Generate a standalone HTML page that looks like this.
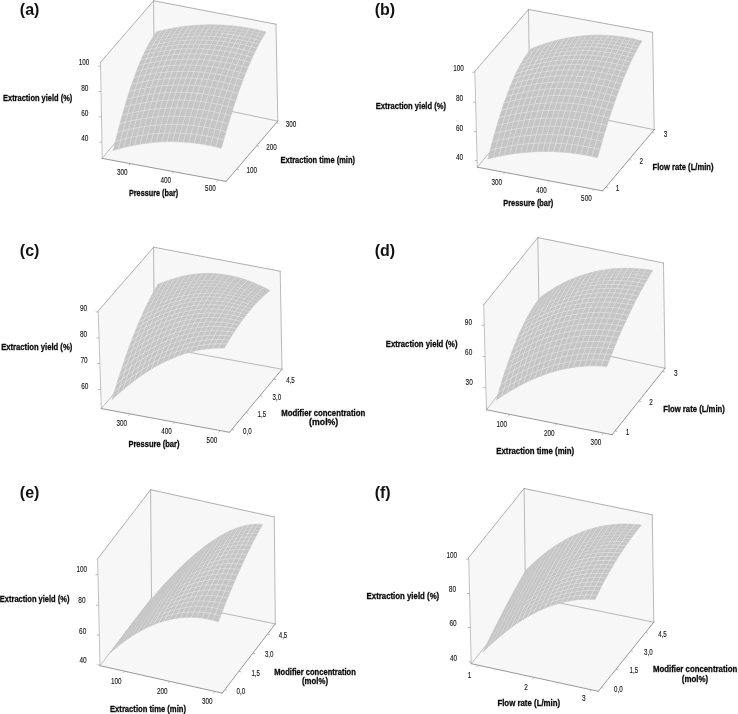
<!DOCTYPE html>
<html lang="en">
<head>
<meta charset="utf-8">
<title>Response surface plots of extraction yield</title>
<style>
html,body{margin:0;padding:0;background:#fff;}
body{width:738px;height:714px;overflow:hidden;}
svg{display:block;}
text{font-family:"Liberation Sans",sans-serif;fill:#222;}
.n{font-size:8.8px;fill:#111;stroke:#111;stroke-width:.12px;}
.t{font-size:9.2px;font-weight:bold;fill:#0a0a0a;stroke:#0a0a0a;stroke-width:.3px;}
.pl{font-size:16px;font-weight:bold;fill:#111;}
</style>
</head>
<body>
<svg width="738" height="714" viewBox="0 0 738 714">
<rect width="738" height="714" fill="#fff"/>
<polygon points="100.5,62.4 153.6,0.8 154.5,95.3 102.2,158.4" fill="#f7f7f7"/>
<polygon points="153.6,0.8 276,24.2 277.8,121.1 154.5,95.3" fill="#f7f7f7"/>
<polygon points="102.2,158.4 154.5,95.3 277.8,121.1 226.1,181.4" fill="#f7f7f7"/>
<path d="M102.2,158.4L154.5,95.3" stroke="#adadad" stroke-width="0.8" fill="none" stroke-linecap="round"/>
<path d="M154.5,95.3L277.8,121.1" stroke="#a6a6a6" stroke-width="0.8" fill="none" stroke-linecap="round"/>
<path d="M153.6,0.8L154.5,95.3" stroke="#a8a8a8" stroke-width="0.8" fill="none" stroke-linecap="round"/>
<path d="M100.5,62.4L153.6,0.8" stroke="#9c9c9c" stroke-width="0.8" fill="none" stroke-linecap="round"/>
<path d="M153.6,0.8L276,24.2" stroke="#9c9c9c" stroke-width="0.8" fill="none" stroke-linecap="round"/>
<path d="M100.5,62.4L102.2,158.4" stroke="#b2b2b2" stroke-width="0.8" fill="none" stroke-linecap="round"/>
<path d="M276,24.2L277.8,121.1" stroke="#a8a8a8" stroke-width="0.8" fill="none" stroke-linecap="round"/>
<polygon points="113.2,150.4 118.6,148.8 124,147.4 129.4,146.1 134.8,145 140.2,144.1 145.6,143.3 151,142.6 156.4,142.1 161.8,141.8 167.2,141.6 172.7,141.6 178.1,141.7 183.5,142 188.9,142.4 194.3,143 199.7,143.7 205.1,144.6 210.5,145.6 215.9,146.8 221.3,148.2 223.6,140 225.9,131.8 228.3,123.8 230.7,115.9 233.1,108.2 235.6,100.7 238,93.5 240.5,86.6 242.9,80 245.3,73.8 247.7,67.9 250.1,62.4 252.3,57.3 254.6,52.6 256.7,48.2 258.8,44.3 260.7,40.7 262.6,37.4 264.4,34.6 266,32 260.5,30.6 255.1,29.4 249.6,28.3 244.1,27.4 238.7,26.6 233.2,26 227.7,25.5 222.2,25.1 216.8,24.9 211.3,24.8 205.8,24.9 200.4,25.1 194.9,25.4 189.4,25.9 183.9,26.5 178.5,27.3 173,28.2 167.5,29.3 162.1,30.5 156.6,31.8 155,33.9 153.3,36.4 151.5,39.3 149.6,42.6 147.6,46.2 145.5,50.3 143.3,54.9 141.1,59.9 138.8,65.3 136.5,71.2 134.2,77.6 131.8,84.4 129.4,91.5 127,99.1 124.7,107 122.3,115.3 120,123.8 117.7,132.5 115.4,141.4" fill="#c5c5c5" stroke="#c5c5c5" stroke-width="0.6"/>
<path d="M151.5,39.3L157,38M153.3,36.4L158.8,35.1L164.2,34L169.7,32.9L175.2,32.1L180.6,31.3L186.1,30.7M155,33.9L160.5,32.6L166,31.4L171.4,30.4L176.9,29.5L182.4,28.8L187.8,28.1L193.3,27.7L198.8,27.4L204.2,27.2L209.7,27.1L215.2,27.2L220.6,27.5" fill="none" stroke="#bdbdbd" stroke-width="0.2" transform="translate(0.55,0.45)"/>
<path d="M151.5,39.3L157,38M153.3,36.4L158.8,35.1L164.2,34L169.7,32.9L175.2,32.1L180.6,31.3L186.1,30.7M155,33.9L160.5,32.6L166,31.4L171.4,30.4L176.9,29.5L182.4,28.8L187.8,28.1L193.3,27.7L198.8,27.4L204.2,27.2L209.7,27.1L215.2,27.2L220.6,27.5" fill="none" stroke="#e9e9e9" stroke-width="0.22" stroke-linecap="round"/>
<path d="M147.6,46.2L153,45M149.6,42.6L155,41.3L160.5,40.1L166,39.2L171.4,38.3L176.9,37.6L182.3,37L187.8,36.6M157,38L162.4,36.9L167.9,35.9L173.4,35L178.8,34.3L184.3,33.7L189.7,33.3L195.2,33L200.7,32.8L206.1,32.8L211.6,33L217,33.2L222.5,33.7M186.1,30.7L191.6,30.3L197,30L202.5,29.8L208,29.8L213.4,29.9L218.9,30.2L224.4,30.6L229.8,31.1L235.3,31.8L240.8,32.7L246.2,33.6L251.7,34.8L257.2,36M220.6,27.5L226.1,27.9L231.6,28.4L237,29.1L242.5,29.9L248,30.8L253.4,31.9L258.9,33.2L264.4,34.6" fill="none" stroke="#bdbdbd" stroke-width="0.3" transform="translate(0.55,0.45)"/>
<path d="M147.6,46.2L153,45M149.6,42.6L155,41.3L160.5,40.1L166,39.2L171.4,38.3L176.9,37.6L182.3,37L187.8,36.6M157,38L162.4,36.9L167.9,35.9L173.4,35L178.8,34.3L184.3,33.7L189.7,33.3L195.2,33L200.7,32.8L206.1,32.8L211.6,33L217,33.2L222.5,33.7M186.1,30.7L191.6,30.3L197,30L202.5,29.8L208,29.8L213.4,29.9L218.9,30.2L224.4,30.6L229.8,31.1L235.3,31.8L240.8,32.7L246.2,33.6L251.7,34.8L257.2,36M220.6,27.5L226.1,27.9L231.6,28.4L237,29.1L242.5,29.9L248,30.8L253.4,31.9L258.9,33.2L264.4,34.6" fill="none" stroke="#e9e9e9" stroke-width="0.4" stroke-linecap="round"/>
<path d="M118.6,148.8L120.8,139.9L123.1,131L125.4,122.3L127.7,113.9L130.1,105.7L132.5,97.8L134.9,90.2L137.2,83.1L139.6,76.3L142,70L144.3,64.1L146.6,58.6L148.8,53.6L150.9,49.1L153,45L155,41.3L157,38L158.8,35.1L160.5,32.6L162.1,30.5M124,147.4L126.2,138.5L128.5,129.7L130.8,121L133.1,112.6L135.5,104.4L137.9,96.6L140.3,89L142.7,81.9L145.1,75.2L147.4,68.8L149.7,63L152,57.5L154.2,52.5L156.4,48L158.5,43.8L160.5,40.1L162.4,36.9L164.2,34L166,31.4L167.5,29.3M129.4,146.1L131.6,137.3L133.9,128.5L136.2,119.9L138.6,111.5L140.9,103.4L143.3,95.5L145.7,88L148.1,80.9L150.5,74.2L152.8,67.9L155.2,62L157.5,56.5L159.7,51.5L161.9,47L164,42.9L166,39.2L167.9,35.9L169.7,32.9L171.4,30.4L173,28.2M134.8,145L137,136.2L139.3,127.5L141.6,118.9L144,110.5L146.3,102.4L148.7,94.6L151.1,87.2L153.5,80L155.9,73.3L158.3,67L160.6,61.2L162.9,55.7L165.1,50.7L167.3,46.2L169.4,42L171.4,38.3L173.4,35L175.2,32.1L176.9,29.5L178.5,27.3M140.2,144.1L142.4,135.3L144.7,126.6L147,118.1L149.4,109.7L151.8,101.7L154.2,93.9L156.6,86.4L159,79.3L161.4,72.6L163.7,66.3L166.1,60.5L168.3,55L170.6,50L172.8,45.5L174.9,41.3L176.9,37.6L178.8,34.3L180.6,31.3L182.4,28.8L183.9,26.5M145.6,143.3L147.9,134.5L150.1,125.9L152.4,117.4L154.8,109.1L157.2,101L159.6,93.3L162,85.9L164.4,78.8L166.8,72.1L169.2,65.8L171.5,59.9L173.8,54.5L176,49.5L178.2,44.9L180.3,40.8L182.3,37L184.3,33.7L186.1,30.7L187.8,28.1L189.4,25.9M151,142.6L153.3,133.9L155.5,125.3L157.9,116.9L160.2,108.6L162.6,100.6L165,92.8L167.4,85.4L169.8,78.4L172.2,71.7L174.6,65.4L176.9,59.6L179.2,54.1L181.5,49.1L183.7,44.5L185.8,40.4L187.8,36.6L189.7,33.3L191.6,30.3L193.3,27.7L194.9,25.4M156.4,142.1L158.7,133.5L161,124.9L163.3,116.5L165.6,108.2L168,100.3L170.4,92.5L172.9,85.2L175.3,78.1L177.7,71.5L180,65.2L182.4,59.3L184.7,53.9L186.9,48.9L189.1,44.3L191.2,40.1L193.3,36.3L195.2,33L197,30L198.8,27.4L200.4,25.1M161.8,141.8L164.1,133.2L166.4,124.6L168.7,116.3L171.1,108.1L173.5,100.1L175.9,92.4L178.3,85L180.7,78L183.1,71.4L185.5,65.1L187.8,59.2L190.1,53.8L192.4,48.8L194.6,44.2L196.7,40L198.7,36.2L200.7,32.8L202.5,29.8L204.2,27.2L205.8,24.9M167.2,141.6L169.5,133L171.8,124.5L174.1,116.2L176.5,108L178.9,100.1L181.3,92.4L183.7,85.1L186.1,78L188.5,71.4L190.9,65.1L193.3,59.3L195.6,53.9L197.8,48.8L200,44.2L202.1,40L204.2,36.2L206.1,32.8L208,29.8L209.7,27.1L211.3,24.8M172.7,141.6L174.9,133L177.2,124.6L179.5,116.3L181.9,108.1L184.3,100.2L186.7,92.6L189.1,85.2L191.6,78.2L194,71.6L196.4,65.3L198.7,59.5L201,54.1L203.3,49L205.5,44.4L207.6,40.2L209.6,36.4L211.6,33L213.4,29.9L215.2,27.2L216.8,24.9M178.1,141.7L180.3,133.2L182.6,124.8L184.9,116.5L187.3,108.4L189.7,100.5L192.1,92.9L194.6,85.6L197,78.6L199.4,71.9L201.8,65.7L204.2,59.8L206.5,54.4L208.7,49.4L210.9,44.7L213.1,40.5L215.1,36.7L217,33.2L218.9,30.2L220.6,27.5L222.2,25.1M183.5,142L185.7,133.5L188,125.1L190.4,116.9L192.7,108.8L195.1,100.9L197.6,93.3L200,86L202.4,79.1L204.9,72.4L207.2,66.2L209.6,60.3L211.9,54.9L214.2,49.8L216.4,45.2L218.5,41L220.6,37.1L222.5,33.7L224.4,30.6L226.1,27.9L227.7,25.5M188.9,142.4L191.1,134L193.4,125.6L195.8,117.4L198.2,109.3L200.6,101.5L203,93.9L205.4,86.6L207.9,79.7L210.3,73.1L212.7,66.8L215.1,61L217.4,55.5L219.6,50.5L221.8,45.8L224,41.6L226,37.7L228,34.2L229.8,31.1L231.6,28.4L233.2,26M194.3,143L196.5,134.6L198.8,126.3L201.2,118.1L203.6,110.1L206,102.2L208.4,94.7L210.9,87.4L213.3,80.5L215.7,73.9L218.1,67.6L220.5,61.8L222.8,56.3L225.1,51.3L227.3,46.6L229.4,42.3L231.5,38.4L233.4,35L235.3,31.8L237,29.1L238.7,26.6M199.7,143.7L201.9,135.4L204.2,127.1L206.6,118.9L209,110.9L211.4,103.1L213.9,95.6L216.3,88.3L218.7,81.4L221.2,74.8L223.6,68.6L225.9,62.7L228.3,57.3L230.5,52.2L232.7,47.5L234.9,43.2L236.9,39.3L238.9,35.8L240.8,32.7L242.5,29.9L244.1,27.4M205.1,144.6L207.3,136.3L209.7,128L212,119.9L214.4,111.9L216.8,104.2L219.3,96.6L221.7,89.4L224.2,82.5L226.6,75.9L229,69.7L231.4,63.8L233.7,58.3L236,53.2L238.2,48.6L240.3,44.3L242.4,40.3L244.4,36.8L246.2,33.6L248,30.8L249.6,28.3M210.5,145.6L212.8,137.4L215.1,129.2L217.4,121.1L219.8,113.1L222.3,105.4L224.7,97.9L227.2,90.6L229.6,83.7L232,77.1L234.4,70.9L236.8,65L239.2,59.6L241.4,54.5L243.7,49.8L245.8,45.4L247.9,41.5L249.8,38L251.7,34.8L253.4,31.9L255.1,29.4M215.9,146.8L218.2,138.6L220.5,130.4L222.8,122.3L225.3,114.4L227.7,106.7L230.1,99.2L232.6,92L235,85.1L237.5,78.5L239.9,72.3L242.3,66.4L244.6,60.9L246.9,55.8L249.1,51.1L251.3,46.8L253.3,42.8L255.3,39.2L257.2,36L258.9,33.2L260.5,30.6M115.4,141.4L120.8,139.9L126.2,138.5L131.6,137.3L137,136.2L142.4,135.3L147.9,134.5L153.3,133.9L158.7,133.5L164.1,133.2L169.5,133L174.9,133L180.3,133.2L185.7,133.5L191.1,134L196.5,134.6L201.9,135.4L207.3,136.3L212.8,137.4L218.2,138.6L223.6,140M117.7,132.5L123.1,131L128.5,129.7L133.9,128.5L139.3,127.5L144.7,126.6L150.1,125.9L155.5,125.3L161,124.9L166.4,124.6L171.8,124.5L177.2,124.6L182.6,124.8L188,125.1L193.4,125.6L198.8,126.3L204.2,127.1L209.7,128L215.1,129.2L220.5,130.4L225.9,131.8M120,123.8L125.4,122.3L130.8,121L136.2,119.9L141.6,118.9L147,118.1L152.4,117.4L157.9,116.9L163.3,116.5L168.7,116.3L174.1,116.2L179.5,116.3L184.9,116.5L190.4,116.9L195.8,117.4L201.2,118.1L206.6,118.9L212,119.9L217.4,121.1L222.8,122.3L228.3,123.8M122.3,115.3L127.7,113.9L133.1,112.6L138.6,111.5L144,110.5L149.4,109.7L154.8,109.1L160.2,108.6L165.6,108.2L171.1,108.1L176.5,108L181.9,108.1L187.3,108.4L192.7,108.8L198.2,109.3L203.6,110.1L209,110.9L214.4,111.9L219.8,113.1L225.3,114.4L230.7,115.9M124.7,107L130.1,105.7L135.5,104.4L140.9,103.4L146.3,102.4L151.8,101.7L157.2,101L162.6,100.6L168,100.3L173.5,100.1L178.9,100.1L184.3,100.2L189.7,100.5L195.1,100.9L200.6,101.5L206,102.2L211.4,103.1L216.8,104.2L222.3,105.4L227.7,106.7L233.1,108.2M127,99.1L132.5,97.8L137.9,96.6L143.3,95.5L148.7,94.6L154.2,93.9L159.6,93.3L165,92.8L170.4,92.5L175.9,92.4L181.3,92.4L186.7,92.6L192.1,92.9L197.6,93.3L203,93.9L208.4,94.7L213.9,95.6L219.3,96.6L224.7,97.9L230.1,99.2L235.6,100.7M129.4,91.5L134.9,90.2L140.3,89L145.7,88L151.1,87.2L156.6,86.4L162,85.9L167.4,85.4L172.9,85.2L178.3,85L183.7,85.1L189.1,85.2L194.6,85.6L200,86L205.4,86.6L210.9,87.4L216.3,88.3L221.7,89.4L227.2,90.6L232.6,92L238,93.5M131.8,84.4L137.2,83.1L142.7,81.9L148.1,80.9L153.5,80L159,79.3L164.4,78.8L169.8,78.4L175.3,78.1L180.7,78L186.1,78L191.6,78.2L197,78.6L202.4,79.1L207.9,79.7L213.3,80.5L218.7,81.4L224.2,82.5L229.6,83.7L235,85.1L240.5,86.6M134.2,77.6L139.6,76.3L145.1,75.2L150.5,74.2L155.9,73.3L161.4,72.6L166.8,72.1L172.2,71.7L177.7,71.5L183.1,71.4L188.5,71.4L194,71.6L199.4,71.9L204.9,72.4L210.3,73.1L215.7,73.9L221.2,74.8L226.6,75.9L232,77.1L237.5,78.5L242.9,80M136.5,71.2L142,70L147.4,68.8L152.8,67.9L158.3,67L163.7,66.3L169.2,65.8L174.6,65.4L180,65.2L185.5,65.1L190.9,65.1L196.4,65.3L201.8,65.7L207.2,66.2L212.7,66.8L218.1,67.6L223.6,68.6L229,69.7L234.4,70.9L239.9,72.3L245.3,73.8M138.8,65.3L144.3,64.1L149.7,63L155.2,62L160.6,61.2L166.1,60.5L171.5,59.9L176.9,59.6L182.4,59.3L187.8,59.2L193.3,59.3L198.7,59.5L204.2,59.8L209.6,60.3L215.1,61L220.5,61.8L225.9,62.7L231.4,63.8L236.8,65L242.3,66.4L247.7,67.9M141.1,59.9L146.6,58.6L152,57.5L157.5,56.5L162.9,55.7L168.3,55L173.8,54.5L179.2,54.1L184.7,53.9L190.1,53.8L195.6,53.9L201,54.1L206.5,54.4L211.9,54.9L217.4,55.5L222.8,56.3L228.3,57.3L233.7,58.3L239.2,59.6L244.6,60.9L250.1,62.4M143.3,54.9L148.8,53.6L154.2,52.5L159.7,51.5L165.1,50.7L170.6,50L176,49.5L181.5,49.1L186.9,48.9L192.4,48.8L197.8,48.8L203.3,49L208.7,49.4L214.2,49.8L219.6,50.5L225.1,51.3L230.5,52.2L236,53.2L241.4,54.5L246.9,55.8L252.3,57.3M145.5,50.3L150.9,49.1L156.4,48L161.9,47L167.3,46.2L172.8,45.5L178.2,44.9L183.7,44.5L189.1,44.3L194.6,44.2L200,44.2L205.5,44.4L210.9,44.7L216.4,45.2L221.8,45.8L227.3,46.6L232.7,47.5L238.2,48.6L243.7,49.8L249.1,51.1L254.6,52.6M153,45L158.5,43.8L164,42.9L169.4,42L174.9,41.3L180.3,40.8L185.8,40.4L191.2,40.1L196.7,40L202.1,40L207.6,40.2L213.1,40.5L218.5,41L224,41.6L229.4,42.3L234.9,43.2L240.3,44.3L245.8,45.4L251.3,46.8L256.7,48.2M187.8,36.6L193.3,36.3L198.7,36.2L204.2,36.2L209.6,36.4L215.1,36.7L220.6,37.1L226,37.7L231.5,38.4L236.9,39.3L242.4,40.3L247.9,41.5L253.3,42.8L258.8,44.3M222.5,33.7L228,34.2L233.4,35L238.9,35.8L244.4,36.8L249.8,38L255.3,39.2L260.7,40.7M257.2,36L262.6,37.4" fill="none" stroke="#bdbdbd" stroke-width="0.5" transform="translate(0.55,0.45)"/>
<path d="M118.6,148.8L120.8,139.9L123.1,131L125.4,122.3L127.7,113.9L130.1,105.7L132.5,97.8L134.9,90.2L137.2,83.1L139.6,76.3L142,70L144.3,64.1L146.6,58.6L148.8,53.6L150.9,49.1L153,45L155,41.3L157,38L158.8,35.1L160.5,32.6L162.1,30.5M124,147.4L126.2,138.5L128.5,129.7L130.8,121L133.1,112.6L135.5,104.4L137.9,96.6L140.3,89L142.7,81.9L145.1,75.2L147.4,68.8L149.7,63L152,57.5L154.2,52.5L156.4,48L158.5,43.8L160.5,40.1L162.4,36.9L164.2,34L166,31.4L167.5,29.3M129.4,146.1L131.6,137.3L133.9,128.5L136.2,119.9L138.6,111.5L140.9,103.4L143.3,95.5L145.7,88L148.1,80.9L150.5,74.2L152.8,67.9L155.2,62L157.5,56.5L159.7,51.5L161.9,47L164,42.9L166,39.2L167.9,35.9L169.7,32.9L171.4,30.4L173,28.2M134.8,145L137,136.2L139.3,127.5L141.6,118.9L144,110.5L146.3,102.4L148.7,94.6L151.1,87.2L153.5,80L155.9,73.3L158.3,67L160.6,61.2L162.9,55.7L165.1,50.7L167.3,46.2L169.4,42L171.4,38.3L173.4,35L175.2,32.1L176.9,29.5L178.5,27.3M140.2,144.1L142.4,135.3L144.7,126.6L147,118.1L149.4,109.7L151.8,101.7L154.2,93.9L156.6,86.4L159,79.3L161.4,72.6L163.7,66.3L166.1,60.5L168.3,55L170.6,50L172.8,45.5L174.9,41.3L176.9,37.6L178.8,34.3L180.6,31.3L182.4,28.8L183.9,26.5M145.6,143.3L147.9,134.5L150.1,125.9L152.4,117.4L154.8,109.1L157.2,101L159.6,93.3L162,85.9L164.4,78.8L166.8,72.1L169.2,65.8L171.5,59.9L173.8,54.5L176,49.5L178.2,44.9L180.3,40.8L182.3,37L184.3,33.7L186.1,30.7L187.8,28.1L189.4,25.9M151,142.6L153.3,133.9L155.5,125.3L157.9,116.9L160.2,108.6L162.6,100.6L165,92.8L167.4,85.4L169.8,78.4L172.2,71.7L174.6,65.4L176.9,59.6L179.2,54.1L181.5,49.1L183.7,44.5L185.8,40.4L187.8,36.6L189.7,33.3L191.6,30.3L193.3,27.7L194.9,25.4M156.4,142.1L158.7,133.5L161,124.9L163.3,116.5L165.6,108.2L168,100.3L170.4,92.5L172.9,85.2L175.3,78.1L177.7,71.5L180,65.2L182.4,59.3L184.7,53.9L186.9,48.9L189.1,44.3L191.2,40.1L193.3,36.3L195.2,33L197,30L198.8,27.4L200.4,25.1M161.8,141.8L164.1,133.2L166.4,124.6L168.7,116.3L171.1,108.1L173.5,100.1L175.9,92.4L178.3,85L180.7,78L183.1,71.4L185.5,65.1L187.8,59.2L190.1,53.8L192.4,48.8L194.6,44.2L196.7,40L198.7,36.2L200.7,32.8L202.5,29.8L204.2,27.2L205.8,24.9M167.2,141.6L169.5,133L171.8,124.5L174.1,116.2L176.5,108L178.9,100.1L181.3,92.4L183.7,85.1L186.1,78L188.5,71.4L190.9,65.1L193.3,59.3L195.6,53.9L197.8,48.8L200,44.2L202.1,40L204.2,36.2L206.1,32.8L208,29.8L209.7,27.1L211.3,24.8M172.7,141.6L174.9,133L177.2,124.6L179.5,116.3L181.9,108.1L184.3,100.2L186.7,92.6L189.1,85.2L191.6,78.2L194,71.6L196.4,65.3L198.7,59.5L201,54.1L203.3,49L205.5,44.4L207.6,40.2L209.6,36.4L211.6,33L213.4,29.9L215.2,27.2L216.8,24.9M178.1,141.7L180.3,133.2L182.6,124.8L184.9,116.5L187.3,108.4L189.7,100.5L192.1,92.9L194.6,85.6L197,78.6L199.4,71.9L201.8,65.7L204.2,59.8L206.5,54.4L208.7,49.4L210.9,44.7L213.1,40.5L215.1,36.7L217,33.2L218.9,30.2L220.6,27.5L222.2,25.1M183.5,142L185.7,133.5L188,125.1L190.4,116.9L192.7,108.8L195.1,100.9L197.6,93.3L200,86L202.4,79.1L204.9,72.4L207.2,66.2L209.6,60.3L211.9,54.9L214.2,49.8L216.4,45.2L218.5,41L220.6,37.1L222.5,33.7L224.4,30.6L226.1,27.9L227.7,25.5M188.9,142.4L191.1,134L193.4,125.6L195.8,117.4L198.2,109.3L200.6,101.5L203,93.9L205.4,86.6L207.9,79.7L210.3,73.1L212.7,66.8L215.1,61L217.4,55.5L219.6,50.5L221.8,45.8L224,41.6L226,37.7L228,34.2L229.8,31.1L231.6,28.4L233.2,26M194.3,143L196.5,134.6L198.8,126.3L201.2,118.1L203.6,110.1L206,102.2L208.4,94.7L210.9,87.4L213.3,80.5L215.7,73.9L218.1,67.6L220.5,61.8L222.8,56.3L225.1,51.3L227.3,46.6L229.4,42.3L231.5,38.4L233.4,35L235.3,31.8L237,29.1L238.7,26.6M199.7,143.7L201.9,135.4L204.2,127.1L206.6,118.9L209,110.9L211.4,103.1L213.9,95.6L216.3,88.3L218.7,81.4L221.2,74.8L223.6,68.6L225.9,62.7L228.3,57.3L230.5,52.2L232.7,47.5L234.9,43.2L236.9,39.3L238.9,35.8L240.8,32.7L242.5,29.9L244.1,27.4M205.1,144.6L207.3,136.3L209.7,128L212,119.9L214.4,111.9L216.8,104.2L219.3,96.6L221.7,89.4L224.2,82.5L226.6,75.9L229,69.7L231.4,63.8L233.7,58.3L236,53.2L238.2,48.6L240.3,44.3L242.4,40.3L244.4,36.8L246.2,33.6L248,30.8L249.6,28.3M210.5,145.6L212.8,137.4L215.1,129.2L217.4,121.1L219.8,113.1L222.3,105.4L224.7,97.9L227.2,90.6L229.6,83.7L232,77.1L234.4,70.9L236.8,65L239.2,59.6L241.4,54.5L243.7,49.8L245.8,45.4L247.9,41.5L249.8,38L251.7,34.8L253.4,31.9L255.1,29.4M215.9,146.8L218.2,138.6L220.5,130.4L222.8,122.3L225.3,114.4L227.7,106.7L230.1,99.2L232.6,92L235,85.1L237.5,78.5L239.9,72.3L242.3,66.4L244.6,60.9L246.9,55.8L249.1,51.1L251.3,46.8L253.3,42.8L255.3,39.2L257.2,36L258.9,33.2L260.5,30.6M115.4,141.4L120.8,139.9L126.2,138.5L131.6,137.3L137,136.2L142.4,135.3L147.9,134.5L153.3,133.9L158.7,133.5L164.1,133.2L169.5,133L174.9,133L180.3,133.2L185.7,133.5L191.1,134L196.5,134.6L201.9,135.4L207.3,136.3L212.8,137.4L218.2,138.6L223.6,140M117.7,132.5L123.1,131L128.5,129.7L133.9,128.5L139.3,127.5L144.7,126.6L150.1,125.9L155.5,125.3L161,124.9L166.4,124.6L171.8,124.5L177.2,124.6L182.6,124.8L188,125.1L193.4,125.6L198.8,126.3L204.2,127.1L209.7,128L215.1,129.2L220.5,130.4L225.9,131.8M120,123.8L125.4,122.3L130.8,121L136.2,119.9L141.6,118.9L147,118.1L152.4,117.4L157.9,116.9L163.3,116.5L168.7,116.3L174.1,116.2L179.5,116.3L184.9,116.5L190.4,116.9L195.8,117.4L201.2,118.1L206.6,118.9L212,119.9L217.4,121.1L222.8,122.3L228.3,123.8M122.3,115.3L127.7,113.9L133.1,112.6L138.6,111.5L144,110.5L149.4,109.7L154.8,109.1L160.2,108.6L165.6,108.2L171.1,108.1L176.5,108L181.9,108.1L187.3,108.4L192.7,108.8L198.2,109.3L203.6,110.1L209,110.9L214.4,111.9L219.8,113.1L225.3,114.4L230.7,115.9M124.7,107L130.1,105.7L135.5,104.4L140.9,103.4L146.3,102.4L151.8,101.7L157.2,101L162.6,100.6L168,100.3L173.5,100.1L178.9,100.1L184.3,100.2L189.7,100.5L195.1,100.9L200.6,101.5L206,102.2L211.4,103.1L216.8,104.2L222.3,105.4L227.7,106.7L233.1,108.2M127,99.1L132.5,97.8L137.9,96.6L143.3,95.5L148.7,94.6L154.2,93.9L159.6,93.3L165,92.8L170.4,92.5L175.9,92.4L181.3,92.4L186.7,92.6L192.1,92.9L197.6,93.3L203,93.9L208.4,94.7L213.9,95.6L219.3,96.6L224.7,97.9L230.1,99.2L235.6,100.7M129.4,91.5L134.9,90.2L140.3,89L145.7,88L151.1,87.2L156.6,86.4L162,85.9L167.4,85.4L172.9,85.2L178.3,85L183.7,85.1L189.1,85.2L194.6,85.6L200,86L205.4,86.6L210.9,87.4L216.3,88.3L221.7,89.4L227.2,90.6L232.6,92L238,93.5M131.8,84.4L137.2,83.1L142.7,81.9L148.1,80.9L153.5,80L159,79.3L164.4,78.8L169.8,78.4L175.3,78.1L180.7,78L186.1,78L191.6,78.2L197,78.6L202.4,79.1L207.9,79.7L213.3,80.5L218.7,81.4L224.2,82.5L229.6,83.7L235,85.1L240.5,86.6M134.2,77.6L139.6,76.3L145.1,75.2L150.5,74.2L155.9,73.3L161.4,72.6L166.8,72.1L172.2,71.7L177.7,71.5L183.1,71.4L188.5,71.4L194,71.6L199.4,71.9L204.9,72.4L210.3,73.1L215.7,73.9L221.2,74.8L226.6,75.9L232,77.1L237.5,78.5L242.9,80M136.5,71.2L142,70L147.4,68.8L152.8,67.9L158.3,67L163.7,66.3L169.2,65.8L174.6,65.4L180,65.2L185.5,65.1L190.9,65.1L196.4,65.3L201.8,65.7L207.2,66.2L212.7,66.8L218.1,67.6L223.6,68.6L229,69.7L234.4,70.9L239.9,72.3L245.3,73.8M138.8,65.3L144.3,64.1L149.7,63L155.2,62L160.6,61.2L166.1,60.5L171.5,59.9L176.9,59.6L182.4,59.3L187.8,59.2L193.3,59.3L198.7,59.5L204.2,59.8L209.6,60.3L215.1,61L220.5,61.8L225.9,62.7L231.4,63.8L236.8,65L242.3,66.4L247.7,67.9M141.1,59.9L146.6,58.6L152,57.5L157.5,56.5L162.9,55.7L168.3,55L173.8,54.5L179.2,54.1L184.7,53.9L190.1,53.8L195.6,53.9L201,54.1L206.5,54.4L211.9,54.9L217.4,55.5L222.8,56.3L228.3,57.3L233.7,58.3L239.2,59.6L244.6,60.9L250.1,62.4M143.3,54.9L148.8,53.6L154.2,52.5L159.7,51.5L165.1,50.7L170.6,50L176,49.5L181.5,49.1L186.9,48.9L192.4,48.8L197.8,48.8L203.3,49L208.7,49.4L214.2,49.8L219.6,50.5L225.1,51.3L230.5,52.2L236,53.2L241.4,54.5L246.9,55.8L252.3,57.3M145.5,50.3L150.9,49.1L156.4,48L161.9,47L167.3,46.2L172.8,45.5L178.2,44.9L183.7,44.5L189.1,44.3L194.6,44.2L200,44.2L205.5,44.4L210.9,44.7L216.4,45.2L221.8,45.8L227.3,46.6L232.7,47.5L238.2,48.6L243.7,49.8L249.1,51.1L254.6,52.6M153,45L158.5,43.8L164,42.9L169.4,42L174.9,41.3L180.3,40.8L185.8,40.4L191.2,40.1L196.7,40L202.1,40L207.6,40.2L213.1,40.5L218.5,41L224,41.6L229.4,42.3L234.9,43.2L240.3,44.3L245.8,45.4L251.3,46.8L256.7,48.2M187.8,36.6L193.3,36.3L198.7,36.2L204.2,36.2L209.6,36.4L215.1,36.7L220.6,37.1L226,37.7L231.5,38.4L236.9,39.3L242.4,40.3L247.9,41.5L253.3,42.8L258.8,44.3M222.5,33.7L228,34.2L233.4,35L238.9,35.8L244.4,36.8L249.8,38L255.3,39.2L260.7,40.7M257.2,36L262.6,37.4" fill="none" stroke="#e9e9e9" stroke-width="0.6" stroke-linecap="round"/>
<path d="M102.2,158.4L226.1,181.4" stroke="#8c8c8c" stroke-width="0.9" fill="none" stroke-linecap="round"/>
<path d="M226.1,181.4L277.8,121.1" stroke="#8c8c8c" stroke-width="0.9" fill="none" stroke-linecap="round"/>
<text x="78.7" y="64.7" class="n" textLength="10.6" lengthAdjust="spacingAndGlyphs">100</text>
<text x="81.2" y="90.7" class="n" textLength="7.2" lengthAdjust="spacingAndGlyphs">80</text>
<text x="81.2" y="115.8" class="n" textLength="7.2" lengthAdjust="spacingAndGlyphs">60</text>
<text x="81.2" y="141.3" class="n" textLength="7.2" lengthAdjust="spacingAndGlyphs">40</text>
<text x="116.9" y="175.4" class="n" textLength="10.6" lengthAdjust="spacingAndGlyphs">300</text>
<text x="160.5" y="183.2" class="n" textLength="10.6" lengthAdjust="spacingAndGlyphs">400</text>
<text x="205.1" y="191.2" class="n" textLength="10.6" lengthAdjust="spacingAndGlyphs">500</text>
<text x="246.5" y="173.3" class="n" textLength="10.6" lengthAdjust="spacingAndGlyphs">100</text>
<text x="266.2" y="150.1" class="n" textLength="10.6" lengthAdjust="spacingAndGlyphs">200</text>
<text x="285.7" y="127.1" class="n" textLength="10.6" lengthAdjust="spacingAndGlyphs">300</text>
<path d="M100.6,66.2h-2.6M101,91.6h-2.6M101.5,116.8h-2.6M101.9,142.2h-2.6M130.3,163.6l-1.6,1.8M173.7,171.7l-1.6,1.8M218.1,179.9l-1.6,1.8M236.6,169.2l2.4,0.4M256.5,146l2.4,0.4M276.2,123l2.4,0.4" fill="none" stroke="#a8a8a8" stroke-width="0.8"/>
<text x="3" y="100.5" class="t" textLength="69.3" lengthAdjust="spacingAndGlyphs">Extraction yield (%)</text>
<text x="128.9" y="196" class="t" textLength="49.4" lengthAdjust="spacingAndGlyphs">Pressure (bar)</text>
<text x="280.5" y="163" class="t" textLength="74.5" lengthAdjust="spacingAndGlyphs">Extraction time (min)</text>
<text x="19.8" y="15.4" class="pl">(a)</text>
<polygon points="474.8,71.3 528.5,9.5 529.8,104.3 477.3,167.2" fill="#f7f7f7"/>
<polygon points="528.5,9.5 652.6,32.3 654.2,129.7 529.8,104.3" fill="#f7f7f7"/>
<polygon points="477.3,167.2 529.8,104.3 654.2,129.7 602.7,190.9" fill="#f7f7f7"/>
<path d="M477.3,167.2L529.8,104.3" stroke="#adadad" stroke-width="0.8" fill="none" stroke-linecap="round"/>
<path d="M529.8,104.3L654.2,129.7" stroke="#a6a6a6" stroke-width="0.8" fill="none" stroke-linecap="round"/>
<path d="M528.5,9.5L529.8,104.3" stroke="#a8a8a8" stroke-width="0.8" fill="none" stroke-linecap="round"/>
<path d="M474.8,71.3L528.5,9.5" stroke="#9c9c9c" stroke-width="0.8" fill="none" stroke-linecap="round"/>
<path d="M528.5,9.5L652.6,32.3" stroke="#9c9c9c" stroke-width="0.8" fill="none" stroke-linecap="round"/>
<path d="M474.8,71.3L477.3,167.2" stroke="#b2b2b2" stroke-width="0.8" fill="none" stroke-linecap="round"/>
<path d="M652.6,32.3L654.2,129.7" stroke="#a8a8a8" stroke-width="0.8" fill="none" stroke-linecap="round"/>
<polygon points="487.9,158.9 493.4,157.5 498.9,156.3 504.3,155.2 509.8,154.3 515.3,153.5 520.8,152.8 526.3,152.3 531.7,151.9 537.2,151.6 542.7,151.5 548.2,151.5 553.7,151.6 559.1,151.9 564.6,152.3 570.1,152.8 575.6,153.5 581.1,154.3 586.5,155.3 592,156.4 597.5,157.6 599.8,149.5 602.1,141.5 604.4,133.5 606.8,125.7 609.2,118.1 611.7,110.7 614.1,103.5 616.5,96.6 619,90 621.4,83.7 623.7,77.8 626.1,72.3 628.3,67.1 630.5,62.2 632.7,57.8 634.7,53.7 636.7,50 638.5,46.6 640.3,43.6 641.9,40.9 636.4,39.5 630.8,38.3 625.3,37.3 619.8,36.5 614.2,35.9 608.7,35.4 603.2,35.2 597.7,35.1 592.1,35.2 586.6,35.5 581.1,36 575.5,36.7 570,37.5 564.5,38.5 558.9,39.8 553.4,41.2 547.9,42.8 542.4,44.6 536.8,46.5 531.3,48.7 529.7,50.5 528,52.7 526.2,55.2 524.3,58.1 522.3,61.3 520.2,65 518,69.1 515.8,73.7 513.5,78.7 511.2,84.2 508.9,90 506.5,96.4 504.1,103.1 501.7,110.2 499.4,117.7 497,125.5 494.7,133.5 492.4,141.8 490.1,150.3" fill="#c5c5c5" stroke="#c5c5c5" stroke-width="0.6"/>
<path d="M528,52.7L533.5,50.6L539.1,48.8M529.7,50.5L535.2,48.4L540.8,46.5L546.3,44.8L551.8,43.2L557.4,41.9" fill="none" stroke="#bdbdbd" stroke-width="0.1" transform="translate(0.55,0.45)"/>
<path d="M528,52.7L533.5,50.6L539.1,48.8M529.7,50.5L535.2,48.4L540.8,46.5L546.3,44.8L551.8,43.2L557.4,41.9" fill="none" stroke="#e9e9e9" stroke-width="0.1" stroke-linecap="round"/>
<path d="M524.3,58.1L529.8,56.1L535.3,54.4L540.9,52.9M526.2,55.2L531.7,53.2L537.2,51.4L542.8,49.8L548.3,48.4L553.8,47.1L559.3,46M539.1,48.8L544.6,47.1L550.1,45.6L555.6,44.3L561.2,43.2L566.7,42.3L572.2,41.5L577.8,40.9M557.4,41.9L562.9,40.7L568.4,39.7L573.9,38.9L579.5,38.3L585,37.8L590.5,37.6L596.1,37.5" fill="none" stroke="#bdbdbd" stroke-width="0.2" transform="translate(0.55,0.45)"/>
<path d="M524.3,58.1L529.8,56.1L535.3,54.4L540.9,52.9M526.2,55.2L531.7,53.2L537.2,51.4L542.8,49.8L548.3,48.4L553.8,47.1L559.3,46M539.1,48.8L544.6,47.1L550.1,45.6L555.6,44.3L561.2,43.2L566.7,42.3L572.2,41.5L577.8,40.9M557.4,41.9L562.9,40.7L568.4,39.7L573.9,38.9L579.5,38.3L585,37.8L590.5,37.6L596.1,37.5" fill="none" stroke="#e9e9e9" stroke-width="0.22" stroke-linecap="round"/>
<path d="M533.5,50.6L535.2,48.4L536.8,46.5M539.1,48.8L540.8,46.5L542.4,44.6M546.3,44.8L547.9,42.8M520.2,65L525.7,63.2L531.2,61.6L536.7,60.2M522.3,61.3L527.8,59.5L533.3,57.8L538.8,56.3L544.4,55L549.9,53.9L555.4,52.9M540.9,52.9L546.4,51.5L551.9,50.3L557.4,49.3L562.9,48.4L568.5,47.8L574,47.3M559.3,46L564.9,45.2L570.4,44.4L575.9,43.9L581.4,43.6L587,43.4L592.5,43.4L598,43.6M577.8,40.9L583.3,40.5L588.8,40.3L594.3,40.3L599.9,40.4L605.4,40.8L610.9,41.3L616.4,42L622,42.9M596.1,37.5L601.6,37.6L607.1,37.9L612.6,38.4L618.2,39.1L623.7,39.9L629.2,41L634.8,42.2L640.3,43.6" fill="none" stroke="#bdbdbd" stroke-width="0.3" transform="translate(0.55,0.45)"/>
<path d="M533.5,50.6L535.2,48.4L536.8,46.5M539.1,48.8L540.8,46.5L542.4,44.6M546.3,44.8L547.9,42.8M520.2,65L525.7,63.2L531.2,61.6L536.7,60.2M522.3,61.3L527.8,59.5L533.3,57.8L538.8,56.3L544.4,55L549.9,53.9L555.4,52.9M540.9,52.9L546.4,51.5L551.9,50.3L557.4,49.3L562.9,48.4L568.5,47.8L574,47.3M559.3,46L564.9,45.2L570.4,44.4L575.9,43.9L581.4,43.6L587,43.4L592.5,43.4L598,43.6M577.8,40.9L583.3,40.5L588.8,40.3L594.3,40.3L599.9,40.4L605.4,40.8L610.9,41.3L616.4,42L622,42.9M596.1,37.5L601.6,37.6L607.1,37.9L612.6,38.4L618.2,39.1L623.7,39.9L629.2,41L634.8,42.2L640.3,43.6" fill="none" stroke="#e9e9e9" stroke-width="0.4" stroke-linecap="round"/>
<path d="M493.4,157.5L495.6,149L497.8,140.5L500.1,132.2L502.5,124.1L504.9,116.3L507.2,108.8L509.6,101.6L512,94.9L514.4,88.5L516.7,82.6L519.1,77.1L521.3,72L523.6,67.4L525.7,63.2L527.8,59.5L529.8,56.1L531.7,53.2L533.5,50.6M498.9,156.3L501.1,147.7L503.3,139.3L505.6,130.9L508,122.9L510.3,115L512.7,107.5L515.1,100.3L517.5,93.6L519.9,87.2L522.2,81.2L524.6,75.6L526.8,70.5L529.1,65.9L531.2,61.6L533.3,57.8L535.3,54.4L537.2,51.4L539.1,48.8M504.3,155.2L506.5,146.7L508.8,138.2L511.1,129.9L513.5,121.8L515.8,113.9L518.2,106.4L520.6,99.2L523,92.4L525.4,86L527.7,79.9L530.1,74.4L532.4,69.2L534.6,64.5L536.7,60.2L538.8,56.3L540.9,52.9L542.8,49.8L544.6,47.1L546.3,44.8M509.8,154.3L512,145.7L514.3,137.2L516.6,128.9L519,120.8L521.3,113L523.7,105.4L526.1,98.2L528.5,91.4L530.9,84.9L533.3,78.9L535.6,73.2L537.9,68L540.1,63.3L542.3,58.9L544.4,55L546.4,51.5L548.3,48.4L550.1,45.6L551.8,43.2L553.4,41.2M515.3,153.5L517.5,144.9L519.8,136.5L522.1,128.1L524.4,120L526.8,112.2L529.2,104.6L531.6,97.4L534,90.5L536.4,84L538.8,77.9L541.1,72.3L543.4,67L545.6,62.2L547.8,57.8L549.9,53.9L551.9,50.3L553.8,47.1L555.6,44.3L557.4,41.9L558.9,39.8M520.8,152.8L523,144.3L525.3,135.8L527.6,127.5L529.9,119.4L532.3,111.5L534.7,104L537.1,96.7L539.5,89.8L541.9,83.3L544.3,77.2L546.6,71.5L548.9,66.2L551.1,61.3L553.3,56.9L555.4,52.9L557.4,49.3L559.3,46L561.2,43.2L562.9,40.7L564.5,38.5M526.3,152.3L528.5,143.7L530.8,135.3L533.1,127L535.4,118.9L537.8,111L540.2,103.4L542.6,96.2L545,89.3L547.4,82.7L549.8,76.6L552.1,70.9L554.4,65.5L556.6,60.6L558.8,56.2L560.9,52.1L562.9,48.4L564.9,45.2L566.7,42.3L568.4,39.7L570,37.5M531.7,151.9L534,143.3L536.2,134.9L538.6,126.6L540.9,118.5L543.3,110.7L545.7,103.1L548.1,95.8L550.5,88.9L552.9,82.3L555.3,76.2L557.6,70.4L559.9,65.1L562.2,60.1L564.3,55.6L566.4,51.5L568.5,47.8L570.4,44.4L572.2,41.5L573.9,38.9L575.5,36.7M537.2,151.6L539.4,143.1L541.7,134.7L544,126.4L546.4,118.3L548.8,110.5L551.2,102.9L553.6,95.6L556,88.7L558.4,82.1L560.8,75.9L563.1,70.1L565.4,64.7L567.7,59.8L569.8,55.2L572,51L574,47.3L575.9,43.9L577.8,40.9L579.5,38.3L581.1,36M542.7,151.5L544.9,143L547.2,134.6L549.5,126.3L551.9,118.3L554.3,110.4L556.7,102.8L559.1,95.6L561.5,88.6L563.9,82L566.3,75.8L568.6,70L570.9,64.6L573.2,59.6L575.4,55L577.5,50.8L579.5,47L581.4,43.6L583.3,40.5L585,37.8L586.6,35.5M548.2,151.5L550.4,143L552.7,134.7L555,126.4L557.4,118.4L559.8,110.5L562.2,102.9L564.6,95.6L567,88.7L569.4,82.1L571.8,75.9L574.1,70L576.4,64.6L578.7,59.5L580.9,54.9L583,50.7L585,46.8L587,43.4L588.8,40.3L590.5,37.6L592.1,35.2M553.7,151.6L555.9,143.2L558.2,134.9L560.5,126.6L562.9,118.6L565.3,110.8L567.7,103.2L570.1,95.9L572.5,88.9L574.9,82.3L577.3,76.1L579.7,70.2L582,64.8L584.2,59.7L586.4,55L588.5,50.8L590.5,46.9L592.5,43.4L594.3,40.3L596.1,37.5L597.7,35.1M559.1,151.9L561.4,143.5L563.7,135.2L566,127L568.4,119L570.8,111.1L573.2,103.6L575.6,96.3L578,89.3L580.4,82.7L582.8,76.5L585.2,70.6L587.5,65.1L589.7,60L591.9,55.3L594,51L596.1,47.1L598,43.6L599.9,40.4L601.6,37.6L603.2,35.2M564.6,152.3L566.9,143.9L569.1,135.7L571.5,127.5L573.9,119.5L576.3,111.7L578.7,104.1L581.1,96.9L583.5,89.9L585.9,83.3L588.3,77L590.7,71.1L593,65.6L595.2,60.5L597.4,55.8L599.6,51.5L601.6,47.5L603.5,44L605.4,40.8L607.1,37.9L608.7,35.4M570.1,152.8L572.3,144.5L574.6,136.3L577,128.1L579.4,120.2L581.8,112.4L584.2,104.8L586.6,97.6L589,90.6L591.4,84L593.8,77.7L596.2,71.8L598.5,66.3L600.8,61.2L603,56.4L605.1,52.1L607.1,48.1L609.1,44.5L610.9,41.3L612.6,38.4L614.2,35.9M575.6,153.5L577.8,145.2L580.1,137L582.5,128.9L584.8,121L587.3,113.2L589.7,105.7L592.1,98.5L594.5,91.5L596.9,84.9L599.3,78.6L601.7,72.7L604,67.2L606.3,62L608.5,57.2L610.6,52.9L612.6,48.9L614.6,45.2L616.4,42L618.2,39.1L619.8,36.5M581.1,154.3L583.3,146.1L585.6,137.9L588,129.9L590.3,121.9L592.7,114.2L595.2,106.7L597.6,99.5L600,92.5L602.5,85.9L604.8,79.6L607.2,73.7L609.5,68.2L611.8,63L614,58.2L616.1,53.8L618.2,49.8L620.1,46.2L622,42.9L623.7,39.9L625.3,37.3M586.5,155.3L588.8,147.1L591.1,139L593.4,130.9L595.8,123.1L598.2,115.4L600.7,107.9L603.1,100.7L605.5,93.7L608,87.1L610.4,80.8L612.7,74.9L615,69.4L617.3,64.2L619.5,59.4L621.6,55L623.7,50.9L625.6,47.2L627.5,43.9L629.2,41L630.8,38.3M592,156.4L594.3,148.2L596.6,140.2L598.9,132.2L601.3,124.3L603.7,116.6L606.2,109.2L608.6,102L611,95.1L613.5,88.5L615.9,82.2L618.2,76.3L620.5,70.7L622.8,65.5L625,60.7L627.2,56.3L629.2,52.2L631.2,48.5L633,45.2L634.8,42.2L636.4,39.5M490.1,150.3L495.6,149L501.1,147.7L506.5,146.7L512,145.7L517.5,144.9L523,144.3L528.5,143.7L534,143.3L539.4,143.1L544.9,143L550.4,143L555.9,143.2L561.4,143.5L566.9,143.9L572.3,144.5L577.8,145.2L583.3,146.1L588.8,147.1L594.3,148.2L599.8,149.5M492.4,141.8L497.8,140.5L503.3,139.3L508.8,138.2L514.3,137.2L519.8,136.5L525.3,135.8L530.8,135.3L536.2,134.9L541.7,134.7L547.2,134.6L552.7,134.7L558.2,134.9L563.7,135.2L569.1,135.7L574.6,136.3L580.1,137L585.6,137.9L591.1,139L596.6,140.2L602.1,141.5M494.7,133.5L500.1,132.2L505.6,130.9L511.1,129.9L516.6,128.9L522.1,128.1L527.6,127.5L533.1,127L538.6,126.6L544,126.4L549.5,126.3L555,126.4L560.5,126.6L566,127L571.5,127.5L577,128.1L582.5,128.9L588,129.9L593.4,130.9L598.9,132.2L604.4,133.5M497,125.5L502.5,124.1L508,122.9L513.5,121.8L519,120.8L524.4,120L529.9,119.4L535.4,118.9L540.9,118.5L546.4,118.3L551.9,118.3L557.4,118.4L562.9,118.6L568.4,119L573.9,119.5L579.4,120.2L584.8,121L590.3,121.9L595.8,123.1L601.3,124.3L606.8,125.7M499.4,117.7L504.9,116.3L510.3,115L515.8,113.9L521.3,113L526.8,112.2L532.3,111.5L537.8,111L543.3,110.7L548.8,110.5L554.3,110.4L559.8,110.5L565.3,110.8L570.8,111.1L576.3,111.7L581.8,112.4L587.3,113.2L592.7,114.2L598.2,115.4L603.7,116.6L609.2,118.1M501.7,110.2L507.2,108.8L512.7,107.5L518.2,106.4L523.7,105.4L529.2,104.6L534.7,104L540.2,103.4L545.7,103.1L551.2,102.9L556.7,102.8L562.2,102.9L567.7,103.2L573.2,103.6L578.7,104.1L584.2,104.8L589.7,105.7L595.2,106.7L600.7,107.9L606.2,109.2L611.7,110.7M504.1,103.1L509.6,101.6L515.1,100.3L520.6,99.2L526.1,98.2L531.6,97.4L537.1,96.7L542.6,96.2L548.1,95.8L553.6,95.6L559.1,95.6L564.6,95.6L570.1,95.9L575.6,96.3L581.1,96.9L586.6,97.6L592.1,98.5L597.6,99.5L603.1,100.7L608.6,102L614.1,103.5M506.5,96.4L512,94.9L517.5,93.6L523,92.4L528.5,91.4L534,90.5L539.5,89.8L545,89.3L550.5,88.9L556,88.7L561.5,88.6L567,88.7L572.5,88.9L578,89.3L583.5,89.9L589,90.6L594.5,91.5L600,92.5L605.5,93.7L611,95.1L616.5,96.6M508.9,90L514.4,88.5L519.9,87.2L525.4,86L530.9,84.9L536.4,84L541.9,83.3L547.4,82.7L552.9,82.3L558.4,82.1L563.9,82L569.4,82.1L574.9,82.3L580.4,82.7L585.9,83.3L591.4,84L596.9,84.9L602.5,85.9L608,87.1L613.5,88.5L619,90M511.2,84.2L516.7,82.6L522.2,81.2L527.7,79.9L533.3,78.9L538.8,77.9L544.3,77.2L549.8,76.6L555.3,76.2L560.8,75.9L566.3,75.8L571.8,75.9L577.3,76.1L582.8,76.5L588.3,77L593.8,77.7L599.3,78.6L604.8,79.6L610.4,80.8L615.9,82.2L621.4,83.7M513.5,78.7L519.1,77.1L524.6,75.6L530.1,74.4L535.6,73.2L541.1,72.3L546.6,71.5L552.1,70.9L557.6,70.4L563.1,70.1L568.6,70L574.1,70L579.7,70.2L585.2,70.6L590.7,71.1L596.2,71.8L601.7,72.7L607.2,73.7L612.7,74.9L618.2,76.3L623.7,77.8M515.8,73.7L521.3,72L526.8,70.5L532.4,69.2L537.9,68L543.4,67L548.9,66.2L554.4,65.5L559.9,65.1L565.4,64.7L570.9,64.6L576.4,64.6L582,64.8L587.5,65.1L593,65.6L598.5,66.3L604,67.2L609.5,68.2L615,69.4L620.5,70.7L626.1,72.3M518,69.1L523.6,67.4L529.1,65.9L534.6,64.5L540.1,63.3L545.6,62.2L551.1,61.3L556.6,60.6L562.2,60.1L567.7,59.8L573.2,59.6L578.7,59.5L584.2,59.7L589.7,60L595.2,60.5L600.8,61.2L606.3,62L611.8,63L617.3,64.2L622.8,65.5L628.3,67.1M536.7,60.2L542.3,58.9L547.8,57.8L553.3,56.9L558.8,56.2L564.3,55.6L569.8,55.2L575.4,55L580.9,54.9L586.4,55L591.9,55.3L597.4,55.8L603,56.4L608.5,57.2L614,58.2L619.5,59.4L625,60.7L630.5,62.2M555.4,52.9L560.9,52.1L566.4,51.5L572,51L577.5,50.8L583,50.7L588.5,50.8L594,51L599.6,51.5L605.1,52.1L610.6,52.9L616.1,53.8L621.6,55L627.2,56.3L632.7,57.8M574,47.3L579.5,47L585,46.8L590.5,46.9L596.1,47.1L601.6,47.5L607.1,48.1L612.6,48.9L618.2,49.8L623.7,50.9L629.2,52.2L634.7,53.7M598,43.6L603.5,44L609.1,44.5L614.6,45.2L620.1,46.2L625.6,47.2L631.2,48.5L636.7,50M622,42.9L627.5,43.9L633,45.2L638.5,46.6" fill="none" stroke="#bdbdbd" stroke-width="0.5" transform="translate(0.55,0.45)"/>
<path d="M493.4,157.5L495.6,149L497.8,140.5L500.1,132.2L502.5,124.1L504.9,116.3L507.2,108.8L509.6,101.6L512,94.9L514.4,88.5L516.7,82.6L519.1,77.1L521.3,72L523.6,67.4L525.7,63.2L527.8,59.5L529.8,56.1L531.7,53.2L533.5,50.6M498.9,156.3L501.1,147.7L503.3,139.3L505.6,130.9L508,122.9L510.3,115L512.7,107.5L515.1,100.3L517.5,93.6L519.9,87.2L522.2,81.2L524.6,75.6L526.8,70.5L529.1,65.9L531.2,61.6L533.3,57.8L535.3,54.4L537.2,51.4L539.1,48.8M504.3,155.2L506.5,146.7L508.8,138.2L511.1,129.9L513.5,121.8L515.8,113.9L518.2,106.4L520.6,99.2L523,92.4L525.4,86L527.7,79.9L530.1,74.4L532.4,69.2L534.6,64.5L536.7,60.2L538.8,56.3L540.9,52.9L542.8,49.8L544.6,47.1L546.3,44.8M509.8,154.3L512,145.7L514.3,137.2L516.6,128.9L519,120.8L521.3,113L523.7,105.4L526.1,98.2L528.5,91.4L530.9,84.9L533.3,78.9L535.6,73.2L537.9,68L540.1,63.3L542.3,58.9L544.4,55L546.4,51.5L548.3,48.4L550.1,45.6L551.8,43.2L553.4,41.2M515.3,153.5L517.5,144.9L519.8,136.5L522.1,128.1L524.4,120L526.8,112.2L529.2,104.6L531.6,97.4L534,90.5L536.4,84L538.8,77.9L541.1,72.3L543.4,67L545.6,62.2L547.8,57.8L549.9,53.9L551.9,50.3L553.8,47.1L555.6,44.3L557.4,41.9L558.9,39.8M520.8,152.8L523,144.3L525.3,135.8L527.6,127.5L529.9,119.4L532.3,111.5L534.7,104L537.1,96.7L539.5,89.8L541.9,83.3L544.3,77.2L546.6,71.5L548.9,66.2L551.1,61.3L553.3,56.9L555.4,52.9L557.4,49.3L559.3,46L561.2,43.2L562.9,40.7L564.5,38.5M526.3,152.3L528.5,143.7L530.8,135.3L533.1,127L535.4,118.9L537.8,111L540.2,103.4L542.6,96.2L545,89.3L547.4,82.7L549.8,76.6L552.1,70.9L554.4,65.5L556.6,60.6L558.8,56.2L560.9,52.1L562.9,48.4L564.9,45.2L566.7,42.3L568.4,39.7L570,37.5M531.7,151.9L534,143.3L536.2,134.9L538.6,126.6L540.9,118.5L543.3,110.7L545.7,103.1L548.1,95.8L550.5,88.9L552.9,82.3L555.3,76.2L557.6,70.4L559.9,65.1L562.2,60.1L564.3,55.6L566.4,51.5L568.5,47.8L570.4,44.4L572.2,41.5L573.9,38.9L575.5,36.7M537.2,151.6L539.4,143.1L541.7,134.7L544,126.4L546.4,118.3L548.8,110.5L551.2,102.9L553.6,95.6L556,88.7L558.4,82.1L560.8,75.9L563.1,70.1L565.4,64.7L567.7,59.8L569.8,55.2L572,51L574,47.3L575.9,43.9L577.8,40.9L579.5,38.3L581.1,36M542.7,151.5L544.9,143L547.2,134.6L549.5,126.3L551.9,118.3L554.3,110.4L556.7,102.8L559.1,95.6L561.5,88.6L563.9,82L566.3,75.8L568.6,70L570.9,64.6L573.2,59.6L575.4,55L577.5,50.8L579.5,47L581.4,43.6L583.3,40.5L585,37.8L586.6,35.5M548.2,151.5L550.4,143L552.7,134.7L555,126.4L557.4,118.4L559.8,110.5L562.2,102.9L564.6,95.6L567,88.7L569.4,82.1L571.8,75.9L574.1,70L576.4,64.6L578.7,59.5L580.9,54.9L583,50.7L585,46.8L587,43.4L588.8,40.3L590.5,37.6L592.1,35.2M553.7,151.6L555.9,143.2L558.2,134.9L560.5,126.6L562.9,118.6L565.3,110.8L567.7,103.2L570.1,95.9L572.5,88.9L574.9,82.3L577.3,76.1L579.7,70.2L582,64.8L584.2,59.7L586.4,55L588.5,50.8L590.5,46.9L592.5,43.4L594.3,40.3L596.1,37.5L597.7,35.1M559.1,151.9L561.4,143.5L563.7,135.2L566,127L568.4,119L570.8,111.1L573.2,103.6L575.6,96.3L578,89.3L580.4,82.7L582.8,76.5L585.2,70.6L587.5,65.1L589.7,60L591.9,55.3L594,51L596.1,47.1L598,43.6L599.9,40.4L601.6,37.6L603.2,35.2M564.6,152.3L566.9,143.9L569.1,135.7L571.5,127.5L573.9,119.5L576.3,111.7L578.7,104.1L581.1,96.9L583.5,89.9L585.9,83.3L588.3,77L590.7,71.1L593,65.6L595.2,60.5L597.4,55.8L599.6,51.5L601.6,47.5L603.5,44L605.4,40.8L607.1,37.9L608.7,35.4M570.1,152.8L572.3,144.5L574.6,136.3L577,128.1L579.4,120.2L581.8,112.4L584.2,104.8L586.6,97.6L589,90.6L591.4,84L593.8,77.7L596.2,71.8L598.5,66.3L600.8,61.2L603,56.4L605.1,52.1L607.1,48.1L609.1,44.5L610.9,41.3L612.6,38.4L614.2,35.9M575.6,153.5L577.8,145.2L580.1,137L582.5,128.9L584.8,121L587.3,113.2L589.7,105.7L592.1,98.5L594.5,91.5L596.9,84.9L599.3,78.6L601.7,72.7L604,67.2L606.3,62L608.5,57.2L610.6,52.9L612.6,48.9L614.6,45.2L616.4,42L618.2,39.1L619.8,36.5M581.1,154.3L583.3,146.1L585.6,137.9L588,129.9L590.3,121.9L592.7,114.2L595.2,106.7L597.6,99.5L600,92.5L602.5,85.9L604.8,79.6L607.2,73.7L609.5,68.2L611.8,63L614,58.2L616.1,53.8L618.2,49.8L620.1,46.2L622,42.9L623.7,39.9L625.3,37.3M586.5,155.3L588.8,147.1L591.1,139L593.4,130.9L595.8,123.1L598.2,115.4L600.7,107.9L603.1,100.7L605.5,93.7L608,87.1L610.4,80.8L612.7,74.9L615,69.4L617.3,64.2L619.5,59.4L621.6,55L623.7,50.9L625.6,47.2L627.5,43.9L629.2,41L630.8,38.3M592,156.4L594.3,148.2L596.6,140.2L598.9,132.2L601.3,124.3L603.7,116.6L606.2,109.2L608.6,102L611,95.1L613.5,88.5L615.9,82.2L618.2,76.3L620.5,70.7L622.8,65.5L625,60.7L627.2,56.3L629.2,52.2L631.2,48.5L633,45.2L634.8,42.2L636.4,39.5M490.1,150.3L495.6,149L501.1,147.7L506.5,146.7L512,145.7L517.5,144.9L523,144.3L528.5,143.7L534,143.3L539.4,143.1L544.9,143L550.4,143L555.9,143.2L561.4,143.5L566.9,143.9L572.3,144.5L577.8,145.2L583.3,146.1L588.8,147.1L594.3,148.2L599.8,149.5M492.4,141.8L497.8,140.5L503.3,139.3L508.8,138.2L514.3,137.2L519.8,136.5L525.3,135.8L530.8,135.3L536.2,134.9L541.7,134.7L547.2,134.6L552.7,134.7L558.2,134.9L563.7,135.2L569.1,135.7L574.6,136.3L580.1,137L585.6,137.9L591.1,139L596.6,140.2L602.1,141.5M494.7,133.5L500.1,132.2L505.6,130.9L511.1,129.9L516.6,128.9L522.1,128.1L527.6,127.5L533.1,127L538.6,126.6L544,126.4L549.5,126.3L555,126.4L560.5,126.6L566,127L571.5,127.5L577,128.1L582.5,128.9L588,129.9L593.4,130.9L598.9,132.2L604.4,133.5M497,125.5L502.5,124.1L508,122.9L513.5,121.8L519,120.8L524.4,120L529.9,119.4L535.4,118.9L540.9,118.5L546.4,118.3L551.9,118.3L557.4,118.4L562.9,118.6L568.4,119L573.9,119.5L579.4,120.2L584.8,121L590.3,121.9L595.8,123.1L601.3,124.3L606.8,125.7M499.4,117.7L504.9,116.3L510.3,115L515.8,113.9L521.3,113L526.8,112.2L532.3,111.5L537.8,111L543.3,110.7L548.8,110.5L554.3,110.4L559.8,110.5L565.3,110.8L570.8,111.1L576.3,111.7L581.8,112.4L587.3,113.2L592.7,114.2L598.2,115.4L603.7,116.6L609.2,118.1M501.7,110.2L507.2,108.8L512.7,107.5L518.2,106.4L523.7,105.4L529.2,104.6L534.7,104L540.2,103.4L545.7,103.1L551.2,102.9L556.7,102.8L562.2,102.9L567.7,103.2L573.2,103.6L578.7,104.1L584.2,104.8L589.7,105.7L595.2,106.7L600.7,107.9L606.2,109.2L611.7,110.7M504.1,103.1L509.6,101.6L515.1,100.3L520.6,99.2L526.1,98.2L531.6,97.4L537.1,96.7L542.6,96.2L548.1,95.8L553.6,95.6L559.1,95.6L564.6,95.6L570.1,95.9L575.6,96.3L581.1,96.9L586.6,97.6L592.1,98.5L597.6,99.5L603.1,100.7L608.6,102L614.1,103.5M506.5,96.4L512,94.9L517.5,93.6L523,92.4L528.5,91.4L534,90.5L539.5,89.8L545,89.3L550.5,88.9L556,88.7L561.5,88.6L567,88.7L572.5,88.9L578,89.3L583.5,89.9L589,90.6L594.5,91.5L600,92.5L605.5,93.7L611,95.1L616.5,96.6M508.9,90L514.4,88.5L519.9,87.2L525.4,86L530.9,84.9L536.4,84L541.9,83.3L547.4,82.7L552.9,82.3L558.4,82.1L563.9,82L569.4,82.1L574.9,82.3L580.4,82.7L585.9,83.3L591.4,84L596.9,84.9L602.5,85.9L608,87.1L613.5,88.5L619,90M511.2,84.2L516.7,82.6L522.2,81.2L527.7,79.9L533.3,78.9L538.8,77.9L544.3,77.2L549.8,76.6L555.3,76.2L560.8,75.9L566.3,75.8L571.8,75.9L577.3,76.1L582.8,76.5L588.3,77L593.8,77.7L599.3,78.6L604.8,79.6L610.4,80.8L615.9,82.2L621.4,83.7M513.5,78.7L519.1,77.1L524.6,75.6L530.1,74.4L535.6,73.2L541.1,72.3L546.6,71.5L552.1,70.9L557.6,70.4L563.1,70.1L568.6,70L574.1,70L579.7,70.2L585.2,70.6L590.7,71.1L596.2,71.8L601.7,72.7L607.2,73.7L612.7,74.9L618.2,76.3L623.7,77.8M515.8,73.7L521.3,72L526.8,70.5L532.4,69.2L537.9,68L543.4,67L548.9,66.2L554.4,65.5L559.9,65.1L565.4,64.7L570.9,64.6L576.4,64.6L582,64.8L587.5,65.1L593,65.6L598.5,66.3L604,67.2L609.5,68.2L615,69.4L620.5,70.7L626.1,72.3M518,69.1L523.6,67.4L529.1,65.9L534.6,64.5L540.1,63.3L545.6,62.2L551.1,61.3L556.6,60.6L562.2,60.1L567.7,59.8L573.2,59.6L578.7,59.5L584.2,59.7L589.7,60L595.2,60.5L600.8,61.2L606.3,62L611.8,63L617.3,64.2L622.8,65.5L628.3,67.1M536.7,60.2L542.3,58.9L547.8,57.8L553.3,56.9L558.8,56.2L564.3,55.6L569.8,55.2L575.4,55L580.9,54.9L586.4,55L591.9,55.3L597.4,55.8L603,56.4L608.5,57.2L614,58.2L619.5,59.4L625,60.7L630.5,62.2M555.4,52.9L560.9,52.1L566.4,51.5L572,51L577.5,50.8L583,50.7L588.5,50.8L594,51L599.6,51.5L605.1,52.1L610.6,52.9L616.1,53.8L621.6,55L627.2,56.3L632.7,57.8M574,47.3L579.5,47L585,46.8L590.5,46.9L596.1,47.1L601.6,47.5L607.1,48.1L612.6,48.9L618.2,49.8L623.7,50.9L629.2,52.2L634.7,53.7M598,43.6L603.5,44L609.1,44.5L614.6,45.2L620.1,46.2L625.6,47.2L631.2,48.5L636.7,50M622,42.9L627.5,43.9L633,45.2L638.5,46.6" fill="none" stroke="#e9e9e9" stroke-width="0.6" stroke-linecap="round"/>
<path d="M477.3,167.2L602.7,190.9" stroke="#8c8c8c" stroke-width="0.9" fill="none" stroke-linecap="round"/>
<path d="M602.7,190.9L654.2,129.7" stroke="#8c8c8c" stroke-width="0.9" fill="none" stroke-linecap="round"/>
<text x="453.2" y="71.3" class="n" textLength="10.6" lengthAdjust="spacingAndGlyphs">100</text>
<text x="455.9" y="101.3" class="n" textLength="7.2" lengthAdjust="spacingAndGlyphs">80</text>
<text x="455.9" y="130.8" class="n" textLength="7.2" lengthAdjust="spacingAndGlyphs">60</text>
<text x="455.9" y="159.8" class="n" textLength="7.2" lengthAdjust="spacingAndGlyphs">40</text>
<text x="491.4" y="184.5" class="n" textLength="10.6" lengthAdjust="spacingAndGlyphs">300</text>
<text x="536.3" y="192.5" class="n" textLength="10.6" lengthAdjust="spacingAndGlyphs">400</text>
<text x="581.1" y="200.7" class="n" textLength="10.6" lengthAdjust="spacingAndGlyphs">500</text>
<text x="615.8" y="191.2" class="n" textLength="3.6" lengthAdjust="spacingAndGlyphs">1</text>
<text x="639.5" y="163.8" class="n" textLength="3.6" lengthAdjust="spacingAndGlyphs">2</text>
<text x="663.7" y="136.7" class="n" textLength="3.6" lengthAdjust="spacingAndGlyphs">3</text>
<path d="M474.8,72.3h-2.6M475.6,102.2h-2.6M476.4,131.7h-2.6M477.1,160.8h-2.6M504.9,172.4l-1.5,1.8M549.5,180.8l-1.5,1.8M594.1,189.3l-1.5,1.8M605.9,187.1l2.4,0.4M629,159.7l2.4,0.4M651.8,132.6l2.4,0.4" fill="none" stroke="#a8a8a8" stroke-width="0.8"/>
<text x="375.8" y="109.4" class="t" textLength="70.1" lengthAdjust="spacingAndGlyphs">Extraction yield (%)</text>
<text x="503.3" y="205.8" class="t" textLength="50" lengthAdjust="spacingAndGlyphs">Pressure (bar)</text>
<text x="652.5" y="169.7" class="t" textLength="61" lengthAdjust="spacingAndGlyphs">Flow rate (L/min)</text>
<text x="374.7" y="15.2" class="pl">(b)</text>
<polygon points="98.2,311 153.6,247.2 154.5,346 101.3,408.6" fill="#f7f7f7"/>
<polygon points="153.6,247.2 280.2,271.2 282,369.2 154.5,346" fill="#f7f7f7"/>
<polygon points="101.3,408.6 154.5,346 282,369.2 229.5,432.3" fill="#f7f7f7"/>
<path d="M101.3,408.6L154.5,346" stroke="#adadad" stroke-width="0.8" fill="none" stroke-linecap="round"/>
<path d="M154.5,346L282,369.2" stroke="#a6a6a6" stroke-width="0.8" fill="none" stroke-linecap="round"/>
<path d="M153.6,247.2L154.5,346" stroke="#a8a8a8" stroke-width="0.8" fill="none" stroke-linecap="round"/>
<path d="M98.2,311L153.6,247.2" stroke="#9c9c9c" stroke-width="0.8" fill="none" stroke-linecap="round"/>
<path d="M153.6,247.2L280.2,271.2" stroke="#9c9c9c" stroke-width="0.8" fill="none" stroke-linecap="round"/>
<path d="M98.2,311L101.3,408.6" stroke="#b2b2b2" stroke-width="0.8" fill="none" stroke-linecap="round"/>
<path d="M280.2,271.2L282,369.2" stroke="#a8a8a8" stroke-width="0.8" fill="none" stroke-linecap="round"/>
<polygon points="112,399.6 117.6,394.4 123.2,389.5 128.8,384.9 134.4,380.5 140,376.4 145.7,372.6 151.3,369.1 156.9,365.8 162.5,362.8 168.1,360.1 173.7,357.7 179.3,355.5 184.9,353.6 190.5,352 196.1,350.6 201.8,349.6 207.4,348.8 213,348.2 218.6,348 224.2,348 226.5,344 228.9,340.1 231.3,336.2 233.8,332.3 236.3,328.6 238.8,324.9 241.3,321.4 243.8,318 246.3,314.8 248.8,311.7 251.2,308.8 253.6,306 255.9,303.5 258.2,301.1 260.4,298.9 262.5,296.9 264.5,295.1 266.4,293.4 268.2,291.9 269.9,290.6 264.3,287.6 258.7,285 253.1,282.6 247.5,280.4 241.9,278.6 236.3,277 230.7,275.8 225.1,274.8 219.5,274 213.8,273.6 208.2,273.4 202.6,273.6 197,274 191.4,274.6 185.8,275.6 180.2,276.8 174.6,278.4 169,280.2 163.4,282.2 157.8,284.6 156.1,287.4 154.3,290.5 152.4,294 150.4,297.8 148.3,301.9 146.1,306.4 143.8,311.3 141.5,316.5 139.1,322 136.6,327.8 134.1,334 131.6,340.5 129.1,347.2 126.6,354.2 124.1,361.5 121.6,368.9 119.1,376.4 116.7,384.1 114.3,391.8" fill="#c5c5c5" stroke="#c5c5c5" stroke-width="0.6"/>
<path d="M152.4,294L158,291.4L163.6,289L169.2,287L174.8,285.2M242.1,285.9L247.7,287.8L253.3,289.9L258.9,292.4L264.5,295.1M154.3,290.5L159.9,288L165.5,285.8L171.1,283.8L176.8,282.1L182.4,280.7L188,279.6L193.6,278.8L199.2,278.2L204.8,278L210.4,278L216,278.3L221.6,278.8L227.2,279.7L232.8,280.8L238.4,282.2L244,283.9L249.6,285.8L255.2,288.1L260.8,290.6L266.4,293.4M156.1,287.4L161.7,285L167.3,282.8L172.9,280.9L178.6,279.3L184.2,278L189.8,277L195.4,276.2L201,275.8L206.6,275.6L212.2,275.7L217.8,276L223.4,276.7L229,277.6L234.6,278.8L240.2,280.3L245.8,282.1L251.4,284.1L257,286.4L262.6,289L268.2,291.9" fill="none" stroke="#bdbdbd" stroke-width="0.2" transform="translate(0.55,0.45)"/>
<path d="M152.4,294L158,291.4L163.6,289L169.2,287L174.8,285.2M242.1,285.9L247.7,287.8L253.3,289.9L258.9,292.4L264.5,295.1M154.3,290.5L159.9,288L165.5,285.8L171.1,283.8L176.8,282.1L182.4,280.7L188,279.6L193.6,278.8L199.2,278.2L204.8,278L210.4,278L216,278.3L221.6,278.8L227.2,279.7L232.8,280.8L238.4,282.2L244,283.9L249.6,285.8L255.2,288.1L260.8,290.6L266.4,293.4M156.1,287.4L161.7,285L167.3,282.8L172.9,280.9L178.6,279.3L184.2,278L189.8,277L195.4,276.2L201,275.8L206.6,275.6L212.2,275.7L217.8,276L223.4,276.7L229,277.6L234.6,278.8L240.2,280.3L245.8,282.1L251.4,284.1L257,286.4L262.6,289L268.2,291.9" fill="none" stroke="#e9e9e9" stroke-width="0.22" stroke-linecap="round"/>
<path d="M248,303.9L253.6,306M143.8,311.3L149.4,308.2L155,305.5L160.6,303M233.5,296.1L239.1,297.5L244.7,299.2L250.3,301.2L255.9,303.5M146.1,306.4L151.7,303.5L157.3,300.9L162.9,298.5L168.5,296.4L174.1,294.6L179.7,293.1L185.3,291.9L190.9,290.9L196.5,290.2L202.1,289.8L207.7,289.7L213.4,289.9L219,290.3L224.6,291L230.2,292L235.8,293.3L241.4,294.8L247,296.6L252.6,298.7L258.2,301.1M148.3,301.9L153.9,299.1L159.5,296.6L165.1,294.4L170.7,292.4L176.3,290.7L181.9,289.3L187.5,288.2L193.1,287.3L198.7,286.8L204.3,286.5L209.9,286.5L215.6,286.7L221.2,287.3L226.8,288.1L232.4,289.2L238,290.6L243.6,292.2L249.2,294.2L254.8,296.4L260.4,298.9M150.4,297.8L156,295.1L161.6,292.7L167.2,290.5L172.8,288.7L178.4,287.1L184,285.8L189.6,284.8L195.2,284L200.9,283.6L206.5,283.4L212.1,283.5L217.7,283.8L223.3,284.5L228.9,285.4L234.5,286.6L240.1,288.1L245.7,289.9L251.3,292L256.9,294.3L262.5,296.9M174.8,285.2L180.4,283.8L186.1,282.6L191.7,281.6L197.3,281L202.9,280.6L208.5,280.5L214.1,280.7L219.7,281.2L225.3,282L230.9,283L236.5,284.3L242.1,285.9" fill="none" stroke="#bdbdbd" stroke-width="0.3" transform="translate(0.55,0.45)"/>
<path d="M248,303.9L253.6,306M143.8,311.3L149.4,308.2L155,305.5L160.6,303M233.5,296.1L239.1,297.5L244.7,299.2L250.3,301.2L255.9,303.5M146.1,306.4L151.7,303.5L157.3,300.9L162.9,298.5L168.5,296.4L174.1,294.6L179.7,293.1L185.3,291.9L190.9,290.9L196.5,290.2L202.1,289.8L207.7,289.7L213.4,289.9L219,290.3L224.6,291L230.2,292L235.8,293.3L241.4,294.8L247,296.6L252.6,298.7L258.2,301.1M148.3,301.9L153.9,299.1L159.5,296.6L165.1,294.4L170.7,292.4L176.3,290.7L181.9,289.3L187.5,288.2L193.1,287.3L198.7,286.8L204.3,286.5L209.9,286.5L215.6,286.7L221.2,287.3L226.8,288.1L232.4,289.2L238,290.6L243.6,292.2L249.2,294.2L254.8,296.4L260.4,298.9M150.4,297.8L156,295.1L161.6,292.7L167.2,290.5L172.8,288.7L178.4,287.1L184,285.8L189.6,284.8L195.2,284L200.9,283.6L206.5,283.4L212.1,283.5L217.7,283.8L223.3,284.5L228.9,285.4L234.5,286.6L240.1,288.1L245.7,289.9L251.3,292L256.9,294.3L262.5,296.9M174.8,285.2L180.4,283.8L186.1,282.6L191.7,281.6L197.3,281L202.9,280.6L208.5,280.5L214.1,280.7L219.7,281.2L225.3,282L230.9,283L236.5,284.3L242.1,285.9" fill="none" stroke="#e9e9e9" stroke-width="0.4" stroke-linecap="round"/>
<path d="M117.6,394.4L119.9,386.8L122.3,379.3L124.7,371.8L127.2,364.4L129.7,357.2L132.2,350.2L134.7,343.3L137.2,336.7L139.7,330.4L142.2,324.4L144.7,318.7L147.1,313.3L149.4,308.2L151.7,303.5L153.9,299.1L156,295.1L158,291.4L159.9,288L161.7,285L163.4,282.2M123.2,389.5L125.5,382.1L127.9,374.8L130.4,367.5L132.8,360.3L135.3,353.2L137.8,346.3L140.3,339.7L142.9,333.3L145.4,327.1L147.8,321.2L150.3,315.7L152.7,310.4L155,305.5L157.3,300.9L159.5,296.6L161.6,292.7L163.6,289L165.5,285.8L167.3,282.8L169,280.2M128.8,384.9L131.2,377.7L133.5,370.5L136,363.4L138.4,356.4L140.9,349.5L143.4,342.8L145.9,336.3L148.5,330.1L151,324.1L153.4,318.3L155.9,312.9L158.3,307.8L160.6,303L162.9,298.5L165.1,294.4L167.2,290.5L169.2,287L171.1,283.8L172.9,280.9L174.6,278.4M134.4,380.5L136.8,373.5L139.1,366.5L141.6,359.6L144,352.8L146.5,346.1L149,339.5L151.6,333.2L154.1,327.1L156.6,321.3L159,315.7L161.5,310.5L163.9,305.5L166.2,300.8L168.5,296.4L170.7,292.4L172.8,288.7L174.8,285.2L176.8,282.1L178.6,279.3L180.2,276.8M140,376.4L142.4,369.6L144.8,362.8L147.2,356.1L149.6,349.4L152.1,342.9L154.6,336.6L157.2,330.4L159.7,324.5L162.2,318.8L164.7,313.4L167.1,308.3L169.5,303.4L171.8,298.9L174.1,294.6L176.3,290.7L178.4,287.1L180.4,283.8L182.4,280.7L184.2,278L185.8,275.6M145.7,372.6L148,366L150.4,359.4L152.8,352.8L155.3,346.3L157.7,340L160.3,333.9L162.8,327.9L165.3,322.1L167.8,316.6L170.3,311.4L172.7,306.4L175.1,301.7L177.4,297.2L179.7,293.1L181.9,289.3L184,285.8L186.1,282.6L188,279.6L189.8,277L191.4,274.6M151.3,369.1L153.6,362.6L156,356.2L158.4,349.8L160.9,343.6L163.4,337.4L165.9,331.4L168.4,325.6L170.9,320L173.4,314.7L175.9,309.6L178.3,304.7L180.7,300.2L183,295.9L185.3,291.9L187.5,288.2L189.6,284.8L191.7,281.6L193.6,278.8L195.4,276.2L197,274M156.9,365.8L159.2,359.6L161.6,353.3L164,347.1L166.5,341L169,335.1L171.5,329.3L174,323.6L176.5,318.2L179,313L181.5,308.1L183.9,303.4L186.3,298.9L188.7,294.8L190.9,290.9L193.1,287.3L195.2,284L197.3,281L199.2,278.2L201,275.8L202.6,273.6M162.5,362.8L164.8,356.7L167.2,350.7L169.6,344.7L172.1,338.8L174.6,333L177.1,327.4L179.6,321.9L182.1,316.7L184.6,311.6L187.1,306.8L189.5,302.3L191.9,298L194.3,294L196.5,290.2L198.7,286.8L200.9,283.6L202.9,280.6L204.8,278L206.6,275.6L208.2,273.4M168.1,360.1L170.4,354.2L172.8,348.4L175.2,342.6L177.7,336.8L180.2,331.2L182.7,325.8L185.2,320.5L187.7,315.4L190.2,310.5L192.7,305.9L195.1,301.5L197.5,297.3L199.9,293.5L202.1,289.8L204.3,286.5L206.5,283.4L208.5,280.5L210.4,278L212.2,275.7L213.8,273.6M173.7,357.7L176,352L178.4,346.3L180.8,340.7L183.3,335.1L185.8,329.7L188.3,324.5L190.8,319.3L193.3,314.4L195.8,309.7L198.3,305.2L200.7,301L203.1,297L205.5,293.2L207.7,289.7L209.9,286.5L212.1,283.5L214.1,280.7L216,278.3L217.8,276L219.5,274M179.3,355.5L181.6,350L184,344.5L186.4,339.1L188.9,333.7L191.4,328.5L193.9,323.4L196.4,318.5L198.9,313.7L201.4,309.2L203.9,304.8L206.3,300.7L208.7,296.9L211.1,293.2L213.4,289.9L215.6,286.7L217.7,283.8L219.7,281.2L221.6,278.8L223.4,276.7L225.1,274.8M184.9,353.6L187.2,348.3L189.6,343L192.1,337.8L194.5,332.6L197,327.5L199.5,322.6L202,317.9L204.5,313.3L207,308.9L209.5,304.7L212,300.8L214.3,297L216.7,293.5L219,290.3L221.2,287.3L223.3,284.5L225.3,282L227.2,279.7L229,277.6L230.7,275.8M190.5,352L192.9,346.9L195.2,341.8L197.7,336.7L200.1,331.7L202.6,326.9L205.1,322.1L207.6,317.5L210.1,313.1L212.6,308.9L215.1,304.9L217.6,301.1L220,297.5L222.3,294.1L224.6,291L226.8,288.1L228.9,285.4L230.9,283L232.8,280.8L234.6,278.8L236.3,277M196.1,350.6L198.5,345.7L200.8,340.8L203.3,335.9L205.7,331.1L208.2,326.5L210.7,321.9L213.2,317.5L215.8,313.3L218.3,309.2L220.7,305.3L223.2,301.7L225.6,298.2L227.9,295L230.2,292L232.4,289.2L234.5,286.6L236.5,284.3L238.4,282.2L240.2,280.3L241.9,278.6M201.8,349.6L204.1,344.8L206.5,340.1L208.9,335.4L211.3,330.8L213.8,326.3L216.3,322L218.9,317.7L221.4,313.6L223.9,309.7L226.3,306L228.8,302.5L231.2,299.2L233.5,296.1L235.8,293.3L238,290.6L240.1,288.1L242.1,285.9L244,283.9L245.8,282.1L247.5,280.4M207.4,348.8L209.7,344.2L212.1,339.7L214.5,335.2L217,330.8L219.4,326.5L221.9,322.3L224.5,318.2L227,314.3L229.5,310.6L231.9,307L234.4,303.7L236.8,300.5L239.1,297.5L241.4,294.8L243.6,292.2L245.7,289.9L247.7,287.8L249.6,285.8L251.4,284.1L253.1,282.6M213,348.2L215.3,343.9L217.7,339.5L220.1,335.2L222.6,331L225.1,326.9L227.6,322.9L230.1,319L232.6,315.3L235.1,311.7L237.5,308.3L240,305.1L242.4,302.1L244.7,299.2L247,296.6L249.2,294.2L251.3,292L253.3,289.9L255.2,288.1L257,286.4L258.7,285M218.6,348L220.9,343.8L223.3,339.7L225.7,335.6L228.2,331.5L230.7,327.6L233.2,323.8L235.7,320.1L238.2,316.5L240.7,313.1L243.2,309.9L245.6,306.8L248,303.9L250.3,301.2L252.6,298.7L254.8,296.4L256.9,294.3L258.9,292.4L260.8,290.6L262.6,289L264.3,287.6M114.3,391.8L119.9,386.8L125.5,382.1L131.2,377.7L136.8,373.5L142.4,369.6L148,366L153.6,362.6L159.2,359.6L164.8,356.7L170.4,354.2L176,352L181.6,350L187.2,348.3L192.9,346.9L198.5,345.7L204.1,344.8L209.7,344.2L215.3,343.9L220.9,343.8L226.5,344M116.7,384.1L122.3,379.3L127.9,374.8L133.5,370.5L139.1,366.5L144.8,362.8L150.4,359.4L156,356.2L161.6,353.3L167.2,350.7L172.8,348.4L178.4,346.3L184,344.5L189.6,343L195.2,341.8L200.8,340.8L206.5,340.1L212.1,339.7L217.7,339.5L223.3,339.7L228.9,340.1M119.1,376.4L124.7,371.8L130.4,367.5L136,363.4L141.6,359.6L147.2,356.1L152.8,352.8L158.4,349.8L164,347.1L169.6,344.7L175.2,342.6L180.8,340.7L186.4,339.1L192.1,337.8L197.7,336.7L203.3,335.9L208.9,335.4L214.5,335.2L220.1,335.2L225.7,335.6L231.3,336.2M121.6,368.9L127.2,364.4L132.8,360.3L138.4,356.4L144,352.8L149.6,349.4L155.3,346.3L160.9,343.6L166.5,341L172.1,338.8L177.7,336.8L183.3,335.1L188.9,333.7L194.5,332.6L200.1,331.7L205.7,331.1L211.3,330.8L217,330.8L222.6,331L228.2,331.5L233.8,332.3M124.1,361.5L129.7,357.2L135.3,353.2L140.9,349.5L146.5,346.1L152.1,342.9L157.7,340L163.4,337.4L169,335.1L174.6,333L180.2,331.2L185.8,329.7L191.4,328.5L197,327.5L202.6,326.9L208.2,326.5L213.8,326.3L219.4,326.5L225.1,326.9L230.7,327.6L236.3,328.6M126.6,354.2L132.2,350.2L137.8,346.3L143.4,342.8L149,339.5L154.6,336.6L160.3,333.9L165.9,331.4L171.5,329.3L177.1,327.4L182.7,325.8L188.3,324.5L193.9,323.4L199.5,322.6L205.1,322.1L210.7,321.9L216.3,322L221.9,322.3L227.6,322.9L233.2,323.8L238.8,324.9M129.1,347.2L134.7,343.3L140.3,339.7L145.9,336.3L151.6,333.2L157.2,330.4L162.8,327.9L168.4,325.6L174,323.6L179.6,321.9L185.2,320.5L190.8,319.3L196.4,318.5L202,317.9L207.6,317.5L213.2,317.5L218.9,317.7L224.5,318.2L230.1,319L235.7,320.1L241.3,321.4M131.6,340.5L137.2,336.7L142.9,333.3L148.5,330.1L154.1,327.1L159.7,324.5L165.3,322.1L170.9,320L176.5,318.2L182.1,316.7L187.7,315.4L193.3,314.4L198.9,313.7L204.5,313.3L210.1,313.1L215.8,313.3L221.4,313.6L227,314.3L232.6,315.3L238.2,316.5L243.8,318M134.1,334L139.7,330.4L145.4,327.1L151,324.1L156.6,321.3L162.2,318.8L167.8,316.6L173.4,314.7L179,313L184.6,311.6L190.2,310.5L195.8,309.7L201.4,309.2L207,308.9L212.6,308.9L218.3,309.2L223.9,309.7L229.5,310.6L235.1,311.7L240.7,313.1L246.3,314.8M136.6,327.8L142.2,324.4L147.8,321.2L153.4,318.3L159,315.7L164.7,313.4L170.3,311.4L175.9,309.6L181.5,308.1L187.1,306.8L192.7,305.9L198.3,305.2L203.9,304.8L209.5,304.7L215.1,304.9L220.7,305.3L226.3,306L231.9,307L237.5,308.3L243.2,309.9L248.8,311.7M139.1,322L144.7,318.7L150.3,315.7L155.9,312.9L161.5,310.5L167.1,308.3L172.7,306.4L178.3,304.7L183.9,303.4L189.5,302.3L195.1,301.5L200.7,301L206.3,300.7L212,300.8L217.6,301.1L223.2,301.7L228.8,302.5L234.4,303.7L240,305.1L245.6,306.8L251.2,308.8M141.5,316.5L147.1,313.3L152.7,310.4L158.3,307.8L163.9,305.5L169.5,303.4L175.1,301.7L180.7,300.2L186.3,298.9L191.9,298L197.5,297.3L203.1,297L208.7,296.9L214.3,297L220,297.5L225.6,298.2L231.2,299.2L236.8,300.5L242.4,302.1L248,303.9M160.6,303L166.2,300.8L171.8,298.9L177.4,297.2L183,295.9L188.7,294.8L194.3,294L199.9,293.5L205.5,293.2L211.1,293.2L216.7,293.5L222.3,294.1L227.9,295L233.5,296.1" fill="none" stroke="#bdbdbd" stroke-width="0.5" transform="translate(0.55,0.45)"/>
<path d="M117.6,394.4L119.9,386.8L122.3,379.3L124.7,371.8L127.2,364.4L129.7,357.2L132.2,350.2L134.7,343.3L137.2,336.7L139.7,330.4L142.2,324.4L144.7,318.7L147.1,313.3L149.4,308.2L151.7,303.5L153.9,299.1L156,295.1L158,291.4L159.9,288L161.7,285L163.4,282.2M123.2,389.5L125.5,382.1L127.9,374.8L130.4,367.5L132.8,360.3L135.3,353.2L137.8,346.3L140.3,339.7L142.9,333.3L145.4,327.1L147.8,321.2L150.3,315.7L152.7,310.4L155,305.5L157.3,300.9L159.5,296.6L161.6,292.7L163.6,289L165.5,285.8L167.3,282.8L169,280.2M128.8,384.9L131.2,377.7L133.5,370.5L136,363.4L138.4,356.4L140.9,349.5L143.4,342.8L145.9,336.3L148.5,330.1L151,324.1L153.4,318.3L155.9,312.9L158.3,307.8L160.6,303L162.9,298.5L165.1,294.4L167.2,290.5L169.2,287L171.1,283.8L172.9,280.9L174.6,278.4M134.4,380.5L136.8,373.5L139.1,366.5L141.6,359.6L144,352.8L146.5,346.1L149,339.5L151.6,333.2L154.1,327.1L156.6,321.3L159,315.7L161.5,310.5L163.9,305.5L166.2,300.8L168.5,296.4L170.7,292.4L172.8,288.7L174.8,285.2L176.8,282.1L178.6,279.3L180.2,276.8M140,376.4L142.4,369.6L144.8,362.8L147.2,356.1L149.6,349.4L152.1,342.9L154.6,336.6L157.2,330.4L159.7,324.5L162.2,318.8L164.7,313.4L167.1,308.3L169.5,303.4L171.8,298.9L174.1,294.6L176.3,290.7L178.4,287.1L180.4,283.8L182.4,280.7L184.2,278L185.8,275.6M145.7,372.6L148,366L150.4,359.4L152.8,352.8L155.3,346.3L157.7,340L160.3,333.9L162.8,327.9L165.3,322.1L167.8,316.6L170.3,311.4L172.7,306.4L175.1,301.7L177.4,297.2L179.7,293.1L181.9,289.3L184,285.8L186.1,282.6L188,279.6L189.8,277L191.4,274.6M151.3,369.1L153.6,362.6L156,356.2L158.4,349.8L160.9,343.6L163.4,337.4L165.9,331.4L168.4,325.6L170.9,320L173.4,314.7L175.9,309.6L178.3,304.7L180.7,300.2L183,295.9L185.3,291.9L187.5,288.2L189.6,284.8L191.7,281.6L193.6,278.8L195.4,276.2L197,274M156.9,365.8L159.2,359.6L161.6,353.3L164,347.1L166.5,341L169,335.1L171.5,329.3L174,323.6L176.5,318.2L179,313L181.5,308.1L183.9,303.4L186.3,298.9L188.7,294.8L190.9,290.9L193.1,287.3L195.2,284L197.3,281L199.2,278.2L201,275.8L202.6,273.6M162.5,362.8L164.8,356.7L167.2,350.7L169.6,344.7L172.1,338.8L174.6,333L177.1,327.4L179.6,321.9L182.1,316.7L184.6,311.6L187.1,306.8L189.5,302.3L191.9,298L194.3,294L196.5,290.2L198.7,286.8L200.9,283.6L202.9,280.6L204.8,278L206.6,275.6L208.2,273.4M168.1,360.1L170.4,354.2L172.8,348.4L175.2,342.6L177.7,336.8L180.2,331.2L182.7,325.8L185.2,320.5L187.7,315.4L190.2,310.5L192.7,305.9L195.1,301.5L197.5,297.3L199.9,293.5L202.1,289.8L204.3,286.5L206.5,283.4L208.5,280.5L210.4,278L212.2,275.7L213.8,273.6M173.7,357.7L176,352L178.4,346.3L180.8,340.7L183.3,335.1L185.8,329.7L188.3,324.5L190.8,319.3L193.3,314.4L195.8,309.7L198.3,305.2L200.7,301L203.1,297L205.5,293.2L207.7,289.7L209.9,286.5L212.1,283.5L214.1,280.7L216,278.3L217.8,276L219.5,274M179.3,355.5L181.6,350L184,344.5L186.4,339.1L188.9,333.7L191.4,328.5L193.9,323.4L196.4,318.5L198.9,313.7L201.4,309.2L203.9,304.8L206.3,300.7L208.7,296.9L211.1,293.2L213.4,289.9L215.6,286.7L217.7,283.8L219.7,281.2L221.6,278.8L223.4,276.7L225.1,274.8M184.9,353.6L187.2,348.3L189.6,343L192.1,337.8L194.5,332.6L197,327.5L199.5,322.6L202,317.9L204.5,313.3L207,308.9L209.5,304.7L212,300.8L214.3,297L216.7,293.5L219,290.3L221.2,287.3L223.3,284.5L225.3,282L227.2,279.7L229,277.6L230.7,275.8M190.5,352L192.9,346.9L195.2,341.8L197.7,336.7L200.1,331.7L202.6,326.9L205.1,322.1L207.6,317.5L210.1,313.1L212.6,308.9L215.1,304.9L217.6,301.1L220,297.5L222.3,294.1L224.6,291L226.8,288.1L228.9,285.4L230.9,283L232.8,280.8L234.6,278.8L236.3,277M196.1,350.6L198.5,345.7L200.8,340.8L203.3,335.9L205.7,331.1L208.2,326.5L210.7,321.9L213.2,317.5L215.8,313.3L218.3,309.2L220.7,305.3L223.2,301.7L225.6,298.2L227.9,295L230.2,292L232.4,289.2L234.5,286.6L236.5,284.3L238.4,282.2L240.2,280.3L241.9,278.6M201.8,349.6L204.1,344.8L206.5,340.1L208.9,335.4L211.3,330.8L213.8,326.3L216.3,322L218.9,317.7L221.4,313.6L223.9,309.7L226.3,306L228.8,302.5L231.2,299.2L233.5,296.1L235.8,293.3L238,290.6L240.1,288.1L242.1,285.9L244,283.9L245.8,282.1L247.5,280.4M207.4,348.8L209.7,344.2L212.1,339.7L214.5,335.2L217,330.8L219.4,326.5L221.9,322.3L224.5,318.2L227,314.3L229.5,310.6L231.9,307L234.4,303.7L236.8,300.5L239.1,297.5L241.4,294.8L243.6,292.2L245.7,289.9L247.7,287.8L249.6,285.8L251.4,284.1L253.1,282.6M213,348.2L215.3,343.9L217.7,339.5L220.1,335.2L222.6,331L225.1,326.9L227.6,322.9L230.1,319L232.6,315.3L235.1,311.7L237.5,308.3L240,305.1L242.4,302.1L244.7,299.2L247,296.6L249.2,294.2L251.3,292L253.3,289.9L255.2,288.1L257,286.4L258.7,285M218.6,348L220.9,343.8L223.3,339.7L225.7,335.6L228.2,331.5L230.7,327.6L233.2,323.8L235.7,320.1L238.2,316.5L240.7,313.1L243.2,309.9L245.6,306.8L248,303.9L250.3,301.2L252.6,298.7L254.8,296.4L256.9,294.3L258.9,292.4L260.8,290.6L262.6,289L264.3,287.6M114.3,391.8L119.9,386.8L125.5,382.1L131.2,377.7L136.8,373.5L142.4,369.6L148,366L153.6,362.6L159.2,359.6L164.8,356.7L170.4,354.2L176,352L181.6,350L187.2,348.3L192.9,346.9L198.5,345.7L204.1,344.8L209.7,344.2L215.3,343.9L220.9,343.8L226.5,344M116.7,384.1L122.3,379.3L127.9,374.8L133.5,370.5L139.1,366.5L144.8,362.8L150.4,359.4L156,356.2L161.6,353.3L167.2,350.7L172.8,348.4L178.4,346.3L184,344.5L189.6,343L195.2,341.8L200.8,340.8L206.5,340.1L212.1,339.7L217.7,339.5L223.3,339.7L228.9,340.1M119.1,376.4L124.7,371.8L130.4,367.5L136,363.4L141.6,359.6L147.2,356.1L152.8,352.8L158.4,349.8L164,347.1L169.6,344.7L175.2,342.6L180.8,340.7L186.4,339.1L192.1,337.8L197.7,336.7L203.3,335.9L208.9,335.4L214.5,335.2L220.1,335.2L225.7,335.6L231.3,336.2M121.6,368.9L127.2,364.4L132.8,360.3L138.4,356.4L144,352.8L149.6,349.4L155.3,346.3L160.9,343.6L166.5,341L172.1,338.8L177.7,336.8L183.3,335.1L188.9,333.7L194.5,332.6L200.1,331.7L205.7,331.1L211.3,330.8L217,330.8L222.6,331L228.2,331.5L233.8,332.3M124.1,361.5L129.7,357.2L135.3,353.2L140.9,349.5L146.5,346.1L152.1,342.9L157.7,340L163.4,337.4L169,335.1L174.6,333L180.2,331.2L185.8,329.7L191.4,328.5L197,327.5L202.6,326.9L208.2,326.5L213.8,326.3L219.4,326.5L225.1,326.9L230.7,327.6L236.3,328.6M126.6,354.2L132.2,350.2L137.8,346.3L143.4,342.8L149,339.5L154.6,336.6L160.3,333.9L165.9,331.4L171.5,329.3L177.1,327.4L182.7,325.8L188.3,324.5L193.9,323.4L199.5,322.6L205.1,322.1L210.7,321.9L216.3,322L221.9,322.3L227.6,322.9L233.2,323.8L238.8,324.9M129.1,347.2L134.7,343.3L140.3,339.7L145.9,336.3L151.6,333.2L157.2,330.4L162.8,327.9L168.4,325.6L174,323.6L179.6,321.9L185.2,320.5L190.8,319.3L196.4,318.5L202,317.9L207.6,317.5L213.2,317.5L218.9,317.7L224.5,318.2L230.1,319L235.7,320.1L241.3,321.4M131.6,340.5L137.2,336.7L142.9,333.3L148.5,330.1L154.1,327.1L159.7,324.5L165.3,322.1L170.9,320L176.5,318.2L182.1,316.7L187.7,315.4L193.3,314.4L198.9,313.7L204.5,313.3L210.1,313.1L215.8,313.3L221.4,313.6L227,314.3L232.6,315.3L238.2,316.5L243.8,318M134.1,334L139.7,330.4L145.4,327.1L151,324.1L156.6,321.3L162.2,318.8L167.8,316.6L173.4,314.7L179,313L184.6,311.6L190.2,310.5L195.8,309.7L201.4,309.2L207,308.9L212.6,308.9L218.3,309.2L223.9,309.7L229.5,310.6L235.1,311.7L240.7,313.1L246.3,314.8M136.6,327.8L142.2,324.4L147.8,321.2L153.4,318.3L159,315.7L164.7,313.4L170.3,311.4L175.9,309.6L181.5,308.1L187.1,306.8L192.7,305.9L198.3,305.2L203.9,304.8L209.5,304.7L215.1,304.9L220.7,305.3L226.3,306L231.9,307L237.5,308.3L243.2,309.9L248.8,311.7M139.1,322L144.7,318.7L150.3,315.7L155.9,312.9L161.5,310.5L167.1,308.3L172.7,306.4L178.3,304.7L183.9,303.4L189.5,302.3L195.1,301.5L200.7,301L206.3,300.7L212,300.8L217.6,301.1L223.2,301.7L228.8,302.5L234.4,303.7L240,305.1L245.6,306.8L251.2,308.8M141.5,316.5L147.1,313.3L152.7,310.4L158.3,307.8L163.9,305.5L169.5,303.4L175.1,301.7L180.7,300.2L186.3,298.9L191.9,298L197.5,297.3L203.1,297L208.7,296.9L214.3,297L220,297.5L225.6,298.2L231.2,299.2L236.8,300.5L242.4,302.1L248,303.9M160.6,303L166.2,300.8L171.8,298.9L177.4,297.2L183,295.9L188.7,294.8L194.3,294L199.9,293.5L205.5,293.2L211.1,293.2L216.7,293.5L222.3,294.1L227.9,295L233.5,296.1" fill="none" stroke="#e9e9e9" stroke-width="0.6" stroke-linecap="round"/>
<path d="M101.3,408.6L229.5,432.3" stroke="#8c8c8c" stroke-width="0.9" fill="none" stroke-linecap="round"/>
<path d="M229.5,432.3L282,369.2" stroke="#8c8c8c" stroke-width="0.9" fill="none" stroke-linecap="round"/>
<text x="79.9" y="311" class="n" textLength="7.2" lengthAdjust="spacingAndGlyphs">90</text>
<text x="79.9" y="337.2" class="n" textLength="7.2" lengthAdjust="spacingAndGlyphs">80</text>
<text x="80.4" y="363.1" class="n" textLength="7.2" lengthAdjust="spacingAndGlyphs">70</text>
<text x="81.2" y="389.3" class="n" textLength="7.2" lengthAdjust="spacingAndGlyphs">60</text>
<text x="116.4" y="426.2" class="n" textLength="10.6" lengthAdjust="spacingAndGlyphs">300</text>
<text x="161.3" y="433.7" class="n" textLength="10.6" lengthAdjust="spacingAndGlyphs">400</text>
<text x="206.6" y="442.8" class="n" textLength="10.6" lengthAdjust="spacingAndGlyphs">500</text>
<text x="243" y="433.7" class="n" textLength="8.6" lengthAdjust="spacingAndGlyphs">0,0</text>
<text x="257.5" y="416.7" class="n" textLength="8.6" lengthAdjust="spacingAndGlyphs">1,5</text>
<text x="272.5" y="400" class="n" textLength="8.6" lengthAdjust="spacingAndGlyphs">3,0</text>
<text x="286.2" y="383.3" class="n" textLength="8.6" lengthAdjust="spacingAndGlyphs">4,5</text>
<path d="M98.2,311.9h-2.6M99.1,337.9h-2.6M99.9,363.5h-2.6M100.7,389.6h-2.6M130,413.9l-1.5,1.8M174.3,422.1l-1.5,1.8M220.1,430.6l-1.5,1.8M231.7,429.6l2.4,0.4M245.9,412.6l2.4,0.4M259.8,395.9l2.4,0.4M273.7,379.2l2.4,0.4" fill="none" stroke="#a8a8a8" stroke-width="0.8"/>
<text x="1.2" y="350" class="t" textLength="71.1" lengthAdjust="spacingAndGlyphs">Extraction yield (%)</text>
<text x="128.4" y="447.3" class="t" textLength="51.1" lengthAdjust="spacingAndGlyphs">Pressure (bar)</text>
<text x="281.2" y="415.8" class="t" textLength="84" lengthAdjust="spacingAndGlyphs">Modifier concentration</text>
<text x="309.1" y="424.8" class="t" textLength="29.2" lengthAdjust="spacingAndGlyphs">(mol%)</text>
<text x="19.8" y="256.3" class="pl">(c)</text>
<polygon points="483.7,304.8 537.8,237.6 539.5,341 486.5,409.8" fill="#f7f7f7"/>
<polygon points="537.8,237.6 663.5,263 665,368.2 539.5,341" fill="#f7f7f7"/>
<polygon points="486.5,409.8 539.5,341 665,368.2 612.1,434.7" fill="#f7f7f7"/>
<path d="M486.5,409.8L539.5,341" stroke="#adadad" stroke-width="0.8" fill="none" stroke-linecap="round"/>
<path d="M539.5,341L665,368.2" stroke="#a6a6a6" stroke-width="0.8" fill="none" stroke-linecap="round"/>
<path d="M537.8,237.6L539.5,341" stroke="#a8a8a8" stroke-width="0.8" fill="none" stroke-linecap="round"/>
<path d="M483.7,304.8L537.8,237.6" stroke="#9c9c9c" stroke-width="0.8" fill="none" stroke-linecap="round"/>
<path d="M537.8,237.6L663.5,263" stroke="#9c9c9c" stroke-width="0.8" fill="none" stroke-linecap="round"/>
<path d="M483.7,304.8L486.5,409.8" stroke="#b2b2b2" stroke-width="0.8" fill="none" stroke-linecap="round"/>
<path d="M663.5,263L665,368.2" stroke="#a8a8a8" stroke-width="0.8" fill="none" stroke-linecap="round"/>
<polygon points="496.2,400.1 501.7,396.3 507.3,392.8 512.8,389.4 518.3,386.3 523.9,383.4 529.4,380.7 534.9,378.3 540.4,376.1 546,374 551.5,372.2 557,370.7 562.6,369.3 568.1,368.2 573.6,367.3 579.1,366.6 584.7,366.1 590.2,365.8 595.7,365.8 601.3,366 606.8,366.4 609,360.7 611.3,354.9 613.6,349.1 616,343.3 618.4,337.5 620.9,331.8 623.4,326.2 625.9,320.8 628.4,315.4 630.8,310.3 633.3,305.3 635.7,300.5 638.1,295.9 640.4,291.5 642.7,287.4 644.9,283.4 647,279.8 649,276.4 650.8,273.3 652.6,270.4 646.4,269.5 640.2,268.9 634.1,268.5 628.1,268.3 622.2,268.3 616.3,268.6 610.5,269.1 604.7,269.9 599,270.8 593.4,272 587.8,273.5 582.4,275.2 576.9,277.1 571.6,279.2 566.3,281.6 561.1,284.2 555.9,287 550.9,290.1 545.8,293.4 540.9,296.9 539.3,298.8 537.5,301 535.6,303.6 533.7,306.5 531.6,309.7 529.5,313.3 527.2,317.3 525,321.7 522.6,326.5 520.2,331.6 517.8,337.1 515.4,343 512.9,349.2 510.5,355.8 508,362.7 505.6,369.8 503.2,377.1 500.8,384.7 498.5,392.3" fill="#c5c5c5" stroke="#c5c5c5" stroke-width="0.6"/>
<path d="M537.5,301L542.5,297.6L547.5,294.4M539.3,298.8L544.2,295.3L549.3,292.1L554.4,289.1L559.5,286.3" fill="none" stroke="#bdbdbd" stroke-width="0" transform="translate(0.55,0.45)"/>
<path d="M537.5,301L542.5,297.6L547.5,294.4M539.3,298.8L544.2,295.3L549.3,292.1L554.4,289.1L559.5,286.3" fill="none" stroke="#e9e9e9" stroke-width="0.04" stroke-linecap="round"/>
<path d="M544.2,295.3L545.8,293.4M531.6,309.7L536.7,306.4M533.7,306.5L538.7,303.1L543.8,300M535.6,303.6L540.7,300.2L545.7,297.1L550.8,294.1L556,291.4M547.5,294.4L552.7,291.5L557.8,288.7L563.1,286.2L568.4,283.9M559.5,286.3L564.7,283.7L570,281.4L575.4,279.3L580.8,277.5" fill="none" stroke="#bdbdbd" stroke-width="0.1" transform="translate(0.55,0.45)"/>
<path d="M544.2,295.3L545.8,293.4M531.6,309.7L536.7,306.4M533.7,306.5L538.7,303.1L543.8,300M535.6,303.6L540.7,300.2L545.7,297.1L550.8,294.1L556,291.4M547.5,294.4L552.7,291.5L557.8,288.7L563.1,286.2L568.4,283.9M559.5,286.3L564.7,283.7L570,281.4L575.4,279.3L580.8,277.5" fill="none" stroke="#e9e9e9" stroke-width="0.1" stroke-linecap="round"/>
<path d="M538.7,303.1L540.7,300.2L542.5,297.6L544.2,295.3M545.7,297.1L547.5,294.4L549.3,292.1L550.9,290.1M552.7,291.5L554.4,289.1L555.9,287M559.5,286.3L561.1,284.2M527.2,317.3L532.3,314.1L537.5,311.1M529.5,313.3L534.5,310.1L539.7,307L544.8,304.2L550.1,301.6M536.7,306.4L541.8,303.4L546.9,300.5L552.1,297.9L557.4,295.5L562.7,293.4M543.8,300L548.9,297.2L554.1,294.5L559.4,292.1L564.7,289.9L570,287.9M556,291.4L561.3,289L566.6,286.8L571.9,284.8L577.3,283L582.8,281.5M568.4,283.9L573.7,281.9L579.1,280.1L584.6,278.5L590.1,277.2L595.8,276M580.8,277.5L586.3,275.9L591.8,274.5L597.4,273.3L603.1,272.4L608.9,271.7L614.7,271.2" fill="none" stroke="#bdbdbd" stroke-width="0.2" transform="translate(0.55,0.45)"/>
<path d="M538.7,303.1L540.7,300.2L542.5,297.6L544.2,295.3M545.7,297.1L547.5,294.4L549.3,292.1L550.9,290.1M552.7,291.5L554.4,289.1L555.9,287M559.5,286.3L561.1,284.2M527.2,317.3L532.3,314.1L537.5,311.1M529.5,313.3L534.5,310.1L539.7,307L544.8,304.2L550.1,301.6M536.7,306.4L541.8,303.4L546.9,300.5L552.1,297.9L557.4,295.5L562.7,293.4M543.8,300L548.9,297.2L554.1,294.5L559.4,292.1L564.7,289.9L570,287.9M556,291.4L561.3,289L566.6,286.8L571.9,284.8L577.3,283L582.8,281.5M568.4,283.9L573.7,281.9L579.1,280.1L584.6,278.5L590.1,277.2L595.8,276M580.8,277.5L586.3,275.9L591.8,274.5L597.4,273.3L603.1,272.4L608.9,271.7L614.7,271.2" fill="none" stroke="#e9e9e9" stroke-width="0.22" stroke-linecap="round"/>
<path d="M527.8,323.2L530.1,318.5L532.3,314.1L534.5,310.1L536.7,306.4L538.7,303.1M535.3,315.5L537.5,311.1L539.7,307L541.8,303.4L543.8,300L545.7,297.1M542.7,308.3L544.8,304.2L546.9,300.5L548.9,297.2L550.8,294.1L552.7,291.5M550.1,301.6L552.1,297.9L554.1,294.5L556,291.4L557.8,288.7L559.5,286.3M559.4,292.1L561.3,289L563.1,286.2L564.7,283.7L566.3,281.6M566.6,286.8L568.4,283.9L570,281.4L571.6,279.2M575.4,279.3L576.9,277.1M520.2,331.6L525.4,328.4M522.6,326.5L527.8,323.2L533,320.3L538.2,317.5M525,321.7L530.1,318.5L535.3,315.5L540.5,312.7L545.7,310.2L551,307.8M537.5,311.1L542.7,308.3L547.9,305.7L553.2,303.4L558.5,301.3L563.9,299.4M550.1,301.6L555.3,299.3L560.7,297.2L566,295.3L571.5,293.6L576.9,292.2M562.7,293.4L568.1,291.4L573.5,289.8L579,288.3L584.5,287.1L590.1,286.1M570,287.9L575.5,286.2L580.9,284.7L586.5,283.5L592.1,282.4L597.7,281.6L603.4,281M582.8,281.5L588.4,280.2L594,279.1L599.6,278.2L605.3,277.6L611.1,277.2L616.9,277.1L622.8,277.2M595.8,276L601.4,275.2L607.1,274.5L612.9,274.1L618.8,273.9L624.7,273.9L630.7,274.2L636.7,274.7M614.7,271.2L620.5,271L626.5,271L632.5,271.2L638.5,271.6L644.7,272.3L650.8,273.3" fill="none" stroke="#bdbdbd" stroke-width="0.3" transform="translate(0.55,0.45)"/>
<path d="M527.8,323.2L530.1,318.5L532.3,314.1L534.5,310.1L536.7,306.4L538.7,303.1M535.3,315.5L537.5,311.1L539.7,307L541.8,303.4L543.8,300L545.7,297.1M542.7,308.3L544.8,304.2L546.9,300.5L548.9,297.2L550.8,294.1L552.7,291.5M550.1,301.6L552.1,297.9L554.1,294.5L556,291.4L557.8,288.7L559.5,286.3M559.4,292.1L561.3,289L563.1,286.2L564.7,283.7L566.3,281.6M566.6,286.8L568.4,283.9L570,281.4L571.6,279.2M575.4,279.3L576.9,277.1M520.2,331.6L525.4,328.4M522.6,326.5L527.8,323.2L533,320.3L538.2,317.5M525,321.7L530.1,318.5L535.3,315.5L540.5,312.7L545.7,310.2L551,307.8M537.5,311.1L542.7,308.3L547.9,305.7L553.2,303.4L558.5,301.3L563.9,299.4M550.1,301.6L555.3,299.3L560.7,297.2L566,295.3L571.5,293.6L576.9,292.2M562.7,293.4L568.1,291.4L573.5,289.8L579,288.3L584.5,287.1L590.1,286.1M570,287.9L575.5,286.2L580.9,284.7L586.5,283.5L592.1,282.4L597.7,281.6L603.4,281M582.8,281.5L588.4,280.2L594,279.1L599.6,278.2L605.3,277.6L611.1,277.2L616.9,277.1L622.8,277.2M595.8,276L601.4,275.2L607.1,274.5L612.9,274.1L618.8,273.9L624.7,273.9L630.7,274.2L636.7,274.7M614.7,271.2L620.5,271L626.5,271L632.5,271.2L638.5,271.6L644.7,272.3L650.8,273.3" fill="none" stroke="#e9e9e9" stroke-width="0.4" stroke-linecap="round"/>
<path d="M501.7,396.3L504,388.7L506.3,381.1L508.6,373.6L511,366.3L513.4,359.3L515.8,352.5L518.2,346L520.6,339.8L523,333.9L525.4,328.4L527.8,323.2M507.3,392.8L509.5,385.2L511.7,377.7L514,370.3L516.4,363.1L518.7,356.1L521.1,349.4L523.5,342.9L525.9,336.7L528.3,330.9L530.6,325.4L533,320.3L535.3,315.5M512.8,389.4L515,382L517.2,374.6L519.5,367.3L521.8,360.1L524.1,353.2L526.5,346.5L528.8,340.1L531.2,333.9L533.6,328.1L535.9,322.6L538.2,317.5L540.5,312.7L542.7,308.3M518.3,386.3L520.5,378.9L522.7,371.6L524.9,364.4L527.2,357.4L529.5,350.5L531.9,343.8L534.2,337.5L536.5,331.4L538.9,325.6L541.2,320.1L543.5,315L545.7,310.2L547.9,305.7L550.1,301.6M523.9,383.4L526,376.1L528.2,368.9L530.4,361.8L532.7,354.8L535,348L537.3,341.4L539.6,335.1L541.9,329L544.2,323.2L546.5,317.8L548.8,312.6L551,307.8L553.2,303.4L555.3,299.3L557.4,295.5L559.4,292.1M529.4,380.7L531.5,373.6L533.7,366.4L535.9,359.4L538.1,352.5L540.4,345.7L542.7,339.2L545,332.9L547.3,326.9L549.6,321.1L551.9,315.7L554.2,310.6L556.4,305.8L558.5,301.3L560.7,297.2L562.7,293.4L564.7,289.9L566.6,286.8M534.9,378.3L537,371.2L539.2,364.2L541.4,357.2L543.6,350.4L545.9,343.7L548.1,337.2L550.4,331L552.7,325L555,319.3L557.3,313.8L559.6,308.7L561.8,303.9L563.9,299.4L566,295.3L568.1,291.4L570,287.9L571.9,284.8L573.7,281.9L575.4,279.3M540.4,376.1L542.5,369.1L544.7,362.1L546.8,355.3L549.1,348.5L551.3,341.9L553.6,335.5L555.9,329.3L558.2,323.3L560.5,317.6L562.7,312.2L565,307.1L567.2,302.3L569.4,297.8L571.5,293.6L573.5,289.8L575.5,286.2L577.3,283L579.1,280.1L580.8,277.5L582.4,275.2M546,374L548,367.2L550.2,360.3L552.4,353.5L554.6,346.8L556.8,340.3L559.1,333.9L561.4,327.8L563.7,321.9L566,316.2L568.2,310.8L570.5,305.7L572.7,300.9L574.8,296.4L576.9,292.2L579,288.3L580.9,284.7L582.8,281.5L584.6,278.5L586.3,275.9L587.8,273.5M551.5,372.2L553.6,365.5L555.7,358.7L557.9,352L560.1,345.4L562.3,338.9L564.6,332.6L566.9,326.5L569.2,320.6L571.5,315L573.7,309.6L576,304.5L578.2,299.7L580.4,295.2L582.5,291L584.5,287.1L586.5,283.5L588.4,280.2L590.1,277.2L591.8,274.5L593.4,272M557,370.7L559.1,364L561.2,357.3L563.4,350.7L565.6,344.2L567.9,337.8L570.1,331.5L572.4,325.5L574.7,319.6L577,314L579.3,308.7L581.5,303.6L583.7,298.7L585.9,294.2L588,290L590.1,286.1L592.1,282.4L594,279.1L595.8,276L597.4,273.3L599,270.8M562.6,369.3L564.6,362.7L566.8,356.2L568.9,349.6L571.2,343.2L573.4,336.9L575.7,330.7L578,324.7L580.3,318.9L582.6,313.3L584.9,307.9L587.1,302.8L589.4,298L591.5,293.5L593.7,289.2L595.7,285.3L597.7,281.6L599.6,278.2L601.4,275.2L603.1,272.4L604.7,269.9M568.1,368.2L570.2,361.7L572.3,355.2L574.5,348.8L576.7,342.4L579,336.2L581.3,330L583.6,324.1L585.9,318.3L588.2,312.8L590.5,307.4L592.8,302.4L595,297.5L597.2,293L599.3,288.7L601.4,284.7L603.4,281L605.3,277.6L607.1,274.5L608.9,271.7L610.5,269.1M573.6,367.3L575.7,360.9L577.9,354.5L580.1,348.2L582.3,341.9L584.6,335.7L586.9,329.6L589.2,323.7L591.5,318L593.8,312.5L596.1,307.2L598.4,302.1L600.7,297.3L602.9,292.7L605.1,288.4L607.1,284.4L609.2,280.7L611.1,277.2L612.9,274.1L614.7,271.2L616.3,268.6M579.1,366.6L581.2,360.3L583.4,354L585.6,347.8L587.9,341.5L590.2,335.4L592.5,329.4L594.8,323.6L597.2,317.9L599.5,312.4L601.8,307.1L604.1,302.1L606.4,297.2L608.7,292.7L610.8,288.4L612.9,284.3L615,280.6L616.9,277.1L618.8,273.9L620.5,271L622.2,268.3M584.7,366.1L586.8,359.9L589,353.7L591.2,347.6L593.5,341.4L595.8,335.4L598.1,329.5L600.5,323.7L602.9,318L605.2,312.6L607.6,307.3L609.9,302.2L612.2,297.4L614.5,292.9L616.7,288.5L618.8,284.5L620.8,280.7L622.8,277.2L624.7,273.9L626.5,271L628.1,268.3M590.2,365.8L592.3,359.8L594.5,353.7L596.8,347.6L599.1,341.6L601.4,335.6L603.8,329.7L606.2,324L608.6,318.4L611,312.9L613.3,307.7L615.7,302.7L618,297.9L620.3,293.3L622.5,288.9L624.7,284.9L626.8,281L628.8,277.5L630.7,274.2L632.5,271.2L634.1,268.5M595.7,365.8L597.9,359.9L600.1,353.9L602.4,347.9L604.7,341.9L607.1,336L609.5,330.2L611.9,324.5L614.3,318.9L616.7,313.6L619.1,308.3L621.5,303.3L623.9,298.5L626.2,293.9L628.4,289.6L630.6,285.5L632.8,281.6L634.8,278L636.7,274.7L638.5,271.6L640.2,268.9M601.3,366L603.5,360.1L605.7,354.3L608,348.4L610.4,342.5L612.8,336.7L615.2,330.9L617.6,325.3L620.1,319.7L622.5,314.4L625,309.2L627.4,304.2L629.8,299.4L632.1,294.8L634.4,290.4L636.6,286.3L638.8,282.4L640.9,278.8L642.8,275.4L644.7,272.3L646.4,269.5M498.5,392.3L504,388.7L509.5,385.2L515,382L520.5,378.9L526,376.1L531.5,373.6L537,371.2L542.5,369.1L548,367.2L553.6,365.5L559.1,364L564.6,362.7L570.2,361.7L575.7,360.9L581.2,360.3L586.8,359.9L592.3,359.8L597.9,359.9L603.5,360.1L609,360.7M500.8,384.7L506.3,381.1L511.7,377.7L517.2,374.6L522.7,371.6L528.2,368.9L533.7,366.4L539.2,364.2L544.7,362.1L550.2,360.3L555.7,358.7L561.2,357.3L566.8,356.2L572.3,355.2L577.9,354.5L583.4,354L589,353.7L594.5,353.7L600.1,353.9L605.7,354.3L611.3,354.9M503.2,377.1L508.6,373.6L514,370.3L519.5,367.3L524.9,364.4L530.4,361.8L535.9,359.4L541.4,357.2L546.8,355.3L552.4,353.5L557.9,352L563.4,350.7L568.9,349.6L574.5,348.8L580.1,348.2L585.6,347.8L591.2,347.6L596.8,347.6L602.4,347.9L608,348.4L613.6,349.1M505.6,369.8L511,366.3L516.4,363.1L521.8,360.1L527.2,357.4L532.7,354.8L538.1,352.5L543.6,350.4L549.1,348.5L554.6,346.8L560.1,345.4L565.6,344.2L571.2,343.2L576.7,342.4L582.3,341.9L587.9,341.5L593.5,341.4L599.1,341.6L604.7,341.9L610.4,342.5L616,343.3M508,362.7L513.4,359.3L518.7,356.1L524.1,353.2L529.5,350.5L535,348L540.4,345.7L545.9,343.7L551.3,341.9L556.8,340.3L562.3,338.9L567.9,337.8L573.4,336.9L579,336.2L584.6,335.7L590.2,335.4L595.8,335.4L601.4,335.6L607.1,336L612.8,336.7L618.4,337.5M510.5,355.8L515.8,352.5L521.1,349.4L526.5,346.5L531.9,343.8L537.3,341.4L542.7,339.2L548.1,337.2L553.6,335.5L559.1,333.9L564.6,332.6L570.1,331.5L575.7,330.7L581.3,330L586.9,329.6L592.5,329.4L598.1,329.5L603.8,329.7L609.5,330.2L615.2,330.9L620.9,331.8M512.9,349.2L518.2,346L523.5,342.9L528.8,340.1L534.2,337.5L539.6,335.1L545,332.9L550.4,331L555.9,329.3L561.4,327.8L566.9,326.5L572.4,325.5L578,324.7L583.6,324.1L589.2,323.7L594.8,323.6L600.5,323.7L606.2,324L611.9,324.5L617.6,325.3L623.4,326.2M515.4,343L520.6,339.8L525.9,336.7L531.2,333.9L536.5,331.4L541.9,329L547.3,326.9L552.7,325L558.2,323.3L563.7,321.9L569.2,320.6L574.7,319.6L580.3,318.9L585.9,318.3L591.5,318L597.2,317.9L602.9,318L608.6,318.4L614.3,318.9L620.1,319.7L625.9,320.8M517.8,337.1L523,333.9L528.3,330.9L533.6,328.1L538.9,325.6L544.2,323.2L549.6,321.1L555,319.3L560.5,317.6L566,316.2L571.5,315L577,314L582.6,313.3L588.2,312.8L593.8,312.5L599.5,312.4L605.2,312.6L611,312.9L616.7,313.6L622.5,314.4L628.4,315.4M525.4,328.4L530.6,325.4L535.9,322.6L541.2,320.1L546.5,317.8L551.9,315.7L557.3,313.8L562.7,312.2L568.2,310.8L573.7,309.6L579.3,308.7L584.9,307.9L590.5,307.4L596.1,307.2L601.8,307.1L607.6,307.3L613.3,307.7L619.1,308.3L625,309.2L630.8,310.3M538.2,317.5L543.5,315L548.8,312.6L554.2,310.6L559.6,308.7L565,307.1L570.5,305.7L576,304.5L581.5,303.6L587.1,302.8L592.8,302.4L598.4,302.1L604.1,302.1L609.9,302.2L615.7,302.7L621.5,303.3L627.4,304.2L633.3,305.3M551,307.8L556.4,305.8L561.8,303.9L567.2,302.3L572.7,300.9L578.2,299.7L583.7,298.7L589.4,298L595,297.5L600.7,297.3L606.4,297.2L612.2,297.4L618,297.9L623.9,298.5L629.8,299.4L635.7,300.5M563.9,299.4L569.4,297.8L574.8,296.4L580.4,295.2L585.9,294.2L591.5,293.5L597.2,293L602.9,292.7L608.7,292.7L614.5,292.9L620.3,293.3L626.2,293.9L632.1,294.8L638.1,295.9M576.9,292.2L582.5,291L588,290L593.7,289.2L599.3,288.7L605.1,288.4L610.8,288.4L616.7,288.5L622.5,288.9L628.4,289.6L634.4,290.4L640.4,291.5M590.1,286.1L595.7,285.3L601.4,284.7L607.1,284.4L612.9,284.3L618.8,284.5L624.7,284.9L630.6,285.5L636.6,286.3L642.7,287.4M603.4,281L609.2,280.7L615,280.6L620.8,280.7L626.8,281L632.8,281.6L638.8,282.4L644.9,283.4M622.8,277.2L628.8,277.5L634.8,278L640.9,278.8L647,279.8M636.7,274.7L642.8,275.4L649,276.4" fill="none" stroke="#bdbdbd" stroke-width="0.5" transform="translate(0.55,0.45)"/>
<path d="M501.7,396.3L504,388.7L506.3,381.1L508.6,373.6L511,366.3L513.4,359.3L515.8,352.5L518.2,346L520.6,339.8L523,333.9L525.4,328.4L527.8,323.2M507.3,392.8L509.5,385.2L511.7,377.7L514,370.3L516.4,363.1L518.7,356.1L521.1,349.4L523.5,342.9L525.9,336.7L528.3,330.9L530.6,325.4L533,320.3L535.3,315.5M512.8,389.4L515,382L517.2,374.6L519.5,367.3L521.8,360.1L524.1,353.2L526.5,346.5L528.8,340.1L531.2,333.9L533.6,328.1L535.9,322.6L538.2,317.5L540.5,312.7L542.7,308.3M518.3,386.3L520.5,378.9L522.7,371.6L524.9,364.4L527.2,357.4L529.5,350.5L531.9,343.8L534.2,337.5L536.5,331.4L538.9,325.6L541.2,320.1L543.5,315L545.7,310.2L547.9,305.7L550.1,301.6M523.9,383.4L526,376.1L528.2,368.9L530.4,361.8L532.7,354.8L535,348L537.3,341.4L539.6,335.1L541.9,329L544.2,323.2L546.5,317.8L548.8,312.6L551,307.8L553.2,303.4L555.3,299.3L557.4,295.5L559.4,292.1M529.4,380.7L531.5,373.6L533.7,366.4L535.9,359.4L538.1,352.5L540.4,345.7L542.7,339.2L545,332.9L547.3,326.9L549.6,321.1L551.9,315.7L554.2,310.6L556.4,305.8L558.5,301.3L560.7,297.2L562.7,293.4L564.7,289.9L566.6,286.8M534.9,378.3L537,371.2L539.2,364.2L541.4,357.2L543.6,350.4L545.9,343.7L548.1,337.2L550.4,331L552.7,325L555,319.3L557.3,313.8L559.6,308.7L561.8,303.9L563.9,299.4L566,295.3L568.1,291.4L570,287.9L571.9,284.8L573.7,281.9L575.4,279.3M540.4,376.1L542.5,369.1L544.7,362.1L546.8,355.3L549.1,348.5L551.3,341.9L553.6,335.5L555.9,329.3L558.2,323.3L560.5,317.6L562.7,312.2L565,307.1L567.2,302.3L569.4,297.8L571.5,293.6L573.5,289.8L575.5,286.2L577.3,283L579.1,280.1L580.8,277.5L582.4,275.2M546,374L548,367.2L550.2,360.3L552.4,353.5L554.6,346.8L556.8,340.3L559.1,333.9L561.4,327.8L563.7,321.9L566,316.2L568.2,310.8L570.5,305.7L572.7,300.9L574.8,296.4L576.9,292.2L579,288.3L580.9,284.7L582.8,281.5L584.6,278.5L586.3,275.9L587.8,273.5M551.5,372.2L553.6,365.5L555.7,358.7L557.9,352L560.1,345.4L562.3,338.9L564.6,332.6L566.9,326.5L569.2,320.6L571.5,315L573.7,309.6L576,304.5L578.2,299.7L580.4,295.2L582.5,291L584.5,287.1L586.5,283.5L588.4,280.2L590.1,277.2L591.8,274.5L593.4,272M557,370.7L559.1,364L561.2,357.3L563.4,350.7L565.6,344.2L567.9,337.8L570.1,331.5L572.4,325.5L574.7,319.6L577,314L579.3,308.7L581.5,303.6L583.7,298.7L585.9,294.2L588,290L590.1,286.1L592.1,282.4L594,279.1L595.8,276L597.4,273.3L599,270.8M562.6,369.3L564.6,362.7L566.8,356.2L568.9,349.6L571.2,343.2L573.4,336.9L575.7,330.7L578,324.7L580.3,318.9L582.6,313.3L584.9,307.9L587.1,302.8L589.4,298L591.5,293.5L593.7,289.2L595.7,285.3L597.7,281.6L599.6,278.2L601.4,275.2L603.1,272.4L604.7,269.9M568.1,368.2L570.2,361.7L572.3,355.2L574.5,348.8L576.7,342.4L579,336.2L581.3,330L583.6,324.1L585.9,318.3L588.2,312.8L590.5,307.4L592.8,302.4L595,297.5L597.2,293L599.3,288.7L601.4,284.7L603.4,281L605.3,277.6L607.1,274.5L608.9,271.7L610.5,269.1M573.6,367.3L575.7,360.9L577.9,354.5L580.1,348.2L582.3,341.9L584.6,335.7L586.9,329.6L589.2,323.7L591.5,318L593.8,312.5L596.1,307.2L598.4,302.1L600.7,297.3L602.9,292.7L605.1,288.4L607.1,284.4L609.2,280.7L611.1,277.2L612.9,274.1L614.7,271.2L616.3,268.6M579.1,366.6L581.2,360.3L583.4,354L585.6,347.8L587.9,341.5L590.2,335.4L592.5,329.4L594.8,323.6L597.2,317.9L599.5,312.4L601.8,307.1L604.1,302.1L606.4,297.2L608.7,292.7L610.8,288.4L612.9,284.3L615,280.6L616.9,277.1L618.8,273.9L620.5,271L622.2,268.3M584.7,366.1L586.8,359.9L589,353.7L591.2,347.6L593.5,341.4L595.8,335.4L598.1,329.5L600.5,323.7L602.9,318L605.2,312.6L607.6,307.3L609.9,302.2L612.2,297.4L614.5,292.9L616.7,288.5L618.8,284.5L620.8,280.7L622.8,277.2L624.7,273.9L626.5,271L628.1,268.3M590.2,365.8L592.3,359.8L594.5,353.7L596.8,347.6L599.1,341.6L601.4,335.6L603.8,329.7L606.2,324L608.6,318.4L611,312.9L613.3,307.7L615.7,302.7L618,297.9L620.3,293.3L622.5,288.9L624.7,284.9L626.8,281L628.8,277.5L630.7,274.2L632.5,271.2L634.1,268.5M595.7,365.8L597.9,359.9L600.1,353.9L602.4,347.9L604.7,341.9L607.1,336L609.5,330.2L611.9,324.5L614.3,318.9L616.7,313.6L619.1,308.3L621.5,303.3L623.9,298.5L626.2,293.9L628.4,289.6L630.6,285.5L632.8,281.6L634.8,278L636.7,274.7L638.5,271.6L640.2,268.9M601.3,366L603.5,360.1L605.7,354.3L608,348.4L610.4,342.5L612.8,336.7L615.2,330.9L617.6,325.3L620.1,319.7L622.5,314.4L625,309.2L627.4,304.2L629.8,299.4L632.1,294.8L634.4,290.4L636.6,286.3L638.8,282.4L640.9,278.8L642.8,275.4L644.7,272.3L646.4,269.5M498.5,392.3L504,388.7L509.5,385.2L515,382L520.5,378.9L526,376.1L531.5,373.6L537,371.2L542.5,369.1L548,367.2L553.6,365.5L559.1,364L564.6,362.7L570.2,361.7L575.7,360.9L581.2,360.3L586.8,359.9L592.3,359.8L597.9,359.9L603.5,360.1L609,360.7M500.8,384.7L506.3,381.1L511.7,377.7L517.2,374.6L522.7,371.6L528.2,368.9L533.7,366.4L539.2,364.2L544.7,362.1L550.2,360.3L555.7,358.7L561.2,357.3L566.8,356.2L572.3,355.2L577.9,354.5L583.4,354L589,353.7L594.5,353.7L600.1,353.9L605.7,354.3L611.3,354.9M503.2,377.1L508.6,373.6L514,370.3L519.5,367.3L524.9,364.4L530.4,361.8L535.9,359.4L541.4,357.2L546.8,355.3L552.4,353.5L557.9,352L563.4,350.7L568.9,349.6L574.5,348.8L580.1,348.2L585.6,347.8L591.2,347.6L596.8,347.6L602.4,347.9L608,348.4L613.6,349.1M505.6,369.8L511,366.3L516.4,363.1L521.8,360.1L527.2,357.4L532.7,354.8L538.1,352.5L543.6,350.4L549.1,348.5L554.6,346.8L560.1,345.4L565.6,344.2L571.2,343.2L576.7,342.4L582.3,341.9L587.9,341.5L593.5,341.4L599.1,341.6L604.7,341.9L610.4,342.5L616,343.3M508,362.7L513.4,359.3L518.7,356.1L524.1,353.2L529.5,350.5L535,348L540.4,345.7L545.9,343.7L551.3,341.9L556.8,340.3L562.3,338.9L567.9,337.8L573.4,336.9L579,336.2L584.6,335.7L590.2,335.4L595.8,335.4L601.4,335.6L607.1,336L612.8,336.7L618.4,337.5M510.5,355.8L515.8,352.5L521.1,349.4L526.5,346.5L531.9,343.8L537.3,341.4L542.7,339.2L548.1,337.2L553.6,335.5L559.1,333.9L564.6,332.6L570.1,331.5L575.7,330.7L581.3,330L586.9,329.6L592.5,329.4L598.1,329.5L603.8,329.7L609.5,330.2L615.2,330.9L620.9,331.8M512.9,349.2L518.2,346L523.5,342.9L528.8,340.1L534.2,337.5L539.6,335.1L545,332.9L550.4,331L555.9,329.3L561.4,327.8L566.9,326.5L572.4,325.5L578,324.7L583.6,324.1L589.2,323.7L594.8,323.6L600.5,323.7L606.2,324L611.9,324.5L617.6,325.3L623.4,326.2M515.4,343L520.6,339.8L525.9,336.7L531.2,333.9L536.5,331.4L541.9,329L547.3,326.9L552.7,325L558.2,323.3L563.7,321.9L569.2,320.6L574.7,319.6L580.3,318.9L585.9,318.3L591.5,318L597.2,317.9L602.9,318L608.6,318.4L614.3,318.9L620.1,319.7L625.9,320.8M517.8,337.1L523,333.9L528.3,330.9L533.6,328.1L538.9,325.6L544.2,323.2L549.6,321.1L555,319.3L560.5,317.6L566,316.2L571.5,315L577,314L582.6,313.3L588.2,312.8L593.8,312.5L599.5,312.4L605.2,312.6L611,312.9L616.7,313.6L622.5,314.4L628.4,315.4M525.4,328.4L530.6,325.4L535.9,322.6L541.2,320.1L546.5,317.8L551.9,315.7L557.3,313.8L562.7,312.2L568.2,310.8L573.7,309.6L579.3,308.7L584.9,307.9L590.5,307.4L596.1,307.2L601.8,307.1L607.6,307.3L613.3,307.7L619.1,308.3L625,309.2L630.8,310.3M538.2,317.5L543.5,315L548.8,312.6L554.2,310.6L559.6,308.7L565,307.1L570.5,305.7L576,304.5L581.5,303.6L587.1,302.8L592.8,302.4L598.4,302.1L604.1,302.1L609.9,302.2L615.7,302.7L621.5,303.3L627.4,304.2L633.3,305.3M551,307.8L556.4,305.8L561.8,303.9L567.2,302.3L572.7,300.9L578.2,299.7L583.7,298.7L589.4,298L595,297.5L600.7,297.3L606.4,297.2L612.2,297.4L618,297.9L623.9,298.5L629.8,299.4L635.7,300.5M563.9,299.4L569.4,297.8L574.8,296.4L580.4,295.2L585.9,294.2L591.5,293.5L597.2,293L602.9,292.7L608.7,292.7L614.5,292.9L620.3,293.3L626.2,293.9L632.1,294.8L638.1,295.9M576.9,292.2L582.5,291L588,290L593.7,289.2L599.3,288.7L605.1,288.4L610.8,288.4L616.7,288.5L622.5,288.9L628.4,289.6L634.4,290.4L640.4,291.5M590.1,286.1L595.7,285.3L601.4,284.7L607.1,284.4L612.9,284.3L618.8,284.5L624.7,284.9L630.6,285.5L636.6,286.3L642.7,287.4M603.4,281L609.2,280.7L615,280.6L620.8,280.7L626.8,281L632.8,281.6L638.8,282.4L644.9,283.4M622.8,277.2L628.8,277.5L634.8,278L640.9,278.8L647,279.8M636.7,274.7L642.8,275.4L649,276.4" fill="none" stroke="#e9e9e9" stroke-width="0.6" stroke-linecap="round"/>
<path d="M486.5,409.8L612.1,434.7" stroke="#8c8c8c" stroke-width="0.9" fill="none" stroke-linecap="round"/>
<path d="M612.1,434.7L665,368.2" stroke="#8c8c8c" stroke-width="0.9" fill="none" stroke-linecap="round"/>
<text x="464.8" y="324.6" class="n" textLength="7.2" lengthAdjust="spacingAndGlyphs">90</text>
<text x="465.1" y="355.2" class="n" textLength="7.2" lengthAdjust="spacingAndGlyphs">60</text>
<text x="465.6" y="385.4" class="n" textLength="7.2" lengthAdjust="spacingAndGlyphs">30</text>
<text x="496.4" y="426.7" class="n" textLength="10.6" lengthAdjust="spacingAndGlyphs">100</text>
<text x="544" y="435.5" class="n" textLength="10.6" lengthAdjust="spacingAndGlyphs">200</text>
<text x="590.6" y="444.9" class="n" textLength="10.6" lengthAdjust="spacingAndGlyphs">300</text>
<text x="625.8" y="435" class="n" textLength="3.6" lengthAdjust="spacingAndGlyphs">1</text>
<text x="649.2" y="405.2" class="n" textLength="3.6" lengthAdjust="spacingAndGlyphs">2</text>
<text x="673.9" y="375.5" class="n" textLength="3.6" lengthAdjust="spacingAndGlyphs">3</text>
<path d="M484.2,325.3h-2.6M485.1,356.5h-2.6M485.9,387.6h-2.6M509.7,414.4l-1.5,1.9M556.8,423.7l-1.5,1.9M603.5,433l-1.5,1.9M615.1,430.9l2.4,0.5M638.8,401.1l2.4,0.5M662.5,371.4l2.4,0.5" fill="none" stroke="#a8a8a8" stroke-width="0.8"/>
<text x="385.8" y="346.7" class="t" textLength="71.7" lengthAdjust="spacingAndGlyphs">Extraction yield (%)</text>
<text x="496.2" y="453.8" class="t" textLength="78" lengthAdjust="spacingAndGlyphs">Extraction time (min)</text>
<text x="663.2" y="411.5" class="t" textLength="61.6" lengthAdjust="spacingAndGlyphs">Flow rate (L/min)</text>
<text x="374.7" y="256.3" class="pl">(d)</text>
<polygon points="97.6,558.9 150.6,489.7 151.5,598.4 100,665.7" fill="#f7f7f7"/>
<polygon points="150.6,489.7 274.3,517 275.3,623.9 151.5,598.4" fill="#f7f7f7"/>
<polygon points="100,665.7 151.5,598.4 275.3,623.9 222.2,693.1" fill="#f7f7f7"/>
<path d="M100,665.7L151.5,598.4" stroke="#adadad" stroke-width="0.8" fill="none" stroke-linecap="round"/>
<path d="M151.5,598.4L275.3,623.9" stroke="#a6a6a6" stroke-width="0.8" fill="none" stroke-linecap="round"/>
<path d="M150.6,489.7L151.5,598.4" stroke="#a8a8a8" stroke-width="0.8" fill="none" stroke-linecap="round"/>
<path d="M97.6,558.9L150.6,489.7" stroke="#9c9c9c" stroke-width="0.8" fill="none" stroke-linecap="round"/>
<path d="M150.6,489.7L274.3,517" stroke="#9c9c9c" stroke-width="0.8" fill="none" stroke-linecap="round"/>
<path d="M97.6,558.9L100,665.7" stroke="#b2b2b2" stroke-width="0.8" fill="none" stroke-linecap="round"/>
<path d="M274.3,517L275.3,623.9" stroke="#a8a8a8" stroke-width="0.8" fill="none" stroke-linecap="round"/>
<polygon points="110.6,652.5 116,647.9 121.4,643.6 126.8,639.6 132.1,635.9 137.5,632.6 142.9,629.6 148.3,626.9 153.7,624.6 159.1,622.5 164.4,620.9 169.8,619.5 175.2,618.4 180.6,617.7 186,617.3 191.4,617.2 196.8,617.5 202.1,618.1 207.5,619 212.9,620.2 218.3,621.8 220.5,615.9 222.8,610 225.2,604 227.6,598.1 230,592.2 232.4,586.4 234.8,580.7 237.3,575.1 239.7,569.7 242.1,564.5 244.4,559.4 246.7,554.6 249,549.9 251.2,545.5 253.3,541.3 255.4,537.4 257.3,533.8 259.2,530.4 260.9,527.2 262.5,524.4 258,524.2 253.4,524.3 248.6,524.9 243.8,525.9 238.8,527.4 233.8,529.2 228.6,531.5 223.3,534.2 217.9,537.3 212.4,540.9 206.7,544.8 201,549.2 195.2,554 189.2,559.2 183.1,564.9 176.9,570.9 170.7,577.4 164.2,584.3 157.7,591.7 151.1,599.4 149.6,601.2 148,603.1 146.3,605.2 144.6,607.4 142.7,609.8 140.7,612.2 138.7,614.8 136.6,617.4 134.5,620.2 132.4,623 130.2,625.8 128,628.8 125.7,631.7 123.5,634.7 121.3,637.7 119.1,640.7 116.9,643.7 114.8,646.7 112.7,649.6" fill="#c5c5c5" stroke="#c5c5c5" stroke-width="0.6"/>
<path d="M133.9,622.6L136.2,619.5L138.4,616.5L140.6,613.5L142.8,610.6L145,607.8L147,605.1L149.1,602.5L151,600.1L152.8,597.8L154.6,595.6L156.2,593.5L157.7,591.7M146.7,607.2L148.9,604.2L151.1,601.2L153.3,598.4L155.3,595.7L157.3,593.1L159.2,590.7L161,588.4L162.7,586.3L164.2,584.3M161.5,589.3L163.6,586.6L165.5,584.1L167.3,581.7L169.1,579.5L170.7,577.4M173.6,575.3L175.3,573L176.9,570.9M112.7,649.6L118.1,644.8L123.5,640.3M114.8,646.7L120.3,641.7L125.8,637M116.9,643.7L122.5,638.5L128,633.6M119.1,640.7L124.7,635.3L130.4,630.2L136,625.5M121.3,637.7L127,632.1L132.7,626.8L138.3,621.9M123.5,634.7L129.3,628.9L135,623.5L140.8,618.4M125.7,631.7L131.6,625.7L137.4,620.1L143.2,614.8L148.9,609.9M128,628.8L133.9,622.6L139.8,616.8L145.6,611.4L151.4,606.3M130.2,625.8L136.2,619.5L142.1,613.5L148,607.9L153.8,602.7L159.6,597.9M132.4,623L138.4,616.5L144.4,610.3L150.3,604.6L156.2,599.2L162,594.2M134.5,620.2L140.6,613.5L146.7,607.2L152.7,601.3L158.6,595.8L164.5,590.6M136.6,617.4L142.8,610.6L148.9,604.2L155,598.1L161,592.5L166.9,587.2L172.7,582.3M138.7,614.8L145,607.8L151.1,601.2L157.2,595.1L163.3,589.3L169.2,583.9L175.1,578.9M140.7,612.2L147,605.1L153.3,598.4L159.4,592.1L165.5,586.2L171.5,580.7L177.4,575.6L183.2,570.8M142.7,609.8L149.1,602.5L155.3,595.7L161.5,589.3L167.6,583.3L173.7,577.6L179.6,572.4L185.4,567.6L191.2,563.1M144.6,607.4L151,600.1L157.3,593.1L163.6,586.6L169.7,580.5L175.8,574.7L181.7,569.4L187.6,564.5L193.4,560M146.3,605.2L152.8,597.8L159.2,590.7L165.5,584.1L171.7,577.8L177.8,572L183.8,566.6L189.7,561.6L195.4,557L201.1,552.8M148,603.1L154.6,595.6L161,588.4L167.3,581.7L173.6,575.3L179.7,569.4L185.7,563.9L191.6,558.8L197.4,554.2L203.1,549.9M149.6,601.2L156.2,593.5L162.7,586.3L169.1,579.5L175.3,573L181.5,567.1L187.5,561.5L193.4,556.3L199.3,551.6L205,547.3L210.6,543.3" fill="none" stroke="#bdbdbd" stroke-width="0" transform="translate(0.55,0.45)"/>
<path d="M133.9,622.6L136.2,619.5L138.4,616.5L140.6,613.5L142.8,610.6L145,607.8L147,605.1L149.1,602.5L151,600.1L152.8,597.8L154.6,595.6L156.2,593.5L157.7,591.7M146.7,607.2L148.9,604.2L151.1,601.2L153.3,598.4L155.3,595.7L157.3,593.1L159.2,590.7L161,588.4L162.7,586.3L164.2,584.3M161.5,589.3L163.6,586.6L165.5,584.1L167.3,581.7L169.1,579.5L170.7,577.4M173.6,575.3L175.3,573L176.9,570.9M112.7,649.6L118.1,644.8L123.5,640.3M114.8,646.7L120.3,641.7L125.8,637M116.9,643.7L122.5,638.5L128,633.6M119.1,640.7L124.7,635.3L130.4,630.2L136,625.5M121.3,637.7L127,632.1L132.7,626.8L138.3,621.9M123.5,634.7L129.3,628.9L135,623.5L140.8,618.4M125.7,631.7L131.6,625.7L137.4,620.1L143.2,614.8L148.9,609.9M128,628.8L133.9,622.6L139.8,616.8L145.6,611.4L151.4,606.3M130.2,625.8L136.2,619.5L142.1,613.5L148,607.9L153.8,602.7L159.6,597.9M132.4,623L138.4,616.5L144.4,610.3L150.3,604.6L156.2,599.2L162,594.2M134.5,620.2L140.6,613.5L146.7,607.2L152.7,601.3L158.6,595.8L164.5,590.6M136.6,617.4L142.8,610.6L148.9,604.2L155,598.1L161,592.5L166.9,587.2L172.7,582.3M138.7,614.8L145,607.8L151.1,601.2L157.2,595.1L163.3,589.3L169.2,583.9L175.1,578.9M140.7,612.2L147,605.1L153.3,598.4L159.4,592.1L165.5,586.2L171.5,580.7L177.4,575.6L183.2,570.8M142.7,609.8L149.1,602.5L155.3,595.7L161.5,589.3L167.6,583.3L173.7,577.6L179.6,572.4L185.4,567.6L191.2,563.1M144.6,607.4L151,600.1L157.3,593.1L163.6,586.6L169.7,580.5L175.8,574.7L181.7,569.4L187.6,564.5L193.4,560M146.3,605.2L152.8,597.8L159.2,590.7L165.5,584.1L171.7,577.8L177.8,572L183.8,566.6L189.7,561.6L195.4,557L201.1,552.8M148,603.1L154.6,595.6L161,588.4L167.3,581.7L173.6,575.3L179.7,569.4L185.7,563.9L191.6,558.8L197.4,554.2L203.1,549.9M149.6,601.2L156.2,593.5L162.7,586.3L169.1,579.5L175.3,573L181.5,567.1L187.5,561.5L193.4,556.3L199.3,551.6L205,547.3L210.6,543.3" fill="none" stroke="#e9e9e9" stroke-width="0.04" stroke-linecap="round"/>
<path d="M118.1,644.8L120.3,641.7L122.5,638.5L124.7,635.3L127,632.1L129.3,628.9L131.6,625.7L133.9,622.6M132.7,626.8L135,623.5L137.4,620.1L139.8,616.8L142.1,613.5L144.4,610.3L146.7,607.2M145.6,611.4L148,607.9L150.3,604.6L152.7,601.3L155,598.1L157.2,595.1L159.4,592.1L161.5,589.3M156.2,599.2L158.6,595.8L161,592.5L163.3,589.3L165.5,586.2L167.6,583.3L169.7,580.5L171.7,577.8L173.6,575.3M169.2,583.9L171.5,580.7L173.7,577.6L175.8,574.7L177.8,572L179.7,569.4L181.5,567.1L183.1,564.9M181.7,569.4L183.8,566.6L185.7,563.9L187.5,561.5L189.2,559.2M193.4,556.3L195.2,554M123.5,640.3L129,636.1L134.4,632.3M125.8,637L131.3,632.6L136.7,628.6M128,633.6L133.6,629.1L139.1,624.9L144.6,621M136,625.5L141.5,621.1L147.1,617.1M138.3,621.9L144,617.4L149.6,613.2M140.8,618.4L146.4,613.6L152.1,609.3L157.7,605.2M148.9,609.9L154.6,605.4L160.2,601.2M151.4,606.3L157.1,601.6L162.8,597.3L168.4,593.3M159.6,597.9L165.3,593.4L170.9,589.3M162,594.2L167.8,589.6L173.5,585.3M164.5,590.6L170.3,585.9L176,581.5L181.6,577.5M172.7,582.3L178.4,577.8L184.1,573.7M175.1,578.9L180.8,574.2L186.5,570L192.2,566.2M183.2,570.8L188.9,566.5L194.5,562.6L200.1,559M191.2,563.1L196.8,559.1L202.4,555.5M193.4,560L199,555.9L204.6,552.2L210.1,548.9M201.1,552.8L206.7,549L212.2,545.6L217.6,542.7M203.1,549.9L208.7,546.1L214.2,542.6L219.6,539.6M210.6,543.3L216.1,539.9L221.5,536.8L226.8,534.1" fill="none" stroke="#bdbdbd" stroke-width="0.1" transform="translate(0.55,0.45)"/>
<path d="M118.1,644.8L120.3,641.7L122.5,638.5L124.7,635.3L127,632.1L129.3,628.9L131.6,625.7L133.9,622.6M132.7,626.8L135,623.5L137.4,620.1L139.8,616.8L142.1,613.5L144.4,610.3L146.7,607.2M145.6,611.4L148,607.9L150.3,604.6L152.7,601.3L155,598.1L157.2,595.1L159.4,592.1L161.5,589.3M156.2,599.2L158.6,595.8L161,592.5L163.3,589.3L165.5,586.2L167.6,583.3L169.7,580.5L171.7,577.8L173.6,575.3M169.2,583.9L171.5,580.7L173.7,577.6L175.8,574.7L177.8,572L179.7,569.4L181.5,567.1L183.1,564.9M181.7,569.4L183.8,566.6L185.7,563.9L187.5,561.5L189.2,559.2M193.4,556.3L195.2,554M123.5,640.3L129,636.1L134.4,632.3M125.8,637L131.3,632.6L136.7,628.6M128,633.6L133.6,629.1L139.1,624.9L144.6,621M136,625.5L141.5,621.1L147.1,617.1M138.3,621.9L144,617.4L149.6,613.2M140.8,618.4L146.4,613.6L152.1,609.3L157.7,605.2M148.9,609.9L154.6,605.4L160.2,601.2M151.4,606.3L157.1,601.6L162.8,597.3L168.4,593.3M159.6,597.9L165.3,593.4L170.9,589.3M162,594.2L167.8,589.6L173.5,585.3M164.5,590.6L170.3,585.9L176,581.5L181.6,577.5M172.7,582.3L178.4,577.8L184.1,573.7M175.1,578.9L180.8,574.2L186.5,570L192.2,566.2M183.2,570.8L188.9,566.5L194.5,562.6L200.1,559M191.2,563.1L196.8,559.1L202.4,555.5M193.4,560L199,555.9L204.6,552.2L210.1,548.9M201.1,552.8L206.7,549L212.2,545.6L217.6,542.7M203.1,549.9L208.7,546.1L214.2,542.6L219.6,539.6M210.6,543.3L216.1,539.9L221.5,536.8L226.8,534.1" fill="none" stroke="#e9e9e9" stroke-width="0.1" stroke-linecap="round"/>
<path d="M116,647.9L118.1,644.8M121.4,643.6L123.5,640.3L125.8,637L128,633.6L130.4,630.2L132.7,626.8M126.8,639.6L129,636.1L131.3,632.6L133.6,629.1L136,625.5L138.3,621.9L140.8,618.4L143.2,614.8L145.6,611.4M136.7,628.6L139.1,624.9L141.5,621.1L144,617.4L146.4,613.6L148.9,609.9L151.4,606.3L153.8,602.7L156.2,599.2M147.1,617.1L149.6,613.2L152.1,609.3L154.6,605.4L157.1,601.6L159.6,597.9L162,594.2L164.5,590.6L166.9,587.2L169.2,583.9M160.2,601.2L162.8,597.3L165.3,593.4L167.8,589.6L170.3,585.9L172.7,582.3L175.1,578.9L177.4,575.6L179.6,572.4L181.7,569.4M170.9,589.3L173.5,585.3L176,581.5L178.4,577.8L180.8,574.2L183.2,570.8L185.4,567.6L187.6,564.5L189.7,561.6L191.6,558.8L193.4,556.3M184.1,573.7L186.5,570L188.9,566.5L191.2,563.1L193.4,560L195.4,557L197.4,554.2L199.3,551.6L201,549.2M194.5,562.6L196.8,559.1L199,555.9L201.1,552.8L203.1,549.9L205,547.3L206.7,544.8M206.7,549L208.7,546.1L210.6,543.3L212.4,540.9M134.4,632.3L139.8,628.8L145.3,625.6L150.7,622.8M136.7,628.6L142.2,624.9L147.7,621.6L153.1,618.5M144.6,621L150.1,617.5L155.6,614.3M147.1,617.1L152.6,613.4L158.1,610L163.6,607M149.6,613.2L155.1,609.3L160.7,605.8L166.2,602.6M157.7,605.2L163.2,601.6L168.8,598.3M160.2,601.2L165.8,597.4L171.4,594L176.9,590.9M168.4,593.3L174,589.7L179.5,586.5M170.9,589.3L176.6,585.5L182.1,582.2L187.6,579.2M173.5,585.3L179.1,581.5L184.7,578L190.2,574.9M181.6,577.5L187.2,573.9L192.8,570.7L198.2,567.8M184.1,573.7L189.7,570L195.3,566.6L200.7,563.7M192.2,566.2L197.7,562.8L203.2,559.7L208.6,557.1M200.1,559L205.6,555.9L211,553.2L216.3,550.8M202.4,555.5L207.9,552.3L213.3,549.5L218.6,547M210.1,548.9L215.5,546L220.8,543.5L226,541.4M217.6,542.7L222.9,540.1L228.1,538L233.3,536.3M219.6,539.6L224.9,537L230.1,534.8L235.2,533L240.2,531.7M226.8,534.1L232,531.9L237.1,530.1L242.1,528.7L246.9,527.7" fill="none" stroke="#bdbdbd" stroke-width="0.2" transform="translate(0.55,0.45)"/>
<path d="M116,647.9L118.1,644.8M121.4,643.6L123.5,640.3L125.8,637L128,633.6L130.4,630.2L132.7,626.8M126.8,639.6L129,636.1L131.3,632.6L133.6,629.1L136,625.5L138.3,621.9L140.8,618.4L143.2,614.8L145.6,611.4M136.7,628.6L139.1,624.9L141.5,621.1L144,617.4L146.4,613.6L148.9,609.9L151.4,606.3L153.8,602.7L156.2,599.2M147.1,617.1L149.6,613.2L152.1,609.3L154.6,605.4L157.1,601.6L159.6,597.9L162,594.2L164.5,590.6L166.9,587.2L169.2,583.9M160.2,601.2L162.8,597.3L165.3,593.4L167.8,589.6L170.3,585.9L172.7,582.3L175.1,578.9L177.4,575.6L179.6,572.4L181.7,569.4M170.9,589.3L173.5,585.3L176,581.5L178.4,577.8L180.8,574.2L183.2,570.8L185.4,567.6L187.6,564.5L189.7,561.6L191.6,558.8L193.4,556.3M184.1,573.7L186.5,570L188.9,566.5L191.2,563.1L193.4,560L195.4,557L197.4,554.2L199.3,551.6L201,549.2M194.5,562.6L196.8,559.1L199,555.9L201.1,552.8L203.1,549.9L205,547.3L206.7,544.8M206.7,549L208.7,546.1L210.6,543.3L212.4,540.9M134.4,632.3L139.8,628.8L145.3,625.6L150.7,622.8M136.7,628.6L142.2,624.9L147.7,621.6L153.1,618.5M144.6,621L150.1,617.5L155.6,614.3M147.1,617.1L152.6,613.4L158.1,610L163.6,607M149.6,613.2L155.1,609.3L160.7,605.8L166.2,602.6M157.7,605.2L163.2,601.6L168.8,598.3M160.2,601.2L165.8,597.4L171.4,594L176.9,590.9M168.4,593.3L174,589.7L179.5,586.5M170.9,589.3L176.6,585.5L182.1,582.2L187.6,579.2M173.5,585.3L179.1,581.5L184.7,578L190.2,574.9M181.6,577.5L187.2,573.9L192.8,570.7L198.2,567.8M184.1,573.7L189.7,570L195.3,566.6L200.7,563.7M192.2,566.2L197.7,562.8L203.2,559.7L208.6,557.1M200.1,559L205.6,555.9L211,553.2L216.3,550.8M202.4,555.5L207.9,552.3L213.3,549.5L218.6,547M210.1,548.9L215.5,546L220.8,543.5L226,541.4M217.6,542.7L222.9,540.1L228.1,538L233.3,536.3M219.6,539.6L224.9,537L230.1,534.8L235.2,533L240.2,531.7M226.8,534.1L232,531.9L237.1,530.1L242.1,528.7L246.9,527.7" fill="none" stroke="#e9e9e9" stroke-width="0.22" stroke-linecap="round"/>
<path d="M132.1,635.9L134.4,632.3L136.7,628.6M137.5,632.6L139.8,628.8L142.2,624.9L144.6,621L147.1,617.1M142.9,629.6L145.3,625.6L147.7,621.6L150.1,617.5L152.6,613.4L155.1,609.3L157.7,605.2L160.2,601.2M148.3,626.9L150.7,622.8L153.1,618.5L155.6,614.3L158.1,610L160.7,605.8L163.2,601.6L165.8,597.4L168.4,593.3L170.9,589.3M161.1,611.5L163.6,607L166.2,602.6L168.8,598.3L171.4,594L174,589.7L176.6,585.5L179.1,581.5L181.6,577.5L184.1,573.7M171.7,599.8L174.3,595.3L176.9,590.9L179.5,586.5L182.1,582.2L184.7,578L187.2,573.9L189.7,570L192.2,566.2L194.5,562.6M185,583.6L187.6,579.2L190.2,574.9L192.8,570.7L195.3,566.6L197.7,562.8L200.1,559L202.4,555.5L204.6,552.2L206.7,549M195.7,572.1L198.2,567.8L200.7,563.7L203.2,559.7L205.6,555.9L207.9,552.3L210.1,548.9L212.2,545.6L214.2,542.6L216.1,539.9L217.9,537.3M206.1,561.1L208.6,557.1L211,553.2L213.3,549.5L215.5,546L217.6,542.7L219.6,539.6L221.5,536.8L223.3,534.2M216.3,550.8L218.6,547L220.8,543.5L222.9,540.1L224.9,537L226.8,534.1L228.6,531.5M226,541.4L228.1,538L230.1,534.8L232,531.9L233.8,529.2M237.1,530.1L238.8,527.4M150.7,622.8L156.1,620.2L161.5,618.1M153.1,618.5L158.5,615.9L164,613.5M155.6,614.3L161.1,611.5L166.5,609L171.9,606.8M163.6,607L169.1,604.4L174.5,602.1M166.2,602.6L171.7,599.8L177.1,597.4M168.8,598.3L174.3,595.3L179.7,592.7L185.2,590.5M176.9,590.9L182.4,588.1L187.8,585.8M179.5,586.5L185,583.6L190.4,581.1L195.8,579M187.6,579.2L193.1,576.6L198.5,574.3M190.2,574.9L195.7,572.1L201.1,569.8L206.4,567.8M198.2,567.8L203.6,565.4L208.9,563.3M200.7,563.7L206.1,561.1L211.5,559L216.7,557.2M208.6,557.1L213.9,554.8L219.2,552.9L224.3,551.4M216.3,550.8L221.5,548.9L226.7,547.3M218.6,547L223.8,545L229,543.4L234,542.2M226,541.4L231.2,539.7L236.2,538.5L241.1,537.6M233.3,536.3L238.3,534.9L243.2,534L248,533.5M240.2,531.7L245.1,530.7L249.9,530.2L254.6,530.1L259.2,530.4M246.9,527.7L251.7,527.1L256.3,527L260.9,527.2" fill="none" stroke="#bdbdbd" stroke-width="0.3" transform="translate(0.55,0.45)"/>
<path d="M132.1,635.9L134.4,632.3L136.7,628.6M137.5,632.6L139.8,628.8L142.2,624.9L144.6,621L147.1,617.1M142.9,629.6L145.3,625.6L147.7,621.6L150.1,617.5L152.6,613.4L155.1,609.3L157.7,605.2L160.2,601.2M148.3,626.9L150.7,622.8L153.1,618.5L155.6,614.3L158.1,610L160.7,605.8L163.2,601.6L165.8,597.4L168.4,593.3L170.9,589.3M161.1,611.5L163.6,607L166.2,602.6L168.8,598.3L171.4,594L174,589.7L176.6,585.5L179.1,581.5L181.6,577.5L184.1,573.7M171.7,599.8L174.3,595.3L176.9,590.9L179.5,586.5L182.1,582.2L184.7,578L187.2,573.9L189.7,570L192.2,566.2L194.5,562.6M185,583.6L187.6,579.2L190.2,574.9L192.8,570.7L195.3,566.6L197.7,562.8L200.1,559L202.4,555.5L204.6,552.2L206.7,549M195.7,572.1L198.2,567.8L200.7,563.7L203.2,559.7L205.6,555.9L207.9,552.3L210.1,548.9L212.2,545.6L214.2,542.6L216.1,539.9L217.9,537.3M206.1,561.1L208.6,557.1L211,553.2L213.3,549.5L215.5,546L217.6,542.7L219.6,539.6L221.5,536.8L223.3,534.2M216.3,550.8L218.6,547L220.8,543.5L222.9,540.1L224.9,537L226.8,534.1L228.6,531.5M226,541.4L228.1,538L230.1,534.8L232,531.9L233.8,529.2M237.1,530.1L238.8,527.4M150.7,622.8L156.1,620.2L161.5,618.1M153.1,618.5L158.5,615.9L164,613.5M155.6,614.3L161.1,611.5L166.5,609L171.9,606.8M163.6,607L169.1,604.4L174.5,602.1M166.2,602.6L171.7,599.8L177.1,597.4M168.8,598.3L174.3,595.3L179.7,592.7L185.2,590.5M176.9,590.9L182.4,588.1L187.8,585.8M179.5,586.5L185,583.6L190.4,581.1L195.8,579M187.6,579.2L193.1,576.6L198.5,574.3M190.2,574.9L195.7,572.1L201.1,569.8L206.4,567.8M198.2,567.8L203.6,565.4L208.9,563.3M200.7,563.7L206.1,561.1L211.5,559L216.7,557.2M208.6,557.1L213.9,554.8L219.2,552.9L224.3,551.4M216.3,550.8L221.5,548.9L226.7,547.3M218.6,547L223.8,545L229,543.4L234,542.2M226,541.4L231.2,539.7L236.2,538.5L241.1,537.6M233.3,536.3L238.3,534.9L243.2,534L248,533.5M240.2,531.7L245.1,530.7L249.9,530.2L254.6,530.1L259.2,530.4M246.9,527.7L251.7,527.1L256.3,527L260.9,527.2" fill="none" stroke="#e9e9e9" stroke-width="0.4" stroke-linecap="round"/>
<path d="M153.7,624.6L156.1,620.2L158.5,615.9L161.1,611.5M159.1,622.5L161.5,618.1L164,613.5L166.5,609L169.1,604.4L171.7,599.8M164.4,620.9L166.9,616.2L169.4,611.5L171.9,606.8L174.5,602.1L177.1,597.4L179.7,592.7L182.4,588.1L185,583.6M169.8,619.5L172.3,614.7L174.8,609.9L177.3,605L179.9,600.1L182.5,595.3L185.2,590.5L187.8,585.8L190.4,581.1L193.1,576.6L195.7,572.1M175.2,618.4L177.7,613.5L180.2,608.5L182.7,603.5L185.3,598.5L187.9,593.5L190.5,588.6L193.2,583.8L195.8,579L198.5,574.3L201.1,569.8L203.6,565.4L206.1,561.1M180.6,617.7L183,612.6L185.5,607.5L188.1,602.4L190.7,597.3L193.3,592.1L195.9,587.1L198.5,582.1L201.2,577.2L203.8,572.4L206.4,567.8L208.9,563.3L211.5,559L213.9,554.8L216.3,550.8M186,617.3L188.4,612.1L190.9,606.9L193.4,601.6L196,596.3L198.6,591.1L201.2,585.9L203.9,580.8L206.5,575.8L209.1,570.9L211.7,566.2L214.2,561.6L216.7,557.2L219.2,552.9L221.5,548.9L223.8,545L226,541.4M191.4,617.2L193.8,611.9L196.2,606.5L198.8,601.1L201.3,595.8L203.9,590.4L206.5,585.1L209.1,579.9L211.7,574.8L214.3,569.8L216.9,565L219.4,560.3L221.9,555.8L224.3,551.4L226.7,547.3L229,543.4L231.2,539.7L233.3,536.3L235.2,533L237.1,530.1M196.8,617.5L199.1,612.1L201.6,606.6L204.1,601L206.6,595.5L209.2,590.1L211.8,584.7L214.3,579.3L216.9,574.1L219.5,569L222,564.1L224.5,559.3L227,554.7L229.4,550.4L231.8,546.2L234,542.2L236.2,538.5L238.3,534.9L240.2,531.7L242.1,528.7L243.8,525.9M202.1,618.1L204.5,612.5L206.9,606.9L209.4,601.3L211.9,595.6L214.4,590.1L217,584.6L219.5,579.1L222.1,573.8L224.6,568.7L227.1,563.6L229.6,558.8L232,554.1L234.4,549.7L236.7,545.4L239,541.4L241.1,537.6L243.2,534L245.1,530.7L246.9,527.7L248.6,524.9M207.5,619L209.9,613.3L212.2,607.6L214.7,601.8L217.1,596.1L219.6,590.4L222.1,584.8L224.7,579.3L227.2,573.9L229.7,568.6L232.2,563.5L234.6,558.6L237,553.9L239.4,549.4L241.6,545L243.8,541L246,537.1L248,533.5L249.9,530.2L251.7,527.1L253.4,524.3M212.9,620.2L215.2,614.4L217.5,608.6L219.9,602.7L222.4,596.9L224.8,591.1L227.3,585.4L229.8,579.8L232.2,574.3L234.7,569L237.1,563.8L239.5,558.8L241.9,554L244.2,549.4L246.5,545.1L248.6,541L250.7,537.1L252.7,533.4L254.6,530.1L256.3,527L258,524.2M161.5,618.1L166.9,616.2L172.3,614.7L177.7,613.5L183,612.6L188.4,612.1L193.8,611.9L199.1,612.1L204.5,612.5L209.9,613.3L215.2,614.4L220.5,615.9M164,613.5L169.4,611.5L174.8,609.9L180.2,608.5L185.5,607.5L190.9,606.9L196.2,606.5L201.6,606.6L206.9,606.9L212.2,607.6L217.5,608.6L222.8,610M171.9,606.8L177.3,605L182.7,603.5L188.1,602.4L193.4,601.6L198.8,601.1L204.1,601L209.4,601.3L214.7,601.8L219.9,602.7L225.2,604M174.5,602.1L179.9,600.1L185.3,598.5L190.7,597.3L196,596.3L201.3,595.8L206.6,595.5L211.9,595.6L217.1,596.1L222.4,596.9L227.6,598.1M177.1,597.4L182.5,595.3L187.9,593.5L193.3,592.1L198.6,591.1L203.9,590.4L209.2,590.1L214.4,590.1L219.6,590.4L224.8,591.1L230,592.2M185.2,590.5L190.5,588.6L195.9,587.1L201.2,585.9L206.5,585.1L211.8,584.7L217,584.6L222.1,584.8L227.3,585.4L232.4,586.4M187.8,585.8L193.2,583.8L198.5,582.1L203.9,580.8L209.1,579.9L214.3,579.3L219.5,579.1L224.7,579.3L229.8,579.8L234.8,580.7M195.8,579L201.2,577.2L206.5,575.8L211.7,574.8L216.9,574.1L222.1,573.8L227.2,573.9L232.2,574.3L237.3,575.1M198.5,574.3L203.8,572.4L209.1,570.9L214.3,569.8L219.5,569L224.6,568.7L229.7,568.6L234.7,569L239.7,569.7M206.4,567.8L211.7,566.2L216.9,565L222,564.1L227.1,563.6L232.2,563.5L237.1,563.8L242.1,564.5M208.9,563.3L214.2,561.6L219.4,560.3L224.5,559.3L229.6,558.8L234.6,558.6L239.5,558.8L244.4,559.4M216.7,557.2L221.9,555.8L227,554.7L232,554.1L237,553.9L241.9,554L246.7,554.6M224.3,551.4L229.4,550.4L234.4,549.7L239.4,549.4L244.2,549.4L249,549.9M226.7,547.3L231.8,546.2L236.7,545.4L241.6,545L246.5,545.1L251.2,545.5M234,542.2L239,541.4L243.8,541L248.6,541L253.3,541.3M241.1,537.6L246,537.1L250.7,537.1L255.4,537.4M248,533.5L252.7,533.4L257.3,533.8" fill="none" stroke="#bdbdbd" stroke-width="0.5" transform="translate(0.55,0.45)"/>
<path d="M153.7,624.6L156.1,620.2L158.5,615.9L161.1,611.5M159.1,622.5L161.5,618.1L164,613.5L166.5,609L169.1,604.4L171.7,599.8M164.4,620.9L166.9,616.2L169.4,611.5L171.9,606.8L174.5,602.1L177.1,597.4L179.7,592.7L182.4,588.1L185,583.6M169.8,619.5L172.3,614.7L174.8,609.9L177.3,605L179.9,600.1L182.5,595.3L185.2,590.5L187.8,585.8L190.4,581.1L193.1,576.6L195.7,572.1M175.2,618.4L177.7,613.5L180.2,608.5L182.7,603.5L185.3,598.5L187.9,593.5L190.5,588.6L193.2,583.8L195.8,579L198.5,574.3L201.1,569.8L203.6,565.4L206.1,561.1M180.6,617.7L183,612.6L185.5,607.5L188.1,602.4L190.7,597.3L193.3,592.1L195.9,587.1L198.5,582.1L201.2,577.2L203.8,572.4L206.4,567.8L208.9,563.3L211.5,559L213.9,554.8L216.3,550.8M186,617.3L188.4,612.1L190.9,606.9L193.4,601.6L196,596.3L198.6,591.1L201.2,585.9L203.9,580.8L206.5,575.8L209.1,570.9L211.7,566.2L214.2,561.6L216.7,557.2L219.2,552.9L221.5,548.9L223.8,545L226,541.4M191.4,617.2L193.8,611.9L196.2,606.5L198.8,601.1L201.3,595.8L203.9,590.4L206.5,585.1L209.1,579.9L211.7,574.8L214.3,569.8L216.9,565L219.4,560.3L221.9,555.8L224.3,551.4L226.7,547.3L229,543.4L231.2,539.7L233.3,536.3L235.2,533L237.1,530.1M196.8,617.5L199.1,612.1L201.6,606.6L204.1,601L206.6,595.5L209.2,590.1L211.8,584.7L214.3,579.3L216.9,574.1L219.5,569L222,564.1L224.5,559.3L227,554.7L229.4,550.4L231.8,546.2L234,542.2L236.2,538.5L238.3,534.9L240.2,531.7L242.1,528.7L243.8,525.9M202.1,618.1L204.5,612.5L206.9,606.9L209.4,601.3L211.9,595.6L214.4,590.1L217,584.6L219.5,579.1L222.1,573.8L224.6,568.7L227.1,563.6L229.6,558.8L232,554.1L234.4,549.7L236.7,545.4L239,541.4L241.1,537.6L243.2,534L245.1,530.7L246.9,527.7L248.6,524.9M207.5,619L209.9,613.3L212.2,607.6L214.7,601.8L217.1,596.1L219.6,590.4L222.1,584.8L224.7,579.3L227.2,573.9L229.7,568.6L232.2,563.5L234.6,558.6L237,553.9L239.4,549.4L241.6,545L243.8,541L246,537.1L248,533.5L249.9,530.2L251.7,527.1L253.4,524.3M212.9,620.2L215.2,614.4L217.5,608.6L219.9,602.7L222.4,596.9L224.8,591.1L227.3,585.4L229.8,579.8L232.2,574.3L234.7,569L237.1,563.8L239.5,558.8L241.9,554L244.2,549.4L246.5,545.1L248.6,541L250.7,537.1L252.7,533.4L254.6,530.1L256.3,527L258,524.2M161.5,618.1L166.9,616.2L172.3,614.7L177.7,613.5L183,612.6L188.4,612.1L193.8,611.9L199.1,612.1L204.5,612.5L209.9,613.3L215.2,614.4L220.5,615.9M164,613.5L169.4,611.5L174.8,609.9L180.2,608.5L185.5,607.5L190.9,606.9L196.2,606.5L201.6,606.6L206.9,606.9L212.2,607.6L217.5,608.6L222.8,610M171.9,606.8L177.3,605L182.7,603.5L188.1,602.4L193.4,601.6L198.8,601.1L204.1,601L209.4,601.3L214.7,601.8L219.9,602.7L225.2,604M174.5,602.1L179.9,600.1L185.3,598.5L190.7,597.3L196,596.3L201.3,595.8L206.6,595.5L211.9,595.6L217.1,596.1L222.4,596.9L227.6,598.1M177.1,597.4L182.5,595.3L187.9,593.5L193.3,592.1L198.6,591.1L203.9,590.4L209.2,590.1L214.4,590.1L219.6,590.4L224.8,591.1L230,592.2M185.2,590.5L190.5,588.6L195.9,587.1L201.2,585.9L206.5,585.1L211.8,584.7L217,584.6L222.1,584.8L227.3,585.4L232.4,586.4M187.8,585.8L193.2,583.8L198.5,582.1L203.9,580.8L209.1,579.9L214.3,579.3L219.5,579.1L224.7,579.3L229.8,579.8L234.8,580.7M195.8,579L201.2,577.2L206.5,575.8L211.7,574.8L216.9,574.1L222.1,573.8L227.2,573.9L232.2,574.3L237.3,575.1M198.5,574.3L203.8,572.4L209.1,570.9L214.3,569.8L219.5,569L224.6,568.7L229.7,568.6L234.7,569L239.7,569.7M206.4,567.8L211.7,566.2L216.9,565L222,564.1L227.1,563.6L232.2,563.5L237.1,563.8L242.1,564.5M208.9,563.3L214.2,561.6L219.4,560.3L224.5,559.3L229.6,558.8L234.6,558.6L239.5,558.8L244.4,559.4M216.7,557.2L221.9,555.8L227,554.7L232,554.1L237,553.9L241.9,554L246.7,554.6M224.3,551.4L229.4,550.4L234.4,549.7L239.4,549.4L244.2,549.4L249,549.9M226.7,547.3L231.8,546.2L236.7,545.4L241.6,545L246.5,545.1L251.2,545.5M234,542.2L239,541.4L243.8,541L248.6,541L253.3,541.3M241.1,537.6L246,537.1L250.7,537.1L255.4,537.4M248,533.5L252.7,533.4L257.3,533.8" fill="none" stroke="#e9e9e9" stroke-width="0.6" stroke-linecap="round"/>
<path d="M100,665.7L222.2,693.1" stroke="#8c8c8c" stroke-width="0.9" fill="none" stroke-linecap="round"/>
<path d="M222.2,693.1L275.3,623.9" stroke="#8c8c8c" stroke-width="0.9" fill="none" stroke-linecap="round"/>
<text x="76.5" y="572.2" class="n" textLength="10.6" lengthAdjust="spacingAndGlyphs">100</text>
<text x="78.3" y="603.1" class="n" textLength="7.2" lengthAdjust="spacingAndGlyphs">80</text>
<text x="79.1" y="633.5" class="n" textLength="7.2" lengthAdjust="spacingAndGlyphs">60</text>
<text x="79.4" y="663" class="n" textLength="7.2" lengthAdjust="spacingAndGlyphs">40</text>
<text x="110.9" y="684.2" class="n" textLength="10.6" lengthAdjust="spacingAndGlyphs">100</text>
<text x="157" y="693.9" class="n" textLength="10.6" lengthAdjust="spacingAndGlyphs">200</text>
<text x="201.9" y="703.9" class="n" textLength="10.6" lengthAdjust="spacingAndGlyphs">300</text>
<text x="236.6" y="693.9" class="n" textLength="8.6" lengthAdjust="spacingAndGlyphs">0,0</text>
<text x="251.4" y="675.5" class="n" textLength="8.6" lengthAdjust="spacingAndGlyphs">1,5</text>
<text x="264.9" y="657.3" class="n" textLength="8.6" lengthAdjust="spacingAndGlyphs">3,0</text>
<text x="278.7" y="638.2" class="n" textLength="8.6" lengthAdjust="spacingAndGlyphs">4,5</text>
<path d="M98,574.8h-2.6M98.6,605.1h-2.6M99.3,635h-2.6M100,664.9h-2.6M124.4,671.2l-1.5,1.9M170.1,681.4l-1.5,1.9M215,691.5l-1.5,1.9M224.7,689.8l2.3,0.5M238.9,671.4l2.3,0.5M252.8,653.2l2.3,0.5M267.5,634.1l2.3,0.5" fill="none" stroke="#a8a8a8" stroke-width="0.8"/>
<text x="-0.2" y="601.7" class="t" textLength="69.6" lengthAdjust="spacingAndGlyphs">Extraction yield (%)</text>
<text x="110" y="711.8" class="t" textLength="76" lengthAdjust="spacingAndGlyphs">Extraction time (min)</text>
<text x="274.3" y="674.5" class="t" textLength="81.5" lengthAdjust="spacingAndGlyphs">Modifier concentration</text>
<text x="302" y="683.7" class="t" textLength="26" lengthAdjust="spacingAndGlyphs">(mol%)</text>
<text x="19.8" y="498.2" class="pl">(e)</text>
<polygon points="468.7,557.5 524.1,488.5 525.5,596 471.2,663.7" fill="#f7f7f7"/>
<polygon points="524.1,488.5 652.3,514.8 653.8,622.2 525.5,596" fill="#f7f7f7"/>
<polygon points="471.2,663.7 525.5,596 653.8,622.2 598.3,691.3" fill="#f7f7f7"/>
<path d="M471.2,663.7L525.5,596" stroke="#adadad" stroke-width="0.8" fill="none" stroke-linecap="round"/>
<path d="M525.5,596L653.8,622.2" stroke="#a6a6a6" stroke-width="0.8" fill="none" stroke-linecap="round"/>
<path d="M524.1,488.5L525.5,596" stroke="#a8a8a8" stroke-width="0.8" fill="none" stroke-linecap="round"/>
<path d="M468.7,557.5L524.1,488.5" stroke="#9c9c9c" stroke-width="0.8" fill="none" stroke-linecap="round"/>
<path d="M524.1,488.5L652.3,514.8" stroke="#9c9c9c" stroke-width="0.8" fill="none" stroke-linecap="round"/>
<path d="M468.7,557.5L471.2,663.7" stroke="#b2b2b2" stroke-width="0.8" fill="none" stroke-linecap="round"/>
<path d="M652.3,514.8L653.8,622.2" stroke="#a8a8a8" stroke-width="0.8" fill="none" stroke-linecap="round"/>
<polygon points="483,652 488.6,646.5 494.2,641.3 499.8,636.5 505.4,631.9 511,627.6 516.6,623.6 522.2,619.9 527.8,616.6 533.4,613.5 539,610.7 544.7,608.2 550.3,606 555.9,604.2 561.5,602.6 567.1,601.3 572.7,600.3 578.3,599.6 583.9,599.3 589.5,599.2 595.1,599.4 597.1,595.2 599.2,590.9 601.4,586.5 603.6,582.2 606,577.8 608.3,573.5 610.8,569.3 613.2,565.1 615.7,561 618.2,557 620.7,553.1 623.2,549.3 625.7,545.7 628.2,542.2 630.6,538.8 632.9,535.7 635.2,532.7 637.3,529.9 639.4,527.4 641.3,525 635,524.4 628.7,524.1 622.5,524 616.3,524.3 610.2,524.9 604.1,525.8 598.1,527.1 592.2,528.6 586.3,530.4 580.5,532.5 574.7,535 569,537.7 563.4,540.8 557.8,544.2 552.3,547.8 546.8,551.8 541.4,556.1 536,560.7 530.7,565.6 525.5,570.8 524,573.5 522.3,576.4 520.5,579.5 518.6,582.8 516.7,586.4 514.6,590.1 512.5,593.9 510.3,597.9 508.1,602.1 505.8,606.4 503.5,610.7 501.2,615.2 498.9,619.8 496.6,624.4 494.2,629 491.9,633.7 489.6,638.3 487.4,642.9 485.2,647.5" fill="#c5c5c5" stroke="#c5c5c5" stroke-width="0.6"/>
<path d="M514.6,590.1L519.9,584.8M516.7,586.4L521.9,581.1M518.6,582.8L523.9,577.6L529.2,572.6M520.5,579.5L525.8,574.3L531.1,569.3M522.3,576.4L527.5,571.2L532.8,566.2L538.2,561.6M524,573.5L529.2,568.3L534.5,563.3L539.8,558.7L545.2,554.4" fill="none" stroke="#bdbdbd" stroke-width="0" transform="translate(0.55,0.45)"/>
<path d="M514.6,590.1L519.9,584.8M516.7,586.4L521.9,581.1M518.6,582.8L523.9,577.6L529.2,572.6M520.5,579.5L525.8,574.3L531.1,569.3M522.3,576.4L527.5,571.2L532.8,566.2L538.2,561.6M524,573.5L529.2,568.3L534.5,563.3L539.8,558.7L545.2,554.4" fill="none" stroke="#e9e9e9" stroke-width="0.04" stroke-linecap="round"/>
<path d="M485.2,647.5L490.7,642M487.4,642.9L492.9,637.5M489.6,638.3L495.1,632.9M491.9,633.7L497.4,628.2M494.2,629L499.7,623.6M496.6,624.4L502,619L507.4,613.8M498.9,619.8L504.3,614.4L509.7,609.3M501.2,615.2L506.6,609.8L512,604.8M503.5,610.7L508.9,605.4L514.3,600.3L519.7,595.5M505.8,606.4L511.2,601L516.5,596L521.9,591.2M508.1,602.1L513.4,596.7L518.8,591.7L524.1,587M510.3,597.9L515.6,592.6L521,587.6L526.3,582.9L531.7,578.5M512.5,593.9L517.8,588.6L523.1,583.6L528.5,578.9L533.9,574.5M519.9,584.8L525.2,579.8L530.6,575.1L536,570.7L541.4,566.6M521.9,581.1L527.2,576.1L532.6,571.4L538,567.1L543.4,563L548.9,559.3M529.2,572.6L534.5,568L539.9,563.6L545.4,559.6L550.9,555.8M531.1,569.3L536.4,564.7L541.8,560.4L547.3,556.3L552.8,552.6L558.3,549.2M538.2,561.6L543.6,557.3L549,553.3L554.5,549.6L560.1,546.2L565.7,543.1M545.2,554.4L550.7,550.4L556.2,546.8L561.8,543.4L567.4,540.3L573.1,537.5L578.9,535.1" fill="none" stroke="#bdbdbd" stroke-width="0.1" transform="translate(0.55,0.45)"/>
<path d="M485.2,647.5L490.7,642M487.4,642.9L492.9,637.5M489.6,638.3L495.1,632.9M491.9,633.7L497.4,628.2M494.2,629L499.7,623.6M496.6,624.4L502,619L507.4,613.8M498.9,619.8L504.3,614.4L509.7,609.3M501.2,615.2L506.6,609.8L512,604.8M503.5,610.7L508.9,605.4L514.3,600.3L519.7,595.5M505.8,606.4L511.2,601L516.5,596L521.9,591.2M508.1,602.1L513.4,596.7L518.8,591.7L524.1,587M510.3,597.9L515.6,592.6L521,587.6L526.3,582.9L531.7,578.5M512.5,593.9L517.8,588.6L523.1,583.6L528.5,578.9L533.9,574.5M519.9,584.8L525.2,579.8L530.6,575.1L536,570.7L541.4,566.6M521.9,581.1L527.2,576.1L532.6,571.4L538,567.1L543.4,563L548.9,559.3M529.2,572.6L534.5,568L539.9,563.6L545.4,559.6L550.9,555.8M531.1,569.3L536.4,564.7L541.8,560.4L547.3,556.3L552.8,552.6L558.3,549.2M538.2,561.6L543.6,557.3L549,553.3L554.5,549.6L560.1,546.2L565.7,543.1M545.2,554.4L550.7,550.4L556.2,546.8L561.8,543.4L567.4,540.3L573.1,537.5L578.9,535.1" fill="none" stroke="#e9e9e9" stroke-width="0.1" stroke-linecap="round"/>
<path d="M497.4,628.2L499.7,623.6L502,619L504.3,614.4L506.6,609.8L508.9,605.4L511.2,601L513.4,596.7L515.6,592.6L517.8,588.6L519.9,584.8L521.9,581.1L523.9,577.6L525.8,574.3L527.5,571.2L529.2,568.3L530.7,565.6M509.7,609.3L512,604.8L514.3,600.3L516.5,596L518.8,591.7L521,587.6L523.1,583.6L525.2,579.8L527.2,576.1L529.2,572.6L531.1,569.3L532.8,566.2L534.5,563.3L536,560.7M526.3,582.9L528.5,578.9L530.6,575.1L532.6,571.4L534.5,568L536.4,564.7L538.2,561.6L539.8,558.7L541.4,556.1M543.6,557.3L545.2,554.4L546.8,551.8M490.7,642L496.3,636.9L501.9,632L507.5,627.4L513,623.1L518.6,619.2M492.9,637.5L498.4,632.3L504,627.4L509.5,622.9L515.1,618.6L520.7,614.7M495.1,632.9L500.6,627.7L506.2,622.9L511.7,618.3L517.2,614.1L522.8,610.1M497.4,628.2L502.9,623.1L508.4,618.2L513.9,613.7L519.4,609.5L524.9,605.5M499.7,623.6L505.1,618.5L510.6,613.6L516.1,609.1L521.6,604.9L527.1,601M507.4,613.8L512.8,609L518.3,604.5L523.8,600.3L529.3,596.4L534.8,592.8M509.7,609.3L515.1,604.5L520.6,600L526,595.8L531.5,591.9L537.1,588.3M512,604.8L517.4,600L522.8,595.5L528.3,591.3L533.8,587.5L539.3,583.9M519.7,595.5L525.1,591.1L530.5,586.9L536,583.1L541.5,579.5L547.1,576.3M521.9,591.2L527.3,586.8L532.8,582.6L538.2,578.8L543.8,575.3L549.3,572M524.1,587L529.5,582.6L535,578.4L540.5,574.6L546,571.1L551.5,567.9L557.1,565M531.7,578.5L537.2,574.4L542.6,570.5L548.2,567.1L553.7,563.9L559.3,561M533.9,574.5L539.3,570.4L544.8,566.6L550.3,563.2L555.9,560L561.5,557.1L567.1,554.5M541.4,566.6L546.9,562.9L552.4,559.4L558,556.2L563.6,553.4L569.2,550.8L574.9,548.6M548.9,559.3L554.4,555.8L560,552.7L565.6,549.8L571.3,547.3L577,545.1L582.8,543.2M550.9,555.8L556.4,552.4L562,549.3L567.6,546.5L573.3,544L579.1,541.8L584.9,539.9L590.7,538.3M558.3,549.2L563.9,546.1L569.6,543.3L575.3,540.8L581,538.6L586.8,536.7L592.7,535.2L598.6,533.9M565.7,543.1L571.4,540.3L577.1,537.8L582.9,535.7L588.7,533.8L594.6,532.3L600.6,531L606.6,530.1L612.6,529.4M578.9,535.1L584.7,532.9L590.5,531.1L596.4,529.5L602.4,528.3L608.4,527.4L614.5,526.8L620.6,526.5L626.8,526.5L633.1,526.8" fill="none" stroke="#bdbdbd" stroke-width="0.2" transform="translate(0.55,0.45)"/>
<path d="M497.4,628.2L499.7,623.6L502,619L504.3,614.4L506.6,609.8L508.9,605.4L511.2,601L513.4,596.7L515.6,592.6L517.8,588.6L519.9,584.8L521.9,581.1L523.9,577.6L525.8,574.3L527.5,571.2L529.2,568.3L530.7,565.6M509.7,609.3L512,604.8L514.3,600.3L516.5,596L518.8,591.7L521,587.6L523.1,583.6L525.2,579.8L527.2,576.1L529.2,572.6L531.1,569.3L532.8,566.2L534.5,563.3L536,560.7M526.3,582.9L528.5,578.9L530.6,575.1L532.6,571.4L534.5,568L536.4,564.7L538.2,561.6L539.8,558.7L541.4,556.1M543.6,557.3L545.2,554.4L546.8,551.8M490.7,642L496.3,636.9L501.9,632L507.5,627.4L513,623.1L518.6,619.2M492.9,637.5L498.4,632.3L504,627.4L509.5,622.9L515.1,618.6L520.7,614.7M495.1,632.9L500.6,627.7L506.2,622.9L511.7,618.3L517.2,614.1L522.8,610.1M497.4,628.2L502.9,623.1L508.4,618.2L513.9,613.7L519.4,609.5L524.9,605.5M499.7,623.6L505.1,618.5L510.6,613.6L516.1,609.1L521.6,604.9L527.1,601M507.4,613.8L512.8,609L518.3,604.5L523.8,600.3L529.3,596.4L534.8,592.8M509.7,609.3L515.1,604.5L520.6,600L526,595.8L531.5,591.9L537.1,588.3M512,604.8L517.4,600L522.8,595.5L528.3,591.3L533.8,587.5L539.3,583.9M519.7,595.5L525.1,591.1L530.5,586.9L536,583.1L541.5,579.5L547.1,576.3M521.9,591.2L527.3,586.8L532.8,582.6L538.2,578.8L543.8,575.3L549.3,572M524.1,587L529.5,582.6L535,578.4L540.5,574.6L546,571.1L551.5,567.9L557.1,565M531.7,578.5L537.2,574.4L542.6,570.5L548.2,567.1L553.7,563.9L559.3,561M533.9,574.5L539.3,570.4L544.8,566.6L550.3,563.2L555.9,560L561.5,557.1L567.1,554.5M541.4,566.6L546.9,562.9L552.4,559.4L558,556.2L563.6,553.4L569.2,550.8L574.9,548.6M548.9,559.3L554.4,555.8L560,552.7L565.6,549.8L571.3,547.3L577,545.1L582.8,543.2M550.9,555.8L556.4,552.4L562,549.3L567.6,546.5L573.3,544L579.1,541.8L584.9,539.9L590.7,538.3M558.3,549.2L563.9,546.1L569.6,543.3L575.3,540.8L581,538.6L586.8,536.7L592.7,535.2L598.6,533.9M565.7,543.1L571.4,540.3L577.1,537.8L582.9,535.7L588.7,533.8L594.6,532.3L600.6,531L606.6,530.1L612.6,529.4M578.9,535.1L584.7,532.9L590.5,531.1L596.4,529.5L602.4,528.3L608.4,527.4L614.5,526.8L620.6,526.5L626.8,526.5L633.1,526.8" fill="none" stroke="#e9e9e9" stroke-width="0.22" stroke-linecap="round"/>
<path d="M488.6,646.5L490.7,642L492.9,637.5L495.1,632.9L497.4,628.2M494.2,641.3L496.3,636.9L498.4,632.3L500.6,627.7L502.9,623.1L505.1,618.5L507.4,613.8L509.7,609.3M499.8,636.5L501.9,632L504,627.4L506.2,622.9L508.4,618.2L510.6,613.6L512.8,609L515.1,604.5L517.4,600L519.7,595.5L521.9,591.2L524.1,587L526.3,582.9M505.4,631.9L507.5,627.4L509.5,622.9L511.7,618.3L513.9,613.7L516.1,609.1L518.3,604.5L520.6,600L522.8,595.5L525.1,591.1L527.3,586.8L529.5,582.6L531.7,578.5L533.9,574.5L536,570.7L538,567.1L539.9,563.6L541.8,560.4L543.6,557.3M513,623.1L515.1,618.6L517.2,614.1L519.4,609.5L521.6,604.9L523.8,600.3L526,595.8L528.3,591.3L530.5,586.9L532.8,582.6L535,578.4L537.2,574.4L539.3,570.4L541.4,566.6L543.4,563L545.4,559.6L547.3,556.3L549,553.3L550.7,550.4L552.3,547.8M524.9,605.5L527.1,601L529.3,596.4L531.5,591.9L533.8,587.5L536,583.1L538.2,578.8L540.5,574.6L542.6,570.5L544.8,566.6L546.9,562.9L548.9,559.3L550.9,555.8L552.8,552.6L554.5,549.6L556.2,546.8L557.8,544.2M537.1,588.3L539.3,583.9L541.5,579.5L543.8,575.3L546,571.1L548.2,567.1L550.3,563.2L552.4,559.4L554.4,555.8L556.4,552.4L558.3,549.2L560.1,546.2L561.8,543.4L563.4,540.8M555.9,560L558,556.2L560,552.7L562,549.3L563.9,546.1L565.7,543.1L567.4,540.3L569,537.7M518.6,619.2L524.2,615.5L529.8,612.1L535.4,609.1L541,606.3L546.6,603.8L552.2,601.7M520.7,614.7L526.2,611L531.8,607.7L537.4,604.6L543,601.9L548.6,599.4M522.8,610.1L528.3,606.5L533.9,603.1L539.5,600.1L545.1,597.4L550.6,594.9M524.9,605.5L530.5,601.9L536,598.6L541.6,595.6L547.2,592.8L552.8,590.4M527.1,601L532.6,597.4L538.2,594L543.7,591L549.3,588.3L554.9,585.9M534.8,592.8L540.4,589.5L545.9,586.5L551.5,583.8L557.1,581.4L562.7,579.4M537.1,588.3L542.6,585L548.2,582.1L553.7,579.4L559.3,577L565,574.9M539.3,583.9L544.8,580.6L550.4,577.7L556,575L561.6,572.6L567.2,570.6M547.1,576.3L552.6,573.3L558.2,570.7L563.8,568.4L569.5,566.3L575.2,564.6M549.3,572L554.9,569.1L560.5,566.5L566.1,564.2L571.8,562.1L577.5,560.4M557.1,565L562.7,562.4L568.4,560.1L574,558.1L579.8,556.4L585.5,555M559.3,561L564.9,558.4L570.6,556.1L576.3,554.1L582,552.5L587.8,551.1L593.6,550M567.1,554.5L572.8,552.3L578.5,550.3L584.3,548.7L590.1,547.3L595.9,546.3L601.8,545.5M574.9,548.6L580.7,546.7L586.5,545L592.3,543.7L598.2,542.7L604.1,542L610,541.6M582.8,543.2L588.6,541.6L594.5,540.3L600.4,539.3L606.3,538.6L612.3,538.2L618.3,538.1L624.4,538.3M590.7,538.3L596.6,537L602.5,536L608.5,535.3L614.5,535L620.6,534.9L626.7,535.1L632.9,535.7M598.6,533.9L604.6,532.9L610.6,532.3L616.7,531.9L622.8,531.9L628.9,532.2L635.2,532.7M612.6,529.4L618.7,529.1L624.9,529.1L631.1,529.4L637.3,529.9M633.1,526.8L639.4,527.4" fill="none" stroke="#bdbdbd" stroke-width="0.3" transform="translate(0.55,0.45)"/>
<path d="M488.6,646.5L490.7,642L492.9,637.5L495.1,632.9L497.4,628.2M494.2,641.3L496.3,636.9L498.4,632.3L500.6,627.7L502.9,623.1L505.1,618.5L507.4,613.8L509.7,609.3M499.8,636.5L501.9,632L504,627.4L506.2,622.9L508.4,618.2L510.6,613.6L512.8,609L515.1,604.5L517.4,600L519.7,595.5L521.9,591.2L524.1,587L526.3,582.9M505.4,631.9L507.5,627.4L509.5,622.9L511.7,618.3L513.9,613.7L516.1,609.1L518.3,604.5L520.6,600L522.8,595.5L525.1,591.1L527.3,586.8L529.5,582.6L531.7,578.5L533.9,574.5L536,570.7L538,567.1L539.9,563.6L541.8,560.4L543.6,557.3M513,623.1L515.1,618.6L517.2,614.1L519.4,609.5L521.6,604.9L523.8,600.3L526,595.8L528.3,591.3L530.5,586.9L532.8,582.6L535,578.4L537.2,574.4L539.3,570.4L541.4,566.6L543.4,563L545.4,559.6L547.3,556.3L549,553.3L550.7,550.4L552.3,547.8M524.9,605.5L527.1,601L529.3,596.4L531.5,591.9L533.8,587.5L536,583.1L538.2,578.8L540.5,574.6L542.6,570.5L544.8,566.6L546.9,562.9L548.9,559.3L550.9,555.8L552.8,552.6L554.5,549.6L556.2,546.8L557.8,544.2M537.1,588.3L539.3,583.9L541.5,579.5L543.8,575.3L546,571.1L548.2,567.1L550.3,563.2L552.4,559.4L554.4,555.8L556.4,552.4L558.3,549.2L560.1,546.2L561.8,543.4L563.4,540.8M555.9,560L558,556.2L560,552.7L562,549.3L563.9,546.1L565.7,543.1L567.4,540.3L569,537.7M518.6,619.2L524.2,615.5L529.8,612.1L535.4,609.1L541,606.3L546.6,603.8L552.2,601.7M520.7,614.7L526.2,611L531.8,607.7L537.4,604.6L543,601.9L548.6,599.4M522.8,610.1L528.3,606.5L533.9,603.1L539.5,600.1L545.1,597.4L550.6,594.9M524.9,605.5L530.5,601.9L536,598.6L541.6,595.6L547.2,592.8L552.8,590.4M527.1,601L532.6,597.4L538.2,594L543.7,591L549.3,588.3L554.9,585.9M534.8,592.8L540.4,589.5L545.9,586.5L551.5,583.8L557.1,581.4L562.7,579.4M537.1,588.3L542.6,585L548.2,582.1L553.7,579.4L559.3,577L565,574.9M539.3,583.9L544.8,580.6L550.4,577.7L556,575L561.6,572.6L567.2,570.6M547.1,576.3L552.6,573.3L558.2,570.7L563.8,568.4L569.5,566.3L575.2,564.6M549.3,572L554.9,569.1L560.5,566.5L566.1,564.2L571.8,562.1L577.5,560.4M557.1,565L562.7,562.4L568.4,560.1L574,558.1L579.8,556.4L585.5,555M559.3,561L564.9,558.4L570.6,556.1L576.3,554.1L582,552.5L587.8,551.1L593.6,550M567.1,554.5L572.8,552.3L578.5,550.3L584.3,548.7L590.1,547.3L595.9,546.3L601.8,545.5M574.9,548.6L580.7,546.7L586.5,545L592.3,543.7L598.2,542.7L604.1,542L610,541.6M582.8,543.2L588.6,541.6L594.5,540.3L600.4,539.3L606.3,538.6L612.3,538.2L618.3,538.1L624.4,538.3M590.7,538.3L596.6,537L602.5,536L608.5,535.3L614.5,535L620.6,534.9L626.7,535.1L632.9,535.7M598.6,533.9L604.6,532.9L610.6,532.3L616.7,531.9L622.8,531.9L628.9,532.2L635.2,532.7M612.6,529.4L618.7,529.1L624.9,529.1L631.1,529.4L637.3,529.9M633.1,526.8L639.4,527.4" fill="none" stroke="#e9e9e9" stroke-width="0.4" stroke-linecap="round"/>
<path d="M511,627.6L513,623.1M516.6,623.6L518.6,619.2L520.7,614.7L522.8,610.1L524.9,605.5M522.2,619.9L524.2,615.5L526.2,611L528.3,606.5L530.5,601.9L532.6,597.4L534.8,592.8L537.1,588.3M527.8,616.6L529.8,612.1L531.8,607.7L533.9,603.1L536,598.6L538.2,594L540.4,589.5L542.6,585L544.8,580.6L547.1,576.3L549.3,572L551.5,567.9L553.7,563.9L555.9,560M533.4,613.5L535.4,609.1L537.4,604.6L539.5,600.1L541.6,595.6L543.7,591L545.9,586.5L548.2,582.1L550.4,577.7L552.6,573.3L554.9,569.1L557.1,565L559.3,561L561.5,557.1L563.6,553.4L565.6,549.8L567.6,546.5L569.6,543.3L571.4,540.3L573.1,537.5L574.7,535M539,610.7L541,606.3L543,601.9L545.1,597.4L547.2,592.8L549.3,588.3L551.5,583.8L553.7,579.4L556,575L558.2,570.7L560.5,566.5L562.7,562.4L564.9,558.4L567.1,554.5L569.2,550.8L571.3,547.3L573.3,544L575.3,540.8L577.1,537.8L578.9,535.1L580.5,532.5M544.7,608.2L546.6,603.8L548.6,599.4L550.6,594.9L552.8,590.4L554.9,585.9L557.1,581.4L559.3,577L561.6,572.6L563.8,568.4L566.1,564.2L568.4,560.1L570.6,556.1L572.8,552.3L574.9,548.6L577,545.1L579.1,541.8L581,538.6L582.9,535.7L584.7,532.9L586.3,530.4M550.3,606L552.2,601.7L554.2,597.2L556.2,592.8L558.4,588.3L560.5,583.8L562.7,579.4L565,574.9L567.2,570.6L569.5,566.3L571.8,562.1L574,558.1L576.3,554.1L578.5,550.3L580.7,546.7L582.8,543.2L584.9,539.9L586.8,536.7L588.7,533.8L590.5,531.1L592.2,528.6M555.9,604.2L557.8,599.8L559.8,595.4L561.9,590.9L564,586.5L566.2,582L568.4,577.6L570.6,573.2L572.9,568.8L575.2,564.6L577.5,560.4L579.8,556.4L582,552.5L584.3,548.7L586.5,545L588.6,541.6L590.7,538.3L592.7,535.2L594.6,532.3L596.4,529.5L598.1,527.1M561.5,602.6L563.4,598.2L565.4,593.8L567.5,589.4L569.6,585L571.8,580.5L574,576.1L576.3,571.7L578.6,567.4L580.9,563.2L583.2,559L585.5,555L587.8,551.1L590.1,547.3L592.3,543.7L594.5,540.3L596.6,537L598.6,533.9L600.6,531L602.4,528.3L604.1,525.8M567.1,601.3L569,597L571,592.6L573.1,588.2L575.2,583.7L577.4,579.3L579.7,574.9L582,570.6L584.3,566.3L586.6,562L589,557.9L591.3,553.9L593.6,550L595.9,546.3L598.2,542.7L600.4,539.3L602.5,536L604.6,532.9L606.6,530.1L608.4,527.4L610.2,524.9M572.7,600.3L574.6,596L576.6,591.6L578.7,587.2L580.9,582.8L583.1,578.4L585.4,574L587.7,569.7L590,565.4L592.4,561.2L594.7,557.1L597.1,553.1L599.5,549.3L601.8,545.5L604.1,542L606.3,538.6L608.5,535.3L610.6,532.3L612.6,529.4L614.5,526.8L616.3,524.3M578.3,599.6L580.2,595.3L582.3,591L584.4,586.6L586.6,582.2L588.8,577.8L591.1,573.5L593.4,569.1L595.8,564.9L598.2,560.7L600.6,556.6L603,552.7L605.3,548.8L607.7,545.1L610,541.6L612.3,538.2L614.5,535L616.7,531.9L618.7,529.1L620.6,526.5L622.5,524M583.9,599.3L585.9,595L587.9,590.6L590,586.3L592.2,581.9L594.5,577.5L596.8,573.2L599.2,568.9L601.6,564.6L604,560.5L606.4,556.4L608.8,552.5L611.3,548.7L613.7,545L616,541.5L618.3,538.1L620.6,534.9L622.8,531.9L624.9,529.1L626.8,526.5L628.7,524.1M589.5,599.2L591.5,594.9L593.6,590.6L595.7,586.2L597.9,581.9L600.2,577.5L602.6,573.2L605,568.9L607.4,564.7L609.8,560.6L612.3,556.5L614.8,552.6L617.2,548.8L619.7,545.2L622.1,541.7L624.4,538.3L626.7,535.1L628.9,532.2L631.1,529.4L633.1,526.8L635,524.4M552.2,601.7L557.8,599.8L563.4,598.2L569,597L574.6,596L580.2,595.3L585.9,595L591.5,594.9L597.1,595.2M548.6,599.4L554.2,597.2L559.8,595.4L565.4,593.8L571,592.6L576.6,591.6L582.3,591L587.9,590.6L593.6,590.6L599.2,590.9M550.6,594.9L556.2,592.8L561.9,590.9L567.5,589.4L573.1,588.2L578.7,587.2L584.4,586.6L590,586.3L595.7,586.2L601.4,586.5M552.8,590.4L558.4,588.3L564,586.5L569.6,585L575.2,583.7L580.9,582.8L586.6,582.2L592.2,581.9L597.9,581.9L603.6,582.2M554.9,585.9L560.5,583.8L566.2,582L571.8,580.5L577.4,579.3L583.1,578.4L588.8,577.8L594.5,577.5L600.2,577.5L606,577.8M562.7,579.4L568.4,577.6L574,576.1L579.7,574.9L585.4,574L591.1,573.5L596.8,573.2L602.6,573.2L608.3,573.5M565,574.9L570.6,573.2L576.3,571.7L582,570.6L587.7,569.7L593.4,569.1L599.2,568.9L605,568.9L610.8,569.3M567.2,570.6L572.9,568.8L578.6,567.4L584.3,566.3L590,565.4L595.8,564.9L601.6,564.6L607.4,564.7L613.2,565.1M575.2,564.6L580.9,563.2L586.6,562L592.4,561.2L598.2,560.7L604,560.5L609.8,560.6L615.7,561M577.5,560.4L583.2,559L589,557.9L594.7,557.1L600.6,556.6L606.4,556.4L612.3,556.5L618.2,557M585.5,555L591.3,553.9L597.1,553.1L603,552.7L608.8,552.5L614.8,552.6L620.7,553.1M593.6,550L599.5,549.3L605.3,548.8L611.3,548.7L617.2,548.8L623.2,549.3M601.8,545.5L607.7,545.1L613.7,545L619.7,545.2L625.7,545.7M610,541.6L616,541.5L622.1,541.7L628.2,542.2M624.4,538.3L630.6,538.8" fill="none" stroke="#bdbdbd" stroke-width="0.5" transform="translate(0.55,0.45)"/>
<path d="M511,627.6L513,623.1M516.6,623.6L518.6,619.2L520.7,614.7L522.8,610.1L524.9,605.5M522.2,619.9L524.2,615.5L526.2,611L528.3,606.5L530.5,601.9L532.6,597.4L534.8,592.8L537.1,588.3M527.8,616.6L529.8,612.1L531.8,607.7L533.9,603.1L536,598.6L538.2,594L540.4,589.5L542.6,585L544.8,580.6L547.1,576.3L549.3,572L551.5,567.9L553.7,563.9L555.9,560M533.4,613.5L535.4,609.1L537.4,604.6L539.5,600.1L541.6,595.6L543.7,591L545.9,586.5L548.2,582.1L550.4,577.7L552.6,573.3L554.9,569.1L557.1,565L559.3,561L561.5,557.1L563.6,553.4L565.6,549.8L567.6,546.5L569.6,543.3L571.4,540.3L573.1,537.5L574.7,535M539,610.7L541,606.3L543,601.9L545.1,597.4L547.2,592.8L549.3,588.3L551.5,583.8L553.7,579.4L556,575L558.2,570.7L560.5,566.5L562.7,562.4L564.9,558.4L567.1,554.5L569.2,550.8L571.3,547.3L573.3,544L575.3,540.8L577.1,537.8L578.9,535.1L580.5,532.5M544.7,608.2L546.6,603.8L548.6,599.4L550.6,594.9L552.8,590.4L554.9,585.9L557.1,581.4L559.3,577L561.6,572.6L563.8,568.4L566.1,564.2L568.4,560.1L570.6,556.1L572.8,552.3L574.9,548.6L577,545.1L579.1,541.8L581,538.6L582.9,535.7L584.7,532.9L586.3,530.4M550.3,606L552.2,601.7L554.2,597.2L556.2,592.8L558.4,588.3L560.5,583.8L562.7,579.4L565,574.9L567.2,570.6L569.5,566.3L571.8,562.1L574,558.1L576.3,554.1L578.5,550.3L580.7,546.7L582.8,543.2L584.9,539.9L586.8,536.7L588.7,533.8L590.5,531.1L592.2,528.6M555.9,604.2L557.8,599.8L559.8,595.4L561.9,590.9L564,586.5L566.2,582L568.4,577.6L570.6,573.2L572.9,568.8L575.2,564.6L577.5,560.4L579.8,556.4L582,552.5L584.3,548.7L586.5,545L588.6,541.6L590.7,538.3L592.7,535.2L594.6,532.3L596.4,529.5L598.1,527.1M561.5,602.6L563.4,598.2L565.4,593.8L567.5,589.4L569.6,585L571.8,580.5L574,576.1L576.3,571.7L578.6,567.4L580.9,563.2L583.2,559L585.5,555L587.8,551.1L590.1,547.3L592.3,543.7L594.5,540.3L596.6,537L598.6,533.9L600.6,531L602.4,528.3L604.1,525.8M567.1,601.3L569,597L571,592.6L573.1,588.2L575.2,583.7L577.4,579.3L579.7,574.9L582,570.6L584.3,566.3L586.6,562L589,557.9L591.3,553.9L593.6,550L595.9,546.3L598.2,542.7L600.4,539.3L602.5,536L604.6,532.9L606.6,530.1L608.4,527.4L610.2,524.9M572.7,600.3L574.6,596L576.6,591.6L578.7,587.2L580.9,582.8L583.1,578.4L585.4,574L587.7,569.7L590,565.4L592.4,561.2L594.7,557.1L597.1,553.1L599.5,549.3L601.8,545.5L604.1,542L606.3,538.6L608.5,535.3L610.6,532.3L612.6,529.4L614.5,526.8L616.3,524.3M578.3,599.6L580.2,595.3L582.3,591L584.4,586.6L586.6,582.2L588.8,577.8L591.1,573.5L593.4,569.1L595.8,564.9L598.2,560.7L600.6,556.6L603,552.7L605.3,548.8L607.7,545.1L610,541.6L612.3,538.2L614.5,535L616.7,531.9L618.7,529.1L620.6,526.5L622.5,524M583.9,599.3L585.9,595L587.9,590.6L590,586.3L592.2,581.9L594.5,577.5L596.8,573.2L599.2,568.9L601.6,564.6L604,560.5L606.4,556.4L608.8,552.5L611.3,548.7L613.7,545L616,541.5L618.3,538.1L620.6,534.9L622.8,531.9L624.9,529.1L626.8,526.5L628.7,524.1M589.5,599.2L591.5,594.9L593.6,590.6L595.7,586.2L597.9,581.9L600.2,577.5L602.6,573.2L605,568.9L607.4,564.7L609.8,560.6L612.3,556.5L614.8,552.6L617.2,548.8L619.7,545.2L622.1,541.7L624.4,538.3L626.7,535.1L628.9,532.2L631.1,529.4L633.1,526.8L635,524.4M552.2,601.7L557.8,599.8L563.4,598.2L569,597L574.6,596L580.2,595.3L585.9,595L591.5,594.9L597.1,595.2M548.6,599.4L554.2,597.2L559.8,595.4L565.4,593.8L571,592.6L576.6,591.6L582.3,591L587.9,590.6L593.6,590.6L599.2,590.9M550.6,594.9L556.2,592.8L561.9,590.9L567.5,589.4L573.1,588.2L578.7,587.2L584.4,586.6L590,586.3L595.7,586.2L601.4,586.5M552.8,590.4L558.4,588.3L564,586.5L569.6,585L575.2,583.7L580.9,582.8L586.6,582.2L592.2,581.9L597.9,581.9L603.6,582.2M554.9,585.9L560.5,583.8L566.2,582L571.8,580.5L577.4,579.3L583.1,578.4L588.8,577.8L594.5,577.5L600.2,577.5L606,577.8M562.7,579.4L568.4,577.6L574,576.1L579.7,574.9L585.4,574L591.1,573.5L596.8,573.2L602.6,573.2L608.3,573.5M565,574.9L570.6,573.2L576.3,571.7L582,570.6L587.7,569.7L593.4,569.1L599.2,568.9L605,568.9L610.8,569.3M567.2,570.6L572.9,568.8L578.6,567.4L584.3,566.3L590,565.4L595.8,564.9L601.6,564.6L607.4,564.7L613.2,565.1M575.2,564.6L580.9,563.2L586.6,562L592.4,561.2L598.2,560.7L604,560.5L609.8,560.6L615.7,561M577.5,560.4L583.2,559L589,557.9L594.7,557.1L600.6,556.6L606.4,556.4L612.3,556.5L618.2,557M585.5,555L591.3,553.9L597.1,553.1L603,552.7L608.8,552.5L614.8,552.6L620.7,553.1M593.6,550L599.5,549.3L605.3,548.8L611.3,548.7L617.2,548.8L623.2,549.3M601.8,545.5L607.7,545.1L613.7,545L619.7,545.2L625.7,545.7M610,541.6L616,541.5L622.1,541.7L628.2,542.2M624.4,538.3L630.6,538.8" fill="none" stroke="#e9e9e9" stroke-width="0.6" stroke-linecap="round"/>
<path d="M471.2,663.7L598.3,691.3" stroke="#8c8c8c" stroke-width="0.9" fill="none" stroke-linecap="round"/>
<path d="M598.3,691.3L653.8,622.2" stroke="#8c8c8c" stroke-width="0.9" fill="none" stroke-linecap="round"/>
<text x="446.5" y="558" class="n" textLength="10.6" lengthAdjust="spacingAndGlyphs">100</text>
<text x="448.8" y="591.8" class="n" textLength="7.2" lengthAdjust="spacingAndGlyphs">80</text>
<text x="449.4" y="625.9" class="n" textLength="7.2" lengthAdjust="spacingAndGlyphs">60</text>
<text x="449.9" y="660.8" class="n" textLength="7.2" lengthAdjust="spacingAndGlyphs">40</text>
<text x="467.7" y="677.7" class="n" textLength="3.6" lengthAdjust="spacingAndGlyphs">1</text>
<text x="524.3" y="689.7" class="n" textLength="3.6" lengthAdjust="spacingAndGlyphs">2</text>
<text x="582.1" y="701.4" class="n" textLength="3.6" lengthAdjust="spacingAndGlyphs">3</text>
<text x="614.1" y="691.7" class="n" textLength="8.6" lengthAdjust="spacingAndGlyphs">0,0</text>
<text x="629.5" y="673.3" class="n" textLength="8.6" lengthAdjust="spacingAndGlyphs">1,5</text>
<text x="644" y="654.9" class="n" textLength="8.6" lengthAdjust="spacingAndGlyphs">3,0</text>
<text x="658.2" y="636.7" class="n" textLength="8.6" lengthAdjust="spacingAndGlyphs">4,5</text>
<path d="M468.7,559.2h-2.6M469.5,593.5h-2.6M470.4,627.6h-2.6M471.2,661.9h-2.6M477.8,665.1l-1.5,1.9M534.2,677.4l-1.5,1.9M591.4,689.8l-1.5,1.9M601.3,687.6l2.3,0.5M616.1,669.2l2.3,0.5M630.8,650.8l2.3,0.5M645.4,632.6l2.3,0.5" fill="none" stroke="#a8a8a8" stroke-width="0.8"/>
<text x="366.6" y="599.1" class="t" textLength="72.6" lengthAdjust="spacingAndGlyphs">Extraction yield (%)</text>
<text x="497.4" y="705.5" class="t" textLength="62.8" lengthAdjust="spacingAndGlyphs">Flow rate (L/min)</text>
<text x="653" y="672" class="t" textLength="84.2" lengthAdjust="spacingAndGlyphs">Modifier concentration</text>
<text x="681.8" y="681.7" class="t" textLength="26.4" lengthAdjust="spacingAndGlyphs">(mol%)</text>
<text x="374.7" y="498.2" class="pl">(f)</text>
</svg>
</body>
</html>
